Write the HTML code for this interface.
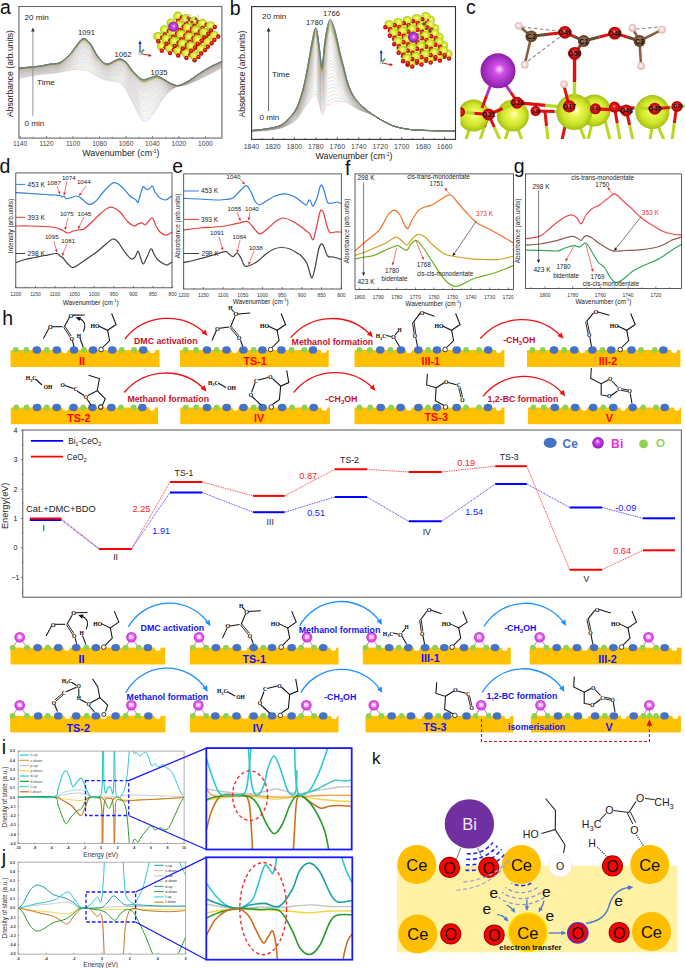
<!DOCTYPE html>
<html><head><meta charset="utf-8"><style>
html,body{margin:0;padding:0;background:#fff;width:685px;height:968px;overflow:hidden}
svg{display:block}
svg text{font-family:"Liberation Sans",sans-serif}
</style></head><body>
<svg width="685" height="968" viewBox="0 0 685 968">
<rect width="685" height="968" fill="#fff"/>
<defs>
<radialGradient id="gCe" cx="0.5" cy="0.5" r="0.5" fx="0.55" fy="0.45"><stop offset="0" stop-color="#ffffd8"/><stop offset="0.25" stop-color="#eef85a"/><stop offset="0.7" stop-color="#cde428"/><stop offset="1" stop-color="#a6be14"/></radialGradient>
<radialGradient id="gO" cx="0.5" cy="0.5" r="0.5" fx="0.45" fy="0.4"><stop offset="0" stop-color="#ff9a9a"/><stop offset="0.35" stop-color="#ee1b1b"/><stop offset="1" stop-color="#a80000"/></radialGradient>
<radialGradient id="gBi" cx="0.5" cy="0.5" r="0.5" fx="0.55" fy="0.45"><stop offset="0" stop-color="#ffd8ff"/><stop offset="0.3" stop-color="#d24fe8"/><stop offset="1" stop-color="#8a1ea8"/></radialGradient>
<radialGradient id="gC" cx="0.5" cy="0.5" r="0.5" fx="0.45" fy="0.4"><stop offset="0" stop-color="#b08a6a"/><stop offset="1" stop-color="#5a3a20"/></radialGradient>
<radialGradient id="gH" cx="0.5" cy="0.5" r="0.5" fx="0.45" fy="0.4"><stop offset="0" stop-color="#ffffff"/><stop offset="1" stop-color="#e0b4b4"/></radialGradient>
<radialGradient id="gBi2" cx="0.5" cy="0.5" r="0.5" fx="0.5" fy="0.4"><stop offset="0" stop-color="#ffe4ff"/><stop offset="0.5" stop-color="#e866f4"/><stop offset="1" stop-color="#c030d4"/></radialGradient>
<radialGradient id="gBiL" cx="0.5" cy="0.5" r="0.5" fx="0.45" fy="0.35"><stop offset="0" stop-color="#f8c8ff"/><stop offset="0.4" stop-color="#c844e8"/><stop offset="1" stop-color="#8a18b8"/></radialGradient>
<clipPath id="clipC"><rect x="460.5" y="0" width="225" height="139"/></clipPath>
</defs>
<clipPath id="clipF"><rect x="355" y="173.9" width="158.4" height="115.6"/></clipPath>
<text x="0" y="14.3" font-size="19.5" text-anchor="start" fill="#111" font-weight="normal" >a</text>
<path d="M19,78.5 C20.83,78.08 26.5,76.67 30,76 C33.5,75.33 36.67,74.92 40,74.5 C43.33,74.08 46.67,73.87 50,73.5 C53.33,73.13 56.67,72.88 60,72.3 C63.33,71.72 67.33,70.47 70,70 C72.67,69.53 73.83,69.58 76,69.5 C78.17,69.42 80.67,69.08 83,69.5 C85.33,69.92 87.67,70.92 90,72 C92.33,73.08 94.83,74.83 97,76 C99.17,77.17 101.17,78.25 103,79 C104.83,79.75 106.17,80.08 108,80.5 C109.83,80.92 112,81.08 114,81.5 C116,81.92 118,81.58 120,83 C122,84.42 123.83,86.67 126,90 C128.17,93.33 130.33,98.08 133,103 C135.67,107.92 139.33,116.83 142,119.5 C144.67,122.17 146.67,120.58 149,119 C151.33,117.42 153.83,113.17 156,110 C158.17,106.83 159.67,103.17 162,100 C164.33,96.83 167.42,93.28 170,91 C172.58,88.72 175,87.3 177.5,86.3 C180,85.3 182.42,85.72 185,85 C187.58,84.28 190.5,83 193,82 C195.5,81 197.17,80.33 200,79 C202.83,77.67 206.42,75.83 210,74 C213.58,72.17 219.58,69 221.5,68" stroke="#e07070" stroke-width="0.45" fill="none" opacity="0.7"/>
<path d="M19,77.87 C20.83,77.47 26.5,76.11 30,75.46 C33.5,74.82 36.67,74.41 40,73.99 C43.33,73.57 46.67,73.31 50,72.93 C53.33,72.55 56.67,72.36 60,71.72 C63.33,71.07 67.33,69.65 70,69.04 C72.67,68.44 73.83,68.33 76,68.1 C78.17,67.86 80.67,67.28 83,67.64 C85.33,68.01 87.67,69.09 90,70.27 C92.33,71.45 94.83,73.46 97,74.75 C99.17,76.03 101.17,77.19 103,77.99 C104.83,78.78 106.17,79.12 108,79.5 C109.83,79.89 112,79.94 114,80.28 C116,80.62 118,80.21 120,81.55 C122,82.89 123.83,85.07 126,88.33 C128.17,91.59 130.33,96.3 133,101.09 C135.67,105.88 139.33,114.52 142,117.09 C144.67,119.67 146.67,118.08 149,116.55 C151.33,115.03 153.83,110.94 156,107.96 C158.17,104.98 159.67,101.59 162,98.69 C164.33,95.78 167.42,92.59 170,90.52 C172.58,88.45 175,87.2 177.5,86.26 C180,85.32 182.42,85.63 185,84.88 C187.58,84.13 190.5,82.8 193,81.76 C195.5,80.72 197.17,80.01 200,78.64 C202.83,77.28 206.42,75.42 210,73.58 C213.58,71.74 219.58,68.61 221.5,67.61" stroke="#70a0e0" stroke-width="0.45" fill="none" opacity="0.7"/>
<path d="M19,77.27 C20.83,76.88 26.5,75.57 30,74.94 C33.5,74.31 36.67,73.93 40,73.5 C43.33,73.07 46.67,72.78 50,72.38 C53.33,71.99 56.67,71.86 60,71.15 C63.33,70.44 67.33,68.85 70,68.12 C72.67,67.38 73.83,67.12 76,66.74 C78.17,66.36 80.67,65.54 83,65.84 C85.33,66.15 87.67,67.31 90,68.59 C92.33,69.87 94.83,72.13 97,73.53 C99.17,74.93 101.17,76.17 103,77 C104.83,77.84 106.17,78.19 108,78.54 C109.83,78.89 112,78.82 114,79.09 C116,79.36 118,78.87 120,80.14 C122,81.41 123.83,83.53 126,86.71 C128.17,89.89 130.33,94.56 133,99.24 C135.67,103.91 139.33,112.27 142,114.76 C144.67,117.25 146.67,115.64 149,114.18 C151.33,112.72 153.83,108.77 156,105.98 C158.17,103.19 159.67,100.07 162,97.41 C164.33,94.76 167.42,91.93 170,90.06 C172.58,88.19 175,87.1 177.5,86.22 C180,85.34 182.42,85.55 185,84.76 C187.58,83.98 190.5,82.61 193,81.53 C195.5,80.45 197.17,79.69 200,78.29 C202.83,76.9 206.42,75.02 210,73.18 C213.58,71.33 219.58,68.23 221.5,67.24" stroke="#70c070" stroke-width="0.45" fill="none" opacity="0.7"/>
<path d="M19,76.68 C20.83,76.3 26.5,75.05 30,74.44 C33.5,73.83 36.67,73.46 40,73.02 C43.33,72.59 46.67,72.26 50,71.85 C53.33,71.45 56.67,71.37 60,70.6 C63.33,69.83 67.33,68.09 70,67.22 C72.67,66.36 73.83,65.94 76,65.42 C78.17,64.9 80.67,63.84 83,64.1 C85.33,64.36 87.67,65.59 90,66.97 C92.33,68.34 94.83,70.84 97,72.36 C99.17,73.87 101.17,75.18 103,76.05 C104.83,76.92 106.17,77.29 108,77.6 C109.83,77.92 112,77.75 114,77.94 C116,78.14 118,77.58 120,78.78 C122,79.98 123.83,82.03 126,85.14 C128.17,88.25 130.33,92.89 133,97.45 C135.67,102.01 139.33,110.1 142,112.51 C144.67,114.91 146.67,113.29 149,111.88 C151.33,110.48 153.83,106.68 156,104.06 C158.17,101.45 159.67,98.59 162,96.18 C164.33,93.77 167.42,91.28 170,89.61 C172.58,87.94 175,87 177.5,86.18 C180,85.35 182.42,85.47 185,84.65 C187.58,83.84 190.5,82.42 193,81.31 C195.5,80.19 197.17,79.38 200,77.96 C202.83,76.54 206.42,74.63 210,72.79 C213.58,70.94 219.58,67.86 221.5,66.87" stroke="#e8a850" stroke-width="0.45" fill="none" opacity="0.7"/>
<path d="M19,76.11 C20.83,75.75 26.5,74.54 30,73.95 C33.5,73.36 36.67,73 40,72.56 C43.33,72.13 46.67,71.75 50,71.34 C53.33,70.92 56.67,70.9 60,70.07 C63.33,69.24 67.33,67.34 70,66.36 C72.67,65.37 73.83,64.8 76,64.15 C78.17,63.49 80.67,62.21 83,62.42 C85.33,62.63 87.67,63.93 90,65.4 C92.33,66.86 94.83,69.6 97,71.22 C99.17,72.84 101.17,74.22 103,75.13 C104.83,76.04 106.17,76.41 108,76.7 C109.83,76.98 112,76.7 114,76.83 C116,76.96 118,76.33 120,77.47 C122,78.6 123.83,80.58 126,83.62 C128.17,86.66 130.33,91.26 133,95.71 C135.67,100.16 139.33,108 142,110.32 C144.67,112.65 146.67,111.01 149,109.66 C151.33,108.31 153.83,104.66 156,102.21 C158.17,99.77 159.67,97.16 162,94.99 C164.33,92.82 167.42,90.65 170,89.18 C172.58,87.7 175,86.91 177.5,86.14 C180,85.37 182.42,85.39 185,84.54 C187.58,83.7 190.5,82.24 193,81.09 C195.5,79.94 197.17,79.08 200,77.63 C202.83,76.19 206.42,74.26 210,72.41 C213.58,70.55 219.58,67.5 221.5,66.52" stroke="#b080d8" stroke-width="0.45" fill="none" opacity="0.7"/>
<path d="M19,75.56 C20.83,75.21 26.5,74.05 30,73.48 C33.5,72.91 36.67,72.56 40,72.12 C43.33,71.68 46.67,71.27 50,70.84 C53.33,70.41 56.67,70.44 60,69.56 C63.33,68.67 67.33,66.62 70,65.52 C72.67,64.41 73.83,63.71 76,62.92 C78.17,62.13 80.67,60.63 83,60.79 C85.33,60.95 87.67,62.32 90,63.88 C92.33,65.43 94.83,68.39 97,70.12 C99.17,71.85 101.17,73.29 103,74.24 C104.83,75.19 106.17,75.57 108,75.82 C109.83,76.08 112,75.7 114,75.76 C116,75.82 118,75.13 120,76.19 C122,77.26 123.83,79.18 126,82.16 C128.17,85.13 130.33,89.7 133,94.04 C135.67,98.38 139.33,105.97 142,108.21 C144.67,110.46 146.67,108.82 149,107.52 C151.33,106.22 153.83,102.7 156,100.42 C158.17,98.14 159.67,95.78 162,93.84 C164.33,91.89 167.42,90.05 170,88.76 C172.58,87.47 175,86.82 177.5,86.1 C180,85.38 182.42,85.31 185,84.44 C187.58,83.57 190.5,82.07 193,80.88 C195.5,79.69 197.17,78.79 200,77.32 C202.83,75.85 206.42,73.9 210,72.04 C213.58,70.18 219.58,67.16 221.5,66.18" stroke="#50c0c0" stroke-width="0.45" fill="none" opacity="0.7"/>
<path d="M19,75.03 C20.83,74.69 26.5,73.58 30,73.02 C33.5,72.47 36.67,72.13 40,71.69 C43.33,71.25 46.67,70.8 50,70.36 C53.33,69.92 56.67,70 60,69.06 C63.33,68.12 67.33,65.93 70,64.71 C72.67,63.49 73.83,62.65 76,61.73 C78.17,60.82 80.67,59.11 83,59.22 C85.33,59.33 87.67,60.77 90,62.41 C92.33,64.05 94.83,67.23 97,69.06 C99.17,70.89 101.17,72.39 103,73.38 C104.83,74.37 106.17,74.76 108,74.98 C109.83,75.2 112,74.73 114,74.72 C116,74.72 118,73.96 120,74.97 C122,75.97 123.83,77.83 126,80.74 C128.17,83.65 130.33,88.18 133,92.42 C135.67,96.66 139.33,104.01 142,106.18 C144.67,108.35 146.67,106.69 149,105.45 C151.33,104.2 153.83,100.81 156,98.69 C158.17,96.57 159.67,94.45 162,92.73 C164.33,91 167.42,89.47 170,88.36 C172.58,87.25 175,86.74 177.5,86.07 C180,85.4 182.42,85.24 185,84.34 C187.58,83.44 190.5,81.9 193,80.68 C195.5,79.46 197.17,78.52 200,77.02 C202.83,75.52 206.42,73.55 210,71.69 C213.58,69.83 219.58,66.82 221.5,65.85" stroke="#d880b0" stroke-width="0.45" fill="none" opacity="0.7"/>
<path d="M19,74.52 C20.83,74.2 26.5,73.13 30,72.59 C33.5,72.05 36.67,71.72 40,71.28 C43.33,70.83 46.67,70.35 50,69.9 C53.33,69.45 56.67,69.58 60,68.58 C63.33,67.59 67.33,65.26 70,63.93 C72.67,62.6 73.83,61.63 76,60.59 C78.17,59.55 80.67,57.64 83,57.71 C85.33,57.77 87.67,59.28 90,61 C92.33,62.72 94.83,66.11 97,68.04 C99.17,69.96 101.17,71.53 103,72.55 C104.83,73.57 106.17,73.97 108,74.17 C109.83,74.36 112,73.79 114,73.73 C116,73.66 118,72.84 120,73.78 C122,74.73 123.83,76.53 126,79.38 C128.17,82.23 130.33,86.72 133,90.86 C135.67,95 139.33,102.12 142,104.22 C144.67,106.31 146.67,104.65 149,103.45 C151.33,102.25 153.83,99 156,97.03 C158.17,95.06 159.67,93.17 162,91.66 C164.33,90.15 167.42,88.9 170,87.97 C172.58,87.03 175,86.66 177.5,86.03 C180,85.41 182.42,85.17 185,84.24 C187.58,83.32 190.5,81.74 193,80.48 C195.5,79.23 197.17,78.25 200,76.72 C202.83,75.2 206.42,73.21 210,71.35 C213.58,69.48 219.58,66.5 221.5,65.53" stroke="#a0a050" stroke-width="0.45" fill="none" opacity="0.7"/>
<path d="M19,74.03 C20.83,73.72 26.5,72.69 30,72.17 C33.5,71.64 36.67,71.33 40,70.88 C43.33,70.43 46.67,69.91 50,69.45 C53.33,68.99 56.67,69.17 60,68.12 C63.33,67.08 67.33,64.62 70,63.18 C72.67,61.74 73.83,60.64 76,59.49 C78.17,58.33 80.67,56.22 83,56.25 C85.33,56.28 87.67,57.84 90,59.64 C92.33,61.44 94.83,65.03 97,67.05 C99.17,69.07 101.17,70.7 103,71.76 C104.83,72.81 106.17,73.22 108,73.38 C109.83,73.55 112,72.89 114,72.77 C116,72.64 118,71.76 120,72.65 C122,73.53 123.83,75.28 126,78.07 C128.17,80.86 130.33,85.32 133,89.37 C135.67,93.41 139.33,100.3 142,102.33 C144.67,104.36 146.67,102.68 149,101.53 C151.33,100.38 153.83,97.25 156,95.43 C158.17,93.61 159.67,91.93 162,90.63 C164.33,89.32 167.42,88.36 170,87.59 C172.58,86.82 175,86.58 177.5,86 C180,85.43 182.42,85.1 185,84.15 C187.58,83.2 190.5,81.58 193,80.3 C195.5,79.01 197.17,77.99 200,76.44 C202.83,74.9 206.42,72.89 210,71.02 C213.58,69.15 219.58,66.19 221.5,65.23" stroke="#80b0e0" stroke-width="0.45" fill="none" opacity="0.7"/>
<path d="M19,73.55 C20.83,73.25 26.5,72.27 30,71.76 C33.5,71.25 36.67,70.95 40,70.5 C43.33,70.04 46.67,69.49 50,69.02 C53.33,68.56 56.67,68.78 60,67.68 C63.33,66.59 67.33,64.01 70,62.46 C72.67,60.92 73.83,59.7 76,58.43 C78.17,57.16 80.67,54.86 83,54.85 C85.33,54.83 87.67,56.46 90,58.34 C92.33,60.22 94.83,64 97,66.11 C99.17,68.22 101.17,69.9 103,70.99 C104.83,72.08 106.17,72.49 108,72.63 C109.83,72.77 112,72.02 114,71.84 C116,71.66 118,70.73 120,71.55 C122,72.38 123.83,74.08 126,76.81 C128.17,79.54 130.33,83.97 133,87.93 C135.67,91.88 139.33,98.56 142,100.52 C144.67,102.48 146.67,100.79 149,99.69 C151.33,98.58 153.83,95.56 156,93.89 C158.17,92.21 159.67,90.75 162,89.64 C164.33,88.53 167.42,87.84 170,87.23 C172.58,86.62 175,86.5 177.5,85.97 C180,85.44 182.42,85.03 185,84.06 C187.58,83.08 190.5,81.43 193,80.12 C195.5,78.8 197.17,77.74 200,76.17 C202.83,74.6 206.42,72.58 210,70.7 C213.58,68.83 219.58,65.9 221.5,64.94" stroke="#e0a070" stroke-width="0.45" fill="none" opacity="0.7"/>
<path d="M19,73.1 C20.83,72.81 26.5,71.87 30,71.37 C33.5,70.88 36.67,70.59 40,70.13 C43.33,69.67 46.67,69.09 50,68.61 C53.33,68.14 56.67,68.4 60,67.26 C63.33,66.12 67.33,63.41 70,61.77 C72.67,60.13 73.83,58.79 76,57.42 C78.17,56.04 80.67,53.56 83,53.51 C85.33,53.45 87.67,55.14 90,57.09 C92.33,59.04 94.83,63.01 97,65.2 C99.17,67.4 101.17,69.14 103,70.26 C104.83,71.38 106.17,71.8 108,71.91 C109.83,72.03 112,71.19 114,70.96 C116,70.72 118,69.73 120,70.5 C122,71.28 123.83,72.93 126,75.6 C128.17,78.27 130.33,82.68 133,86.54 C135.67,90.41 139.33,96.88 142,98.78 C144.67,100.67 146.67,98.98 149,97.92 C151.33,96.86 153.83,93.95 156,92.41 C158.17,90.87 159.67,89.61 162,88.69 C164.33,87.77 167.42,87.34 170,86.89 C172.58,86.43 175,86.43 177.5,85.94 C180,85.45 182.42,84.97 185,83.97 C187.58,82.97 190.5,81.29 193,79.94 C195.5,78.6 197.17,77.51 200,75.91 C202.83,74.32 206.42,72.28 210,70.4 C213.58,68.52 219.58,65.61 221.5,64.66" stroke="#e07070" stroke-width="0.45" fill="none" opacity="0.7"/>
<path d="M19,72.67 C20.83,72.39 26.5,71.48 30,71 C33.5,70.52 36.67,70.24 40,69.78 C43.33,69.31 46.67,68.71 50,68.22 C53.33,67.74 56.67,68.04 60,66.86 C63.33,65.67 67.33,62.85 70,61.11 C72.67,59.38 73.83,57.93 76,56.44 C78.17,54.96 80.67,52.31 83,52.22 C85.33,52.13 87.67,53.87 90,55.89 C92.33,57.91 94.83,62.06 97,64.33 C99.17,66.61 101.17,68.41 103,69.56 C104.83,70.7 106.17,71.13 108,71.22 C109.83,71.31 112,70.4 114,70.11 C116,69.82 118,68.78 120,69.5 C122,70.22 123.83,71.82 126,74.44 C128.17,77.06 130.33,81.44 133,85.22 C135.67,89 139.33,95.28 142,97.11 C144.67,98.94 146.67,97.24 149,96.22 C151.33,95.2 153.83,92.41 156,91 C158.17,89.59 159.67,88.52 162,87.78 C164.33,87.04 167.42,86.87 170,86.56 C172.58,86.24 175,86.36 177.5,85.91 C180,85.47 182.42,84.91 185,83.89 C187.58,82.87 190.5,81.15 193,79.78 C195.5,78.41 197.17,77.28 200,75.67 C202.83,74.06 206.42,71.99 210,70.11 C213.58,68.23 219.58,65.34 221.5,64.39" stroke="#70a0e0" stroke-width="0.45" fill="none" opacity="0.7"/>
<path d="M19,72.25 C20.83,71.98 26.5,71.11 30,70.64 C33.5,70.18 36.67,69.91 40,69.44 C43.33,68.98 46.67,68.34 50,67.85 C53.33,67.35 56.67,67.7 60,66.47 C63.33,65.24 67.33,62.3 70,60.48 C72.67,58.65 73.83,57.1 76,55.52 C78.17,53.94 80.67,51.12 83,50.99 C85.33,50.87 87.67,52.66 90,54.74 C92.33,56.83 94.83,61.15 97,63.5 C99.17,65.86 101.17,67.71 103,68.88 C104.83,70.06 106.17,70.49 108,70.56 C109.83,70.63 112,69.64 114,69.3 C116,68.96 118,67.87 120,68.54 C122,69.21 123.83,70.77 126,73.34 C128.17,75.91 130.33,80.26 133,83.96 C135.67,87.66 139.33,93.75 142,95.52 C144.67,97.29 146.67,95.58 149,94.6 C151.33,93.62 153.83,90.93 156,89.65 C158.17,88.37 159.67,87.48 162,86.91 C164.33,86.34 167.42,86.41 170,86.24 C172.58,86.07 175,86.29 177.5,85.88 C180,85.48 182.42,84.85 185,83.81 C187.58,82.77 190.5,81.02 193,79.62 C195.5,78.22 197.17,77.06 200,75.43 C202.83,73.8 206.42,71.72 210,69.83 C213.58,67.95 219.58,65.08 221.5,64.13" stroke="#70c070" stroke-width="0.45" fill="none" opacity="0.7"/>
<path d="M19,71.86 C20.83,71.6 26.5,70.76 30,70.31 C33.5,69.85 36.67,69.59 40,69.12 C43.33,68.65 46.67,67.99 50,67.49 C53.33,66.99 56.67,67.37 60,66.1 C63.33,64.83 67.33,61.79 70,59.88 C72.67,57.97 73.83,56.31 76,54.63 C78.17,52.96 80.67,49.99 83,49.82 C85.33,49.66 87.67,51.5 90,53.65 C92.33,55.8 94.83,60.28 97,62.71 C99.17,65.15 101.17,67.04 103,68.24 C104.83,69.45 106.17,69.89 108,69.93 C109.83,69.98 112,68.91 114,68.53 C116,68.15 118,67 120,67.63 C122,68.25 123.83,69.76 126,72.28 C128.17,74.81 130.33,79.13 133,82.75 C135.67,86.37 139.33,92.28 142,94 C144.67,95.72 146.67,94 149,93.06 C151.33,92.12 153.83,89.53 156,88.36 C158.17,87.2 159.67,86.48 162,86.08 C164.33,85.68 167.42,85.98 170,85.94 C172.58,85.9 175,86.22 177.5,85.86 C180,85.49 182.42,84.8 185,83.73 C187.58,82.67 190.5,80.89 193,79.47 C195.5,78.05 197.17,76.85 200,75.2 C202.83,73.55 206.42,71.46 210,69.57 C213.58,67.69 219.58,64.83 221.5,63.89" stroke="#e8a850" stroke-width="0.45" fill="none" opacity="0.7"/>
<path d="M19,71.48 C20.83,71.23 26.5,70.43 30,69.98 C33.5,69.54 36.67,69.29 40,68.82 C43.33,68.35 46.67,67.66 50,67.15 C53.33,66.64 56.67,67.06 60,65.75 C63.33,64.44 67.33,61.3 70,59.3 C72.67,57.31 73.83,55.56 76,53.79 C78.17,52.02 80.67,48.91 83,48.71 C85.33,48.51 87.67,50.4 90,52.61 C92.33,54.82 94.83,59.46 97,61.96 C99.17,64.47 101.17,66.41 103,67.64 C104.83,68.86 106.17,69.31 108,69.34 C109.83,69.36 112,68.23 114,67.8 C116,67.37 118,66.17 120,66.76 C122,67.34 123.83,68.81 126,71.28 C128.17,73.76 130.33,78.06 133,81.61 C135.67,85.15 139.33,90.9 142,92.56 C144.67,94.22 146.67,92.5 149,91.59 C151.33,90.69 153.83,88.19 156,87.14 C158.17,86.09 159.67,85.54 162,85.29 C164.33,85.05 167.42,85.56 170,85.65 C172.58,85.74 175,86.16 177.5,85.83 C180,85.5 182.42,84.75 185,83.66 C187.58,82.58 190.5,80.77 193,79.33 C195.5,77.88 197.17,76.66 200,74.99 C202.83,73.32 206.42,71.21 210,69.32 C213.58,67.43 219.58,64.6 221.5,63.65" stroke="#b080d8" stroke-width="0.45" fill="none" opacity="0.7"/>
<path d="M19,71.12 C20.83,70.88 26.5,70.11 30,69.68 C33.5,69.25 36.67,69 40,68.53 C43.33,68.05 46.67,67.35 50,66.83 C53.33,66.31 56.67,66.76 60,65.42 C63.33,64.07 67.33,60.83 70,58.76 C72.67,56.69 73.83,54.84 76,52.99 C78.17,51.14 80.67,47.88 83,47.65 C85.33,47.43 87.67,49.36 90,51.63 C92.33,53.89 94.83,58.68 97,61.25 C99.17,63.82 101.17,65.8 103,67.06 C104.83,68.31 106.17,68.76 108,68.77 C109.83,68.78 112,67.57 114,67.1 C116,66.63 118,65.39 120,65.93 C122,66.47 123.83,67.9 126,70.33 C128.17,72.76 130.33,77.04 133,80.52 C135.67,84 139.33,89.58 142,91.19 C144.67,92.8 146.67,91.07 149,90.2 C151.33,89.33 153.83,86.92 156,85.98 C158.17,85.03 159.67,84.64 162,84.55 C164.33,84.45 167.42,85.17 170,85.38 C172.58,85.59 175,86.11 177.5,85.81 C180,85.51 182.42,84.7 185,83.6 C187.58,82.49 190.5,80.66 193,79.19 C195.5,77.72 197.17,76.47 200,74.79 C202.83,73.1 206.42,70.97 210,69.08 C213.58,67.19 219.58,64.38 221.5,63.43" stroke="#50c0c0" stroke-width="0.45" fill="none" opacity="0.7"/>
<path d="M19,70.79 C20.83,70.55 26.5,69.81 30,69.39 C33.5,68.97 36.67,68.73 40,68.26 C43.33,67.78 46.67,67.05 50,66.52 C53.33,66 56.67,66.48 60,65.1 C63.33,63.72 67.33,60.39 70,58.25 C72.67,56.1 73.83,54.17 76,52.24 C78.17,50.3 80.67,46.91 83,46.65 C85.33,46.4 87.67,48.38 90,50.7 C92.33,53.02 94.83,57.94 97,60.57 C99.17,63.21 101.17,65.24 103,66.51 C104.83,67.79 106.17,68.24 108,68.23 C109.83,68.22 112,66.95 114,66.44 C116,65.93 118,64.65 120,65.15 C122,65.65 123.83,67.04 126,69.43 C128.17,71.82 130.33,76.08 133,79.49 C135.67,82.9 139.33,88.33 142,89.89 C144.67,91.46 146.67,89.72 149,88.88 C151.33,88.04 153.83,85.72 156,84.88 C158.17,84.04 159.67,83.8 162,83.84 C164.33,83.88 167.42,84.8 170,85.12 C172.58,85.45 175,86.05 177.5,85.79 C180,85.52 182.42,84.65 185,83.53 C187.58,82.41 190.5,80.55 193,79.06 C195.5,77.57 197.17,76.29 200,74.59 C202.83,72.89 206.42,70.75 210,68.86 C213.58,66.96 219.58,64.16 221.5,63.22" stroke="#d880b0" stroke-width="0.45" fill="none" opacity="0.7"/>
<path d="M19,70.47 C20.83,70.24 26.5,69.53 30,69.12 C33.5,68.7 36.67,68.48 40,68 C43.33,67.52 46.67,66.77 50,66.23 C53.33,65.7 56.67,66.22 60,64.8 C63.33,63.39 67.33,59.97 70,57.76 C72.67,55.55 73.83,53.53 76,51.52 C78.17,49.52 80.67,46 83,45.71 C85.33,45.43 87.67,47.45 90,49.82 C92.33,52.19 94.83,57.24 97,59.94 C99.17,62.63 101.17,64.7 103,66 C104.83,67.29 106.17,67.76 108,67.73 C109.83,67.7 112,66.37 114,65.82 C116,65.27 118,63.95 120,64.41 C122,64.87 123.83,66.23 126,68.58 C128.17,70.93 130.33,75.17 133,78.52 C135.67,81.87 139.33,87.15 142,88.67 C144.67,90.19 146.67,88.44 149,87.64 C151.33,86.83 153.83,84.58 156,83.84 C158.17,83.1 159.67,83 162,83.17 C164.33,83.35 167.42,84.45 170,84.88 C172.58,85.31 175,86 177.5,85.76 C180,85.53 182.42,84.61 185,83.47 C187.58,82.33 190.5,80.45 193,78.94 C195.5,77.43 197.17,76.13 200,74.41 C202.83,72.69 206.42,70.54 210,68.65 C213.58,66.75 219.58,63.96 221.5,63.03" stroke="#a0a050" stroke-width="0.45" fill="none" opacity="0.7"/>
<path d="M19,70.17 C20.83,69.95 26.5,69.26 30,68.86 C33.5,68.46 36.67,68.24 40,67.76 C43.33,67.27 46.67,66.5 50,65.96 C53.33,65.42 56.67,65.97 60,64.52 C63.33,63.08 67.33,59.58 70,57.31 C72.67,55.03 73.83,52.94 76,50.86 C78.17,48.78 80.67,45.14 83,44.83 C85.33,44.52 87.67,46.57 90,48.99 C92.33,51.41 94.83,56.59 97,59.34 C99.17,62.09 101.17,64.19 103,65.51 C104.83,66.83 106.17,67.3 108,67.25 C109.83,67.2 112,65.82 114,65.24 C116,64.65 118,63.3 120,63.72 C122,64.15 123.83,65.47 126,67.79 C128.17,70.1 130.33,74.32 133,77.61 C135.67,80.9 139.33,86.05 142,87.53 C144.67,89 146.67,87.25 149,86.47 C151.33,85.69 153.83,83.52 156,82.87 C158.17,82.21 159.67,82.25 162,82.55 C164.33,82.84 167.42,84.12 170,84.65 C172.58,85.19 175,85.95 177.5,85.74 C180,85.54 182.42,84.57 185,83.41 C187.58,82.26 190.5,80.36 193,78.83 C195.5,77.3 197.17,75.97 200,74.24 C202.83,72.51 206.42,70.35 210,68.45 C213.58,66.55 219.58,63.78 221.5,62.84" stroke="#80b0e0" stroke-width="0.45" fill="none" opacity="0.7"/>
<path d="M19,69.89 C20.83,69.68 26.5,69.01 30,68.62 C33.5,68.23 36.67,68.01 40,67.53 C43.33,67.04 46.67,66.25 50,65.71 C53.33,65.17 56.67,65.74 60,64.26 C63.33,62.79 67.33,59.22 70,56.88 C72.67,54.54 73.83,52.38 76,50.23 C78.17,48.08 80.67,44.33 83,44 C85.33,43.66 87.67,45.76 90,48.22 C92.33,50.68 94.83,55.97 97,58.78 C99.17,61.59 101.17,63.72 103,65.06 C104.83,66.4 106.17,66.87 108,66.81 C109.83,66.74 112,65.31 114,64.69 C116,64.07 118,62.68 120,63.07 C122,63.47 123.83,64.76 126,67.04 C128.17,69.32 130.33,73.52 133,76.76 C135.67,80 139.33,85.02 142,86.45 C144.67,87.89 146.67,86.13 149,85.38 C151.33,84.63 153.83,82.53 156,81.96 C158.17,81.39 159.67,81.55 162,81.96 C164.33,82.37 167.42,83.81 170,84.44 C172.58,85.07 175,85.91 177.5,85.73 C180,85.55 182.42,84.53 185,83.36 C187.58,82.19 190.5,80.27 193,78.72 C195.5,77.17 197.17,75.82 200,74.08 C202.83,72.34 206.42,70.16 210,68.26 C213.58,66.36 219.58,63.6 221.5,62.67" stroke="#e0a070" stroke-width="0.45" fill="none" opacity="0.7"/>
<path d="M19,69.63 C20.83,69.42 26.5,68.78 30,68.4 C33.5,68.01 36.67,67.81 40,67.32 C43.33,66.83 46.67,66.02 50,65.47 C53.33,64.92 56.67,65.52 60,64.02 C63.33,62.52 67.33,58.88 70,56.48 C72.67,54.09 73.83,51.86 76,49.65 C78.17,47.44 80.67,43.58 83,43.23 C85.33,42.87 87.67,45 90,47.5 C92.33,50.01 94.83,55.4 97,58.26 C99.17,61.12 101.17,63.28 103,64.64 C104.83,65.99 106.17,66.47 108,66.39 C109.83,66.32 112,64.83 114,64.18 C116,63.53 118,62.11 120,62.47 C122,62.83 123.83,64.1 126,66.35 C128.17,68.59 130.33,72.78 133,75.97 C135.67,79.15 139.33,84.05 142,85.45 C144.67,86.85 146.67,85.09 149,84.36 C151.33,83.64 153.83,81.6 156,81.11 C158.17,80.62 159.67,80.89 162,81.41 C164.33,81.94 167.42,83.53 170,84.24 C172.58,84.96 175,85.86 177.5,85.71 C180,85.55 182.42,84.49 185,83.31 C187.58,82.13 190.5,80.18 193,78.62 C195.5,77.06 197.17,75.69 200,73.93 C202.83,72.18 206.42,69.99 210,68.09 C213.58,66.18 219.58,63.44 221.5,62.51" stroke="#e07070" stroke-width="0.45" fill="none" opacity="0.7"/>
<path d="M19,69.39 C20.83,69.19 26.5,68.57 30,68.19 C33.5,67.81 36.67,67.61 40,67.12 C43.33,66.63 46.67,65.81 50,65.26 C53.33,64.7 56.67,65.32 60,63.8 C63.33,62.27 67.33,58.56 70,56.12 C72.67,53.67 73.83,51.37 76,49.11 C78.17,46.84 80.67,42.89 83,42.51 C85.33,42.13 87.67,44.29 90,46.83 C92.33,49.38 94.83,54.87 97,57.78 C99.17,60.68 101.17,62.88 103,64.25 C104.83,65.62 106.17,66.1 108,66.01 C109.83,65.92 112,64.39 114,63.71 C116,63.03 118,61.58 120,61.91 C122,62.25 123.83,63.48 126,65.7 C128.17,67.92 130.33,72.09 133,75.23 C135.67,78.37 139.33,83.16 142,84.53 C144.67,85.89 146.67,84.12 149,83.42 C151.33,82.72 153.83,80.74 156,80.32 C158.17,79.9 159.67,80.29 162,80.91 C164.33,81.53 167.42,83.26 170,84.06 C172.58,84.86 175,85.82 177.5,85.69 C180,85.56 182.42,84.46 185,83.26 C187.58,82.07 190.5,80.11 193,78.53 C195.5,76.95 197.17,75.56 200,73.79 C202.83,72.03 206.42,69.83 210,67.93 C213.58,66.02 219.58,63.29 221.5,62.36" stroke="#70a0e0" stroke-width="0.45" fill="none" opacity="0.7"/>
<path d="M19,69.17 C20.83,68.97 26.5,68.37 30,68 C33.5,67.63 36.67,67.44 40,66.94 C43.33,66.45 46.67,65.61 50,65.06 C53.33,64.5 56.67,65.14 60,63.59 C63.33,62.04 67.33,58.27 70,55.78 C72.67,53.28 73.83,50.93 76,48.61 C78.17,46.29 80.67,42.25 83,41.86 C85.33,41.46 87.67,43.64 90,46.22 C92.33,48.8 94.83,54.39 97,57.33 C99.17,60.28 101.17,62.5 103,63.89 C104.83,65.28 106.17,65.76 108,65.66 C109.83,65.55 112,63.99 114,63.28 C116,62.57 118,61.09 120,61.4 C122,61.71 123.83,62.92 126,65.11 C128.17,67.3 130.33,71.46 133,74.56 C135.67,77.65 139.33,82.34 142,83.68 C144.67,85.01 146.67,83.24 149,82.56 C151.33,81.88 153.83,79.95 156,79.6 C158.17,79.25 159.67,79.73 162,80.44 C164.33,81.16 167.42,83.02 170,83.89 C172.58,84.76 175,85.79 177.5,85.68 C180,85.57 182.42,84.43 185,83.22 C187.58,82.02 190.5,80.04 193,78.44 C195.5,76.85 197.17,75.44 200,73.67 C202.83,71.89 206.42,69.69 210,67.78 C213.58,65.87 219.58,63.15 221.5,62.22" stroke="#70c070" stroke-width="0.45" fill="none" opacity="0.7"/>
<path d="M19,68.96 C20.83,68.77 26.5,68.19 30,67.83 C33.5,67.46 36.67,67.27 40,66.78 C43.33,66.29 46.67,65.44 50,64.87 C53.33,64.31 56.67,64.97 60,63.4 C63.33,61.83 67.33,58.01 70,55.47 C72.67,52.93 73.83,50.53 76,48.16 C78.17,45.79 80.67,41.67 83,41.26 C85.33,40.84 87.67,43.05 90,45.66 C92.33,48.28 94.83,53.95 97,56.93 C99.17,59.91 101.17,62.16 103,63.56 C104.83,64.96 106.17,65.45 108,65.33 C109.83,65.22 112,63.62 114,62.88 C116,62.15 118,60.65 120,60.93 C122,61.21 123.83,62.4 126,64.57 C128.17,66.74 130.33,70.88 133,73.94 C135.67,76.99 139.33,81.6 142,82.9 C144.67,84.21 146.67,82.42 149,81.76 C151.33,81.1 153.83,79.23 156,78.94 C158.17,78.65 159.67,79.22 162,80.02 C164.33,80.82 167.42,82.79 170,83.73 C172.58,84.68 175,85.76 177.5,85.66 C180,85.57 182.42,84.4 185,83.18 C187.58,81.97 190.5,79.97 193,78.37 C195.5,76.76 197.17,75.34 200,73.55 C202.83,71.76 206.42,69.55 210,67.64 C213.58,65.73 219.58,63.02 221.5,62.1" stroke="#e8a850" stroke-width="0.45" fill="none" opacity="0.7"/>
<path d="M19,68.78 C20.83,68.6 26.5,68.03 30,67.67 C33.5,67.31 36.67,67.13 40,66.63 C43.33,66.14 46.67,65.27 50,64.71 C53.33,64.14 56.67,64.82 60,63.23 C63.33,61.64 67.33,57.77 70,55.19 C72.67,52.61 73.83,50.16 76,47.75 C78.17,45.34 80.67,41.15 83,40.71 C85.33,40.28 87.67,42.52 90,45.16 C92.33,47.8 94.83,53.54 97,56.56 C99.17,59.58 101.17,61.85 103,63.26 C104.83,64.68 106.17,65.17 108,65.04 C109.83,64.92 112,63.28 114,62.52 C116,61.77 118,60.25 120,60.51 C122,60.77 123.83,61.94 126,64.08 C128.17,66.23 130.33,70.36 133,73.38 C135.67,76.4 139.33,80.92 142,82.2 C144.67,83.48 146.67,81.69 149,81.05 C151.33,80.41 153.83,78.58 156,78.34 C158.17,78.11 159.67,78.76 162,79.64 C164.33,80.51 167.42,82.59 170,83.6 C172.58,84.6 175,85.73 177.5,85.65 C180,85.58 182.42,84.37 185,83.15 C187.58,81.92 190.5,79.91 193,78.3 C195.5,76.68 197.17,75.24 200,73.45 C202.83,71.65 206.42,69.43 210,67.52 C213.58,65.61 219.58,62.91 221.5,61.98" stroke="#9a9a3a" stroke-width="0.55" fill="none" opacity="0.95"/>
<path d="M19,68.62 C20.83,68.44 26.5,67.88 30,67.53 C33.5,67.18 36.67,66.99 40,66.5 C43.33,66 46.67,65.13 50,64.56 C53.33,63.99 56.67,64.68 60,63.08 C63.33,61.47 67.33,57.56 70,54.94 C72.67,52.32 73.83,49.83 76,47.38 C78.17,44.93 80.67,40.67 83,40.23 C85.33,39.78 87.67,42.04 90,44.7 C92.33,47.37 94.83,53.19 97,56.23 C99.17,59.28 101.17,61.57 103,63 C104.83,64.42 106.17,64.91 108,64.78 C109.83,64.65 112,62.98 114,62.2 C116,61.43 118,59.89 120,60.13 C122,60.37 123.83,61.52 126,63.65 C128.17,65.77 130.33,69.89 133,72.88 C135.67,75.87 139.33,80.31 142,81.57 C144.67,82.82 146.67,81.04 149,80.41 C151.33,79.78 153.83,78 156,77.81 C158.17,77.62 159.67,78.35 162,79.29 C164.33,80.24 167.42,82.41 170,83.47 C172.58,84.53 175,85.7 177.5,85.64 C180,85.58 182.42,84.35 185,83.12 C187.58,81.88 190.5,79.86 193,78.24 C195.5,76.61 197.17,75.16 200,73.35 C202.83,71.55 206.42,69.32 210,67.41 C213.58,65.5 219.58,62.8 221.5,61.88" stroke="#c08850" stroke-width="0.55" fill="none" opacity="0.95"/>
<path d="M19,68.47 C20.83,68.29 26.5,67.75 30,67.4 C33.5,67.06 36.67,66.88 40,66.38 C43.33,65.89 46.67,65 50,64.43 C53.33,63.85 56.67,64.56 60,62.94 C63.33,61.32 67.33,57.37 70,54.72 C72.67,52.07 73.83,49.54 76,47.06 C78.17,44.57 80.67,40.26 83,39.8 C85.33,39.34 87.67,41.61 90,44.3 C92.33,47 94.83,52.87 97,55.94 C99.17,59.02 101.17,61.33 103,62.76 C104.83,64.2 106.17,64.69 108,64.55 C109.83,64.41 112,62.72 114,61.92 C116,61.13 118,59.57 120,59.79 C122,60.02 123.83,61.15 126,63.26 C128.17,65.37 130.33,69.48 133,72.44 C135.67,75.4 139.33,79.78 142,81.01 C144.67,82.25 146.67,80.46 149,79.84 C151.33,79.23 153.83,77.48 156,77.34 C158.17,77.2 159.67,77.99 162,78.99 C164.33,79.99 167.42,82.25 170,83.36 C172.58,84.47 175,85.68 177.5,85.63 C180,85.59 182.42,84.33 185,83.09 C187.58,81.85 190.5,79.82 193,78.18 C195.5,76.54 197.17,75.08 200,73.27 C202.83,71.46 206.42,69.23 210,67.31 C213.58,65.4 219.58,62.71 221.5,61.79" stroke="#44a8a8" stroke-width="0.55" fill="none" opacity="0.95"/>
<path d="M19,68.35 C20.83,68.17 26.5,67.64 30,67.3 C33.5,66.95 36.67,66.78 40,66.28 C43.33,65.78 46.67,64.89 50,64.31 C53.33,63.74 56.67,64.45 60,62.82 C63.33,61.19 67.33,57.2 70,54.53 C72.67,51.85 73.83,49.29 76,46.78 C78.17,44.26 80.67,39.9 83,39.43 C85.33,38.96 87.67,41.25 90,43.96 C92.33,46.67 94.83,52.59 97,55.69 C99.17,58.79 101.17,61.12 103,62.56 C104.83,64 106.17,64.5 108,64.35 C109.83,64.2 112,62.49 114,61.68 C116,60.87 118,59.3 120,59.5 C122,59.71 123.83,60.83 126,62.93 C128.17,65.02 130.33,69.12 133,72.06 C135.67,74.99 139.33,79.32 142,80.53 C144.67,81.75 146.67,79.96 149,79.36 C151.33,78.76 153.83,77.04 156,76.93 C158.17,76.83 159.67,77.67 162,78.73 C164.33,79.78 167.42,82.12 170,83.26 C172.58,84.41 175,85.66 177.5,85.62 C180,85.59 182.42,84.31 185,83.07 C187.58,81.82 190.5,79.78 193,78.13 C195.5,76.49 197.17,75.02 200,73.2 C202.83,71.38 206.42,69.15 210,67.23 C213.58,65.32 219.58,62.63 221.5,61.71" stroke="#80803a" stroke-width="0.55" fill="none" opacity="0.95"/>
<path d="M19,68.24 C20.83,68.07 26.5,67.55 30,67.21 C33.5,66.87 36.67,66.69 40,66.2 C43.33,65.7 46.67,64.8 50,64.22 C53.33,63.64 56.67,64.37 60,62.72 C63.33,61.08 67.33,57.06 70,54.37 C72.67,51.67 73.83,49.08 76,46.54 C78.17,44 80.67,39.59 83,39.11 C85.33,38.64 87.67,40.94 90,43.67 C92.33,46.39 94.83,52.36 97,55.48 C99.17,58.6 101.17,60.94 103,62.39 C104.83,63.84 106.17,64.34 108,64.18 C109.83,64.03 112,62.29 114,61.47 C116,60.65 118,59.06 120,59.26 C122,59.45 123.83,60.56 126,62.64 C128.17,64.72 130.33,68.82 133,71.73 C135.67,74.65 139.33,78.92 142,80.13 C144.67,81.33 146.67,79.53 149,78.94 C151.33,78.35 153.83,76.66 156,76.59 C158.17,76.51 159.67,77.41 162,78.51 C164.33,79.6 167.42,82 170,83.18 C172.58,84.37 175,85.64 177.5,85.62 C180,85.59 182.42,84.3 185,83.05 C187.58,81.79 190.5,79.74 193,78.09 C195.5,76.44 197.17,74.96 200,73.14 C202.83,71.32 206.42,69.08 210,67.16 C213.58,65.25 219.58,62.57 221.5,61.65" stroke="#a06a40" stroke-width="0.55" fill="none" opacity="0.95"/>
<path d="M19,68.15 C20.83,67.98 26.5,67.47 30,67.13 C33.5,66.79 36.67,66.62 40,66.12 C43.33,65.63 46.67,64.72 50,64.14 C53.33,63.56 56.67,64.29 60,62.64 C63.33,60.99 67.33,56.95 70,54.24 C72.67,51.52 73.83,48.91 76,46.35 C78.17,43.78 80.67,39.34 83,38.86 C85.33,38.37 87.67,40.68 90,43.43 C92.33,46.17 94.83,52.17 97,55.31 C99.17,58.45 101.17,60.79 103,62.25 C104.83,63.71 106.17,64.2 108,64.05 C109.83,63.89 112,62.13 114,61.3 C116,60.47 118,58.87 120,59.06 C122,59.24 123.83,60.34 126,62.41 C128.17,64.48 130.33,68.57 133,71.47 C135.67,74.37 139.33,78.6 142,79.79 C144.67,80.98 146.67,79.18 149,78.6 C151.33,78.02 153.83,76.35 156,76.3 C158.17,76.26 159.67,77.19 162,78.32 C164.33,79.46 167.42,81.9 170,83.12 C172.58,84.33 175,85.62 177.5,85.61 C180,85.6 182.42,84.29 185,83.03 C187.58,81.77 190.5,79.72 193,78.06 C195.5,76.4 197.17,74.91 200,73.09 C202.83,71.26 206.42,69.02 210,67.1 C213.58,65.19 219.58,62.51 221.5,61.6" stroke="#6a8a3a" stroke-width="0.55" fill="none" opacity="0.95"/>
<path d="M19,68.09 C20.83,67.92 26.5,67.41 30,67.07 C33.5,66.74 36.67,66.57 40,66.07 C43.33,65.57 46.67,64.66 50,64.08 C53.33,63.5 56.67,64.24 60,62.58 C63.33,60.92 67.33,56.86 70,54.13 C72.67,51.4 73.83,48.77 76,46.19 C78.17,43.62 80.67,39.15 83,38.66 C85.33,38.16 87.67,40.49 90,43.24 C92.33,45.99 94.83,52.02 97,55.17 C99.17,58.32 101.17,60.68 103,62.14 C104.83,63.6 106.17,64.1 108,63.94 C109.83,63.78 112,62.01 114,61.17 C116,60.33 118,58.72 120,58.9 C122,59.08 123.83,60.17 126,62.23 C128.17,64.29 130.33,68.38 133,71.26 C135.67,74.15 139.33,78.35 142,79.53 C144.67,80.71 146.67,78.91 149,78.34 C151.33,77.76 153.83,76.11 156,76.08 C158.17,76.06 159.67,77.02 162,78.18 C164.33,79.35 167.42,81.83 170,83.07 C172.58,84.3 175,85.61 177.5,85.61 C180,85.6 182.42,84.28 185,83.02 C187.58,81.75 190.5,79.69 193,78.03 C195.5,76.37 197.17,74.88 200,73.05 C202.83,71.22 206.42,68.97 210,67.06 C213.58,65.14 219.58,62.47 221.5,61.55" stroke="#b07838" stroke-width="0.55" fill="none" opacity="0.95"/>
<path d="M19,68.04 C20.83,67.87 26.5,67.37 30,67.03 C33.5,66.7 36.67,66.53 40,66.03 C43.33,65.53 46.67,64.62 50,64.03 C53.33,63.45 56.67,64.2 60,62.54 C63.33,60.87 67.33,56.8 70,54.06 C72.67,51.32 73.83,48.68 76,46.09 C78.17,43.5 80.67,39.01 83,38.51 C85.33,38.02 87.67,40.35 90,43.11 C92.33,45.87 94.83,51.92 97,55.08 C99.17,58.24 101.17,60.6 103,62.06 C104.83,63.53 106.17,64.03 108,63.86 C109.83,63.7 112,61.92 114,61.08 C116,60.23 118,58.62 120,58.79 C122,58.96 123.83,60.05 126,62.1 C128.17,64.16 130.33,68.24 133,71.12 C135.67,73.99 139.33,78.18 142,79.35 C144.67,80.52 146.67,78.72 149,78.15 C151.33,77.58 153.83,75.94 156,75.93 C158.17,75.91 159.67,76.9 162,78.08 C164.33,79.26 167.42,81.78 170,83.03 C172.58,84.28 175,85.61 177.5,85.6 C180,85.6 182.42,84.27 185,83.01 C187.58,81.74 190.5,79.68 193,78.01 C195.5,76.35 197.17,74.85 200,73.02 C202.83,71.19 206.42,68.94 210,67.03 C213.58,65.11 219.58,62.44 221.5,61.52" stroke="#3a9a9a" stroke-width="0.55" fill="none" opacity="0.95"/>
<path d="M19,68.01 C20.83,67.84 26.5,67.34 30,67.01 C33.5,66.67 36.67,66.51 40,66.01 C43.33,65.51 46.67,64.59 50,64.01 C53.33,63.43 56.67,64.17 60,62.51 C63.33,60.84 67.33,56.76 70,54.01 C72.67,51.27 73.83,48.62 76,46.02 C78.17,43.42 80.67,38.93 83,38.43 C85.33,37.93 87.67,40.26 90,43.03 C92.33,45.79 94.83,51.85 97,55.02 C99.17,58.18 101.17,60.55 103,62.02 C104.83,63.48 106.17,63.98 108,63.82 C109.83,63.65 112,61.87 114,61.02 C116,60.17 118,58.55 120,58.72 C122,58.89 123.83,59.97 126,62.03 C128.17,64.08 130.33,68.16 133,71.03 C135.67,73.9 139.33,78.07 142,79.24 C144.67,80.41 146.67,78.61 149,78.04 C151.33,77.47 153.83,75.83 156,75.83 C158.17,75.83 159.67,76.82 162,78.02 C164.33,79.22 167.42,81.74 170,83.01 C172.58,84.27 175,85.6 177.5,85.6 C180,85.6 182.42,84.27 185,83 C187.58,81.74 190.5,79.67 193,78 C195.5,76.34 197.17,74.84 200,73.01 C202.83,71.17 206.42,68.92 210,67.01 C213.58,65.09 219.58,62.42 221.5,61.51" stroke="#7a7a30" stroke-width="0.55" fill="none" opacity="0.95"/>
<path d="M19,68 C20.83,67.83 26.5,67.33 30,67 C33.5,66.67 36.67,66.5 40,66 C43.33,65.5 46.67,64.58 50,64 C53.33,63.42 56.67,64.17 60,62.5 C63.33,60.83 67.33,56.75 70,54 C72.67,51.25 73.83,48.6 76,46 C78.17,43.4 80.67,38.9 83,38.4 C85.33,37.9 87.67,40.23 90,43 C92.33,45.77 94.83,51.83 97,55 C99.17,58.17 101.17,60.53 103,62 C104.83,63.47 106.17,63.97 108,63.8 C109.83,63.63 112,61.85 114,61 C116,60.15 118,58.53 120,58.7 C122,58.87 123.83,59.95 126,62 C128.17,64.05 130.33,68.13 133,71 C135.67,73.87 139.33,78.03 142,79.2 C144.67,80.37 146.67,78.57 149,78 C151.33,77.43 153.83,75.8 156,75.8 C158.17,75.8 159.67,76.8 162,78 C164.33,79.2 167.42,81.73 170,83 C172.58,84.27 175,85.6 177.5,85.6 C180,85.6 182.42,84.27 185,83 C187.58,81.73 190.5,79.67 193,78 C195.5,76.33 197.17,74.83 200,73 C202.83,71.17 206.42,68.92 210,67 C213.58,65.08 219.58,62.42 221.5,61.5" stroke="#5a78b8" stroke-width="0.55" fill="none" opacity="0.95"/>
<rect x="18.9" y="6.5" width="203" height="131.6" fill="none" stroke="#666" stroke-width="1.1" />
<line x1="20.1" y1="138.1" x2="20.1" y2="135.9" stroke="#666" stroke-width="0.8" />
<text x="20.1" y="146.18" font-size="6.6" text-anchor="middle" fill="#444" font-weight="normal" >1140</text>
<line x1="33.34" y1="138.1" x2="33.34" y2="136.8" stroke="#666" stroke-width="0.8" />
<line x1="46.57" y1="138.1" x2="46.57" y2="135.9" stroke="#666" stroke-width="0.8" />
<text x="46.57" y="146.18" font-size="6.6" text-anchor="middle" fill="#444" font-weight="normal" >1120</text>
<line x1="59.81" y1="138.1" x2="59.81" y2="136.8" stroke="#666" stroke-width="0.8" />
<line x1="73.04" y1="138.1" x2="73.04" y2="135.9" stroke="#666" stroke-width="0.8" />
<text x="73.04" y="146.18" font-size="6.6" text-anchor="middle" fill="#444" font-weight="normal" >1100</text>
<line x1="86.28" y1="138.1" x2="86.28" y2="136.8" stroke="#666" stroke-width="0.8" />
<line x1="99.52" y1="138.1" x2="99.52" y2="135.9" stroke="#666" stroke-width="0.8" />
<text x="99.52" y="146.18" font-size="6.6" text-anchor="middle" fill="#444" font-weight="normal" >1080</text>
<line x1="112.75" y1="138.1" x2="112.75" y2="136.8" stroke="#666" stroke-width="0.8" />
<line x1="125.99" y1="138.1" x2="125.99" y2="135.9" stroke="#666" stroke-width="0.8" />
<text x="125.99" y="146.18" font-size="6.6" text-anchor="middle" fill="#444" font-weight="normal" >1060</text>
<line x1="139.22" y1="138.1" x2="139.22" y2="136.8" stroke="#666" stroke-width="0.8" />
<line x1="152.46" y1="138.1" x2="152.46" y2="135.9" stroke="#666" stroke-width="0.8" />
<text x="152.46" y="146.18" font-size="6.6" text-anchor="middle" fill="#444" font-weight="normal" >1040</text>
<line x1="165.7" y1="138.1" x2="165.7" y2="136.8" stroke="#666" stroke-width="0.8" />
<line x1="178.93" y1="138.1" x2="178.93" y2="135.9" stroke="#666" stroke-width="0.8" />
<text x="178.93" y="146.18" font-size="6.6" text-anchor="middle" fill="#444" font-weight="normal" >1020</text>
<line x1="192.17" y1="138.1" x2="192.17" y2="136.8" stroke="#666" stroke-width="0.8" />
<line x1="205.4" y1="138.1" x2="205.4" y2="135.9" stroke="#666" stroke-width="0.8" />
<text x="205.4" y="146.18" font-size="6.6" text-anchor="middle" fill="#444" font-weight="normal" >1000</text>
<text x="120.9" y="156" font-size="8.9" text-anchor="middle" fill="#222" font-weight="normal" >Wavenumber (cm<tspan font-size="5" dy="-3">-1</tspan><tspan dy="3">)</tspan></text>
<text transform="translate(9.7,73.5) rotate(-90)" x="0" y="3.1" font-size="8.6" text-anchor="middle" fill="#222" font-weight="normal">Absorbance (arb.units)</text>
<text x="24.5" y="20.42" font-size="8.1" text-anchor="start" fill="#222" font-weight="normal" >20 min</text>
<text x="24.5" y="125.72" font-size="8.1" text-anchor="start" fill="#222" font-weight="normal" >0 min</text>
<text x="37" y="84.92" font-size="8.1" text-anchor="start" fill="#222" font-weight="normal" >Time</text>
<line x1="32.9" y1="116" x2="32.9" y2="31" stroke="#888" stroke-width="0.9" />
<path d="M32.9,27.5 L34.7,31.5 L31.1,31.5 Z" fill="#333"/>
<text x="86.5" y="35.34" font-size="7.6" text-anchor="middle" fill="#222" font-weight="normal" >1091</text>
<text x="123" y="57.04" font-size="7.6" text-anchor="middle" fill="#222" font-weight="normal" >1062</text>
<text x="159" y="74.54" font-size="7.6" text-anchor="middle" fill="#222" font-weight="normal" >1035</text>
<circle cx="181.3" cy="25.7" r="4.6" fill="url(#gCe)" stroke="none" stroke-width="1" />
<circle cx="181.6" cy="30.3" r="2.2" fill="url(#gO)" stroke="none" stroke-width="1" />
<circle cx="185.5" cy="26.9" r="2.2" fill="url(#gO)" stroke="none" stroke-width="1" />
<circle cx="189.5" cy="28.1" r="4.6" fill="url(#gCe)" stroke="none" stroke-width="1" />
<circle cx="189.8" cy="32.7" r="2.2" fill="url(#gO)" stroke="none" stroke-width="1" />
<circle cx="193.7" cy="29.3" r="2.2" fill="url(#gO)" stroke="none" stroke-width="1" />
<circle cx="197.7" cy="30.5" r="4.6" fill="url(#gCe)" stroke="none" stroke-width="1" />
<circle cx="198" cy="35.1" r="2.2" fill="url(#gO)" stroke="none" stroke-width="1" />
<circle cx="201.9" cy="31.7" r="2.2" fill="url(#gO)" stroke="none" stroke-width="1" />
<circle cx="174.7" cy="32.5" r="4.6" fill="url(#gCe)" stroke="none" stroke-width="1" />
<circle cx="205.9" cy="32.9" r="4.6" fill="url(#gCe)" stroke="none" stroke-width="1" />
<circle cx="175" cy="37.1" r="2.2" fill="url(#gO)" stroke="none" stroke-width="1" />
<circle cx="178.9" cy="33.7" r="2.2" fill="url(#gO)" stroke="none" stroke-width="1" />
<circle cx="206.2" cy="37.5" r="2.2" fill="url(#gO)" stroke="none" stroke-width="1" />
<circle cx="210.1" cy="34.1" r="2.2" fill="url(#gO)" stroke="none" stroke-width="1" />
<circle cx="182.9" cy="34.9" r="4.6" fill="url(#gCe)" stroke="none" stroke-width="1" />
<circle cx="214.1" cy="35.3" r="4.6" fill="url(#gCe)" stroke="none" stroke-width="1" />
<circle cx="183.2" cy="39.5" r="2.2" fill="url(#gO)" stroke="none" stroke-width="1" />
<circle cx="187.1" cy="36.1" r="2.2" fill="url(#gO)" stroke="none" stroke-width="1" />
<circle cx="214.4" cy="39.9" r="2.2" fill="url(#gO)" stroke="none" stroke-width="1" />
<circle cx="218.3" cy="36.5" r="2.2" fill="url(#gO)" stroke="none" stroke-width="1" />
<circle cx="191.1" cy="37.3" r="4.6" fill="url(#gCe)" stroke="none" stroke-width="1" />
<circle cx="191.4" cy="41.9" r="2.2" fill="url(#gO)" stroke="none" stroke-width="1" />
<circle cx="195.3" cy="38.5" r="2.2" fill="url(#gO)" stroke="none" stroke-width="1" />
<circle cx="168.1" cy="39.3" r="4.6" fill="url(#gCe)" stroke="none" stroke-width="1" />
<circle cx="199.3" cy="39.7" r="4.6" fill="url(#gCe)" stroke="none" stroke-width="1" />
<circle cx="168.4" cy="43.9" r="2.2" fill="url(#gO)" stroke="none" stroke-width="1" />
<circle cx="172.3" cy="40.5" r="2.2" fill="url(#gO)" stroke="none" stroke-width="1" />
<circle cx="199.6" cy="44.3" r="2.2" fill="url(#gO)" stroke="none" stroke-width="1" />
<circle cx="203.5" cy="40.9" r="2.2" fill="url(#gO)" stroke="none" stroke-width="1" />
<circle cx="176.3" cy="41.7" r="4.6" fill="url(#gCe)" stroke="none" stroke-width="1" />
<circle cx="207.5" cy="42.1" r="4.6" fill="url(#gCe)" stroke="none" stroke-width="1" />
<circle cx="176.6" cy="46.3" r="2.2" fill="url(#gO)" stroke="none" stroke-width="1" />
<circle cx="180.5" cy="42.9" r="2.2" fill="url(#gO)" stroke="none" stroke-width="1" />
<circle cx="207.8" cy="46.7" r="2.2" fill="url(#gO)" stroke="none" stroke-width="1" />
<circle cx="211.7" cy="43.3" r="2.2" fill="url(#gO)" stroke="none" stroke-width="1" />
<circle cx="184.5" cy="44.1" r="4.6" fill="url(#gCe)" stroke="none" stroke-width="1" />
<circle cx="184.8" cy="48.7" r="2.2" fill="url(#gO)" stroke="none" stroke-width="1" />
<circle cx="188.7" cy="45.3" r="2.2" fill="url(#gO)" stroke="none" stroke-width="1" />
<circle cx="161.5" cy="46.1" r="4.6" fill="url(#gCe)" stroke="none" stroke-width="1" />
<circle cx="192.7" cy="46.5" r="4.6" fill="url(#gCe)" stroke="none" stroke-width="1" />
<circle cx="161.8" cy="50.7" r="2.2" fill="url(#gO)" stroke="none" stroke-width="1" />
<circle cx="165.7" cy="47.3" r="2.2" fill="url(#gO)" stroke="none" stroke-width="1" />
<circle cx="193" cy="51.1" r="2.2" fill="url(#gO)" stroke="none" stroke-width="1" />
<circle cx="196.9" cy="47.7" r="2.2" fill="url(#gO)" stroke="none" stroke-width="1" />
<circle cx="169.7" cy="48.5" r="4.6" fill="url(#gCe)" stroke="none" stroke-width="1" />
<circle cx="200.9" cy="48.9" r="4.6" fill="url(#gCe)" stroke="none" stroke-width="1" />
<circle cx="170" cy="53.1" r="2.2" fill="url(#gO)" stroke="none" stroke-width="1" />
<circle cx="173.9" cy="49.7" r="2.2" fill="url(#gO)" stroke="none" stroke-width="1" />
<circle cx="201.2" cy="53.5" r="2.2" fill="url(#gO)" stroke="none" stroke-width="1" />
<circle cx="205.1" cy="50.1" r="2.2" fill="url(#gO)" stroke="none" stroke-width="1" />
<circle cx="177.9" cy="50.9" r="4.6" fill="url(#gCe)" stroke="none" stroke-width="1" />
<circle cx="178.2" cy="55.5" r="2.2" fill="url(#gO)" stroke="none" stroke-width="1" />
<circle cx="182.1" cy="52.1" r="2.2" fill="url(#gO)" stroke="none" stroke-width="1" />
<circle cx="186.1" cy="53.3" r="4.6" fill="url(#gCe)" stroke="none" stroke-width="1" />
<circle cx="186.4" cy="57.9" r="2.2" fill="url(#gO)" stroke="none" stroke-width="1" />
<circle cx="190.3" cy="54.5" r="2.2" fill="url(#gO)" stroke="none" stroke-width="1" />
<circle cx="194.3" cy="55.7" r="4.6" fill="url(#gCe)" stroke="none" stroke-width="1" />
<circle cx="194.6" cy="60.3" r="2.2" fill="url(#gO)" stroke="none" stroke-width="1" />
<circle cx="198.5" cy="56.9" r="2.2" fill="url(#gO)" stroke="none" stroke-width="1" />
<circle cx="177.8" cy="16.2" r="4.6" fill="url(#gCe)" stroke="none" stroke-width="1" />
<circle cx="178.1" cy="20.8" r="2.2" fill="url(#gO)" stroke="none" stroke-width="1" />
<circle cx="182" cy="17.4" r="2.2" fill="url(#gO)" stroke="none" stroke-width="1" />
<circle cx="186" cy="18.6" r="4.6" fill="url(#gCe)" stroke="none" stroke-width="1" />
<circle cx="186.3" cy="23.2" r="2.2" fill="url(#gO)" stroke="none" stroke-width="1" />
<circle cx="190.2" cy="19.8" r="2.2" fill="url(#gO)" stroke="none" stroke-width="1" />
<circle cx="194.2" cy="21" r="4.6" fill="url(#gCe)" stroke="none" stroke-width="1" />
<circle cx="194.5" cy="25.6" r="2.2" fill="url(#gO)" stroke="none" stroke-width="1" />
<circle cx="198.4" cy="22.2" r="2.2" fill="url(#gO)" stroke="none" stroke-width="1" />
<circle cx="171.2" cy="23" r="4.6" fill="url(#gCe)" stroke="none" stroke-width="1" />
<circle cx="202.4" cy="23.4" r="4.6" fill="url(#gCe)" stroke="none" stroke-width="1" />
<circle cx="171.5" cy="27.6" r="2.2" fill="url(#gO)" stroke="none" stroke-width="1" />
<circle cx="175.4" cy="24.2" r="2.2" fill="url(#gO)" stroke="none" stroke-width="1" />
<circle cx="202.7" cy="28" r="2.2" fill="url(#gO)" stroke="none" stroke-width="1" />
<circle cx="206.6" cy="24.6" r="2.2" fill="url(#gO)" stroke="none" stroke-width="1" />
<circle cx="179.4" cy="25.4" r="4.6" fill="url(#gCe)" stroke="none" stroke-width="1" />
<circle cx="210.6" cy="25.8" r="4.6" fill="url(#gCe)" stroke="none" stroke-width="1" />
<circle cx="179.7" cy="30" r="2.2" fill="url(#gO)" stroke="none" stroke-width="1" />
<circle cx="183.6" cy="26.6" r="2.2" fill="url(#gO)" stroke="none" stroke-width="1" />
<circle cx="210.9" cy="30.4" r="2.2" fill="url(#gO)" stroke="none" stroke-width="1" />
<circle cx="214.8" cy="27" r="2.2" fill="url(#gO)" stroke="none" stroke-width="1" />
<circle cx="187.6" cy="27.8" r="4.6" fill="url(#gCe)" stroke="none" stroke-width="1" />
<circle cx="187.9" cy="32.4" r="2.2" fill="url(#gO)" stroke="none" stroke-width="1" />
<circle cx="191.8" cy="29" r="2.2" fill="url(#gO)" stroke="none" stroke-width="1" />
<circle cx="164.6" cy="29.8" r="4.6" fill="url(#gCe)" stroke="none" stroke-width="1" />
<circle cx="195.8" cy="30.2" r="4.6" fill="url(#gCe)" stroke="none" stroke-width="1" />
<circle cx="164.9" cy="34.4" r="2.2" fill="url(#gO)" stroke="none" stroke-width="1" />
<circle cx="168.8" cy="31" r="2.2" fill="url(#gO)" stroke="none" stroke-width="1" />
<circle cx="196.1" cy="34.8" r="2.2" fill="url(#gO)" stroke="none" stroke-width="1" />
<circle cx="200" cy="31.4" r="2.2" fill="url(#gO)" stroke="none" stroke-width="1" />
<circle cx="172.8" cy="32.2" r="4.6" fill="url(#gCe)" stroke="none" stroke-width="1" />
<circle cx="204" cy="32.6" r="4.6" fill="url(#gCe)" stroke="none" stroke-width="1" />
<circle cx="173.1" cy="36.8" r="2.2" fill="url(#gO)" stroke="none" stroke-width="1" />
<circle cx="177" cy="33.4" r="2.2" fill="url(#gO)" stroke="none" stroke-width="1" />
<circle cx="204.3" cy="37.2" r="2.2" fill="url(#gO)" stroke="none" stroke-width="1" />
<circle cx="208.2" cy="33.8" r="2.2" fill="url(#gO)" stroke="none" stroke-width="1" />
<circle cx="181" cy="34.6" r="4.6" fill="url(#gCe)" stroke="none" stroke-width="1" />
<circle cx="181.3" cy="39.2" r="2.2" fill="url(#gO)" stroke="none" stroke-width="1" />
<circle cx="185.2" cy="35.8" r="2.2" fill="url(#gO)" stroke="none" stroke-width="1" />
<circle cx="158" cy="36.6" r="4.6" fill="url(#gCe)" stroke="none" stroke-width="1" />
<circle cx="189.2" cy="37" r="4.6" fill="url(#gCe)" stroke="none" stroke-width="1" />
<circle cx="158.3" cy="41.2" r="2.2" fill="url(#gO)" stroke="none" stroke-width="1" />
<circle cx="162.2" cy="37.8" r="2.2" fill="url(#gO)" stroke="none" stroke-width="1" />
<circle cx="189.5" cy="41.6" r="2.2" fill="url(#gO)" stroke="none" stroke-width="1" />
<circle cx="193.4" cy="38.2" r="2.2" fill="url(#gO)" stroke="none" stroke-width="1" />
<circle cx="166.2" cy="39" r="4.6" fill="url(#gCe)" stroke="none" stroke-width="1" />
<circle cx="197.4" cy="39.4" r="4.6" fill="url(#gCe)" stroke="none" stroke-width="1" />
<circle cx="166.5" cy="43.6" r="2.2" fill="url(#gO)" stroke="none" stroke-width="1" />
<circle cx="170.4" cy="40.2" r="2.2" fill="url(#gO)" stroke="none" stroke-width="1" />
<circle cx="197.7" cy="44" r="2.2" fill="url(#gO)" stroke="none" stroke-width="1" />
<circle cx="201.6" cy="40.6" r="2.2" fill="url(#gO)" stroke="none" stroke-width="1" />
<circle cx="174.4" cy="41.4" r="4.6" fill="url(#gCe)" stroke="none" stroke-width="1" />
<circle cx="174.7" cy="46" r="2.2" fill="url(#gO)" stroke="none" stroke-width="1" />
<circle cx="178.6" cy="42.6" r="2.2" fill="url(#gO)" stroke="none" stroke-width="1" />
<circle cx="182.6" cy="43.8" r="4.6" fill="url(#gCe)" stroke="none" stroke-width="1" />
<circle cx="182.9" cy="48.4" r="2.2" fill="url(#gO)" stroke="none" stroke-width="1" />
<circle cx="186.8" cy="45" r="2.2" fill="url(#gO)" stroke="none" stroke-width="1" />
<circle cx="190.8" cy="46.2" r="4.6" fill="url(#gCe)" stroke="none" stroke-width="1" />
<circle cx="191.1" cy="50.8" r="2.2" fill="url(#gO)" stroke="none" stroke-width="1" />
<circle cx="195" cy="47.4" r="2.2" fill="url(#gO)" stroke="none" stroke-width="1" />
<circle cx="188" cy="18" r="1.7" fill="#8b5a3b" stroke="none" stroke-width="1" />
<circle cx="192" cy="22" r="1.6" fill="#c0392b" stroke="none" stroke-width="1" />
<circle cx="196" cy="19" r="1.4" fill="#8b5a3b" stroke="none" stroke-width="1" />
<circle cx="190" cy="15" r="1.3" fill="#f4d0d0" stroke="none" stroke-width="1" />
<circle cx="198" cy="16" r="1.2" fill="#f4d0d0" stroke="none" stroke-width="1" />
<circle cx="185" cy="21" r="1.2" fill="#f4d0d0" stroke="none" stroke-width="1" />
<circle cx="173.4" cy="26.6" r="5.2" fill="url(#gBi)" stroke="none" stroke-width="1" />
<line x1="140" y1="53.5" x2="140" y2="42.5" stroke="#1030d0" stroke-width="1.2" />
<path d="M140,40.5 L141.57,44 L138.43,44 Z" fill="#1030d0"/>
<line x1="140" y1="53.5" x2="150" y2="55.5" stroke="#d02020" stroke-width="1" />
<path d="M152,55.9 L148.26,56.78 L148.86,53.69 Z" fill="#d02020"/>
<line x1="140" y1="53.5" x2="144" y2="49.5" stroke="#20a020" stroke-width="1.6" />
<circle cx="140" cy="53.5" r="1.2" fill="#fff" stroke="#888" stroke-width="0.5" />
<text x="229.8" y="14.6" font-size="19.5" text-anchor="start" fill="#111" font-weight="normal" >b</text>
<path d="M252,131 C254.17,130.92 260.33,130.95 265,130.5 C269.67,130.05 275.83,129.38 280,128.3 C284.17,127.22 287.17,125.55 290,124 C292.83,122.45 294.83,121.33 297,119 C299.17,116.67 301.33,112.5 303,110 C304.67,107.5 305.67,105.92 307,104 C308.33,102.08 309.92,99.92 311,98.5 C312.08,97.08 312.73,96.23 313.5,95.5 C314.27,94.77 314.93,93.85 315.6,94.1 C316.27,94.35 316.85,95.18 317.5,97 C318.15,98.82 318.75,102.13 319.5,105 C320.25,107.87 321.17,113.37 322,114.2 C322.83,115.03 323.67,111.53 324.5,110 C325.33,108.47 326.08,105.9 327,105 C327.92,104.1 329,105.1 330,104.6 C331,104.1 332,102.6 333,102 C334,101.4 334.83,101.17 336,101 C337.17,100.83 338.67,100.92 340,101 C341.33,101.08 342.67,101.17 344,101.5 C345.33,101.83 346.5,102.25 348,103 C349.5,103.75 351.17,104.85 353,106 C354.83,107.15 357,108.9 359,109.9 C361,110.9 363,111.28 365,112 C367,112.72 368.83,113.2 371,114.2 C373.17,115.2 375.67,116.68 378,118 C380.33,119.32 382.17,120.68 385,122.1 C387.83,123.52 390.83,125.27 395,126.5 C399.17,127.73 404.17,128.78 410,129.5 C415.83,130.22 422.42,130.52 430,130.8 C437.58,131.08 451.25,131.13 455.5,131.2" stroke="#e07070" stroke-width="0.45" fill="none" opacity="0.7"/>
<path d="M252,130.98 C254.17,130.88 260.33,130.9 265,130.43 C269.67,129.96 275.83,129.3 280,128.17 C284.17,127.04 287.17,125.29 290,123.66 C292.83,122.04 294.83,120.87 297,118.42 C299.17,115.98 301.33,111.66 303,108.98 C304.67,106.31 305.67,104.53 307,102.37 C308.33,100.21 309.92,97.66 311,96.03 C312.08,94.39 312.73,93.4 313.5,92.55 C314.27,91.69 314.93,90.67 315.6,90.9 C316.27,91.13 316.85,92.03 317.5,93.93 C318.15,95.82 318.75,99.27 319.5,102.26 C320.25,105.25 321.17,111.12 322,111.88 C322.83,112.65 323.67,108.59 324.5,106.83 C325.33,105.07 326.08,102.36 327,101.3 C327.92,100.24 329,101 330,100.49 C331,99.98 332,98.7 333,98.25 C334,97.8 334.83,97.72 336,97.78 C337.17,97.85 338.67,98.29 340,98.65 C341.33,99 342.67,99.32 344,99.89 C345.33,100.46 346.5,101.14 348,102.07 C349.5,103 351.17,104.22 353,105.47 C354.83,106.72 357,108.5 359,109.56 C361,110.62 363,111.07 365,111.83 C367,112.6 368.83,113.13 371,114.16 C373.17,115.19 375.67,116.68 378,118 C380.33,119.32 382.17,120.68 385,122.1 C387.83,123.52 390.83,125.27 395,126.5 C399.17,127.73 404.17,128.79 410,129.5 C415.83,130.21 422.42,130.5 430,130.79 C437.58,131.07 451.25,131.12 455.5,131.19" stroke="#70a0e0" stroke-width="0.45" fill="none" opacity="0.7"/>
<path d="M252,130.95 C254.17,130.85 260.33,130.84 265,130.36 C269.67,129.87 275.83,129.21 280,128.04 C284.17,126.87 287.17,125.03 290,123.33 C292.83,121.64 294.83,120.42 297,117.86 C299.17,115.3 301.33,110.83 303,107.98 C304.67,105.13 305.67,103.16 307,100.76 C308.33,98.37 309.92,95.45 311,93.6 C312.08,91.74 312.73,90.62 313.5,89.65 C314.27,88.67 314.93,87.55 315.6,87.76 C316.27,87.97 316.85,88.94 317.5,90.91 C318.15,92.88 318.75,96.46 319.5,99.57 C320.25,102.69 321.17,108.92 322,109.61 C322.83,110.3 323.67,105.71 324.5,103.72 C325.33,101.73 326.08,98.88 327,97.67 C327.92,96.46 329,96.98 330,96.46 C331,95.95 332,94.88 333,94.58 C334,94.27 334.83,94.33 336,94.62 C337.17,94.92 338.67,95.72 340,96.34 C341.33,96.95 342.67,97.51 344,98.31 C345.33,99.11 346.5,100.05 348,101.15 C349.5,102.26 351.17,103.61 353,104.95 C354.83,106.3 357,108.11 359,109.23 C361,110.35 363,110.85 365,111.67 C367,112.48 368.83,113.07 371,114.12 C373.17,115.18 375.67,116.67 378,118 C380.33,119.33 382.17,120.68 385,122.1 C387.83,123.52 390.83,125.27 395,126.5 C399.17,127.73 404.17,128.79 410,129.5 C415.83,130.21 422.42,130.49 430,130.77 C437.58,131.05 451.25,131.11 455.5,131.18" stroke="#70c070" stroke-width="0.45" fill="none" opacity="0.7"/>
<path d="M252,130.93 C254.17,130.82 260.33,130.79 265,130.29 C269.67,129.79 275.83,129.13 280,127.92 C284.17,126.71 287.17,124.78 290,123.01 C292.83,121.24 294.83,119.97 297,117.3 C299.17,114.63 301.33,110.02 303,107 C304.67,103.98 305.67,101.82 307,99.19 C308.33,96.56 309.92,93.28 311,91.22 C312.08,89.15 312.73,87.89 313.5,86.8 C314.27,85.71 314.93,84.49 315.6,84.68 C316.27,84.87 316.85,85.91 317.5,87.95 C318.15,89.99 318.75,93.7 319.5,96.94 C320.25,100.18 321.17,106.76 322,107.38 C322.83,108 323.67,102.88 324.5,100.67 C325.33,98.45 326.08,95.47 327,94.11 C327.92,92.75 329,93.03 330,92.51 C331,91.98 332,91.13 333,90.97 C334,90.8 334.83,91.01 336,91.52 C337.17,92.04 338.67,93.2 340,94.07 C341.33,94.94 342.67,95.73 344,96.76 C345.33,97.79 346.5,98.98 348,100.26 C349.5,101.54 351.17,103 353,104.44 C354.83,105.89 357,107.73 359,108.91 C361,110.09 363,110.64 365,111.5 C367,112.37 368.83,113 371,114.09 C373.17,115.17 375.67,116.66 378,118 C380.33,119.34 382.17,120.68 385,122.1 C387.83,123.52 390.83,125.27 395,126.5 C399.17,127.73 404.17,128.79 410,129.5 C415.83,130.21 422.42,130.48 430,130.76 C437.58,131.04 451.25,131.1 455.5,131.17" stroke="#e8a850" stroke-width="0.45" fill="none" opacity="0.7"/>
<path d="M252,130.91 C254.17,130.79 260.33,130.74 265,130.22 C269.67,129.7 275.83,129.05 280,127.8 C284.17,126.54 287.17,124.53 290,122.69 C292.83,120.85 294.83,119.53 297,116.76 C299.17,113.98 301.33,109.23 303,106.04 C304.67,102.86 305.67,100.51 307,97.65 C308.33,94.79 309.92,91.15 311,88.88 C312.08,86.61 312.73,85.22 313.5,84.01 C314.27,82.81 314.93,81.49 315.6,81.66 C316.27,81.83 316.85,82.93 317.5,85.05 C318.15,87.16 318.75,91 319.5,94.35 C320.25,97.71 321.17,104.64 322,105.2 C322.83,105.75 323.67,100.1 324.5,97.67 C325.33,95.24 326.08,92.13 327,90.62 C327.92,89.11 329,89.16 330,88.63 C331,88.1 332,87.46 333,87.43 C334,87.41 334.83,87.75 336,88.49 C337.17,89.22 338.67,90.72 340,91.85 C341.33,92.97 342.67,93.99 344,95.24 C345.33,96.5 346.5,97.93 348,99.38 C349.5,100.83 351.17,102.41 353,103.95 C354.83,105.48 357,107.36 359,108.59 C361,109.83 363,110.44 365,111.35 C367,112.26 368.83,112.94 371,114.05 C373.17,115.16 375.67,116.66 378,118 C380.33,119.34 382.17,120.68 385,122.1 C387.83,123.52 390.83,125.27 395,126.5 C399.17,127.73 404.17,128.79 410,129.5 C415.83,130.21 422.42,130.47 430,130.74 C437.58,131.02 451.25,131.09 455.5,131.16" stroke="#b080d8" stroke-width="0.45" fill="none" opacity="0.7"/>
<path d="M252,130.88 C254.17,130.76 260.33,130.69 265,130.15 C269.67,129.62 275.83,128.97 280,127.68 C284.17,126.38 287.17,124.29 290,122.38 C292.83,120.47 294.83,119.11 297,116.23 C299.17,113.35 301.33,108.45 303,105.1 C304.67,101.75 305.67,99.22 307,96.14 C308.33,93.06 309.92,89.07 311,86.59 C312.08,84.12 312.73,82.6 313.5,81.28 C314.27,79.97 314.93,78.55 315.6,78.7 C316.27,78.86 316.85,80.02 317.5,82.21 C318.15,84.39 318.75,88.35 319.5,91.82 C320.25,95.3 321.17,102.57 322,103.06 C322.83,103.54 323.67,97.39 324.5,94.74 C325.33,92.1 326.08,88.85 327,87.2 C327.92,85.55 329,85.37 330,84.83 C331,84.3 332,83.86 333,83.97 C334,84.08 334.83,84.56 336,85.51 C337.17,86.46 338.67,88.3 340,89.67 C341.33,91.05 342.67,92.28 344,93.76 C345.33,95.23 346.5,96.9 348,98.52 C349.5,100.13 351.17,101.83 353,103.46 C354.83,105.08 357,106.99 359,108.28 C361,109.57 363,110.24 365,111.19 C367,112.15 368.83,112.88 371,114.02 C373.17,115.15 375.67,116.65 378,118 C380.33,119.35 382.17,120.68 385,122.1 C387.83,123.52 390.83,125.27 395,126.5 C399.17,127.73 404.17,128.79 410,129.5 C415.83,130.21 422.42,130.46 430,130.73 C437.58,131.01 451.25,131.08 455.5,131.15" stroke="#50c0c0" stroke-width="0.45" fill="none" opacity="0.7"/>
<path d="M252,130.86 C254.17,130.73 260.33,130.64 265,130.09 C269.67,129.54 275.83,128.89 280,127.56 C284.17,126.22 287.17,124.05 290,122.08 C292.83,120.1 294.83,118.69 297,115.7 C299.17,112.72 301.33,107.68 303,104.18 C304.67,100.67 305.67,97.97 307,94.66 C308.33,91.36 309.92,87.03 311,84.36 C312.08,81.68 312.73,80.03 313.5,78.61 C314.27,77.19 314.93,75.67 315.6,75.81 C316.27,75.95 316.85,77.17 317.5,79.42 C318.15,81.68 318.75,85.76 319.5,89.35 C320.25,92.94 321.17,100.54 322,100.96 C322.83,101.38 323.67,94.73 324.5,91.87 C325.33,89.02 326.08,85.65 327,83.85 C327.92,82.06 329,81.66 330,81.12 C331,80.57 332,80.33 333,80.58 C334,80.83 334.83,81.44 336,82.6 C337.17,83.76 338.67,85.93 340,87.54 C341.33,89.16 342.67,90.61 344,92.3 C345.33,93.99 346.5,95.89 348,97.67 C349.5,99.45 351.17,101.26 353,102.98 C354.83,104.7 357,106.63 359,107.98 C361,109.32 363,110.04 365,111.04 C367,112.04 368.83,112.82 371,113.98 C373.17,115.14 375.67,116.65 378,118 C380.33,119.35 382.17,120.68 385,122.1 C387.83,123.52 390.83,125.27 395,126.5 C399.17,127.73 404.17,128.8 410,129.5 C415.83,130.2 422.42,130.44 430,130.72 C437.58,130.99 451.25,131.07 455.5,131.15" stroke="#d880b0" stroke-width="0.45" fill="none" opacity="0.7"/>
<path d="M252,130.84 C254.17,130.71 260.33,130.59 265,130.02 C269.67,129.46 275.83,128.82 280,127.44 C284.17,126.07 287.17,123.82 290,121.78 C292.83,119.74 294.83,118.28 297,115.19 C299.17,112.11 301.33,106.94 303,103.28 C304.67,99.61 305.67,96.74 307,93.22 C308.33,89.7 309.92,85.04 311,82.17 C312.08,79.3 312.73,77.53 313.5,76 C314.27,74.46 314.93,72.86 315.6,72.98 C316.27,73.1 316.85,74.38 317.5,76.7 C318.15,79.03 318.75,83.22 319.5,86.92 C320.25,90.63 321.17,98.56 322,98.91 C322.83,99.27 323.67,92.12 324.5,89.07 C325.33,86.01 326.08,82.51 327,80.58 C327.92,78.65 329,78.04 330,77.48 C331,76.93 332,76.89 333,77.26 C334,77.64 334.83,78.39 336,79.75 C337.17,81.12 338.67,83.61 340,85.46 C341.33,87.31 342.67,88.98 344,90.88 C345.33,92.77 346.5,94.91 348,96.85 C349.5,98.79 351.17,100.71 353,102.51 C354.83,104.32 357,106.28 359,107.68 C361,109.08 363,109.85 365,110.89 C367,111.93 368.83,112.76 371,113.95 C373.17,115.13 375.67,116.64 378,118 C380.33,119.36 382.17,120.68 385,122.1 C387.83,123.52 390.83,125.27 395,126.5 C399.17,127.73 404.17,128.8 410,129.5 C415.83,130.2 422.42,130.43 430,130.7 C437.58,130.98 451.25,131.06 455.5,131.14" stroke="#a0a050" stroke-width="0.45" fill="none" opacity="0.7"/>
<path d="M252,130.82 C254.17,130.68 260.33,130.54 265,129.96 C269.67,129.38 275.83,128.74 280,127.33 C284.17,125.92 287.17,123.6 290,121.49 C292.83,119.38 294.83,117.88 297,114.7 C299.17,111.51 301.33,106.21 303,102.4 C304.67,98.58 305.67,95.53 307,91.81 C308.33,88.08 309.92,83.09 311,80.03 C312.08,76.97 312.73,75.08 313.5,73.44 C314.27,71.81 314.93,70.11 315.6,70.21 C316.27,70.31 316.85,71.65 317.5,74.05 C318.15,76.44 318.75,80.74 319.5,84.56 C320.25,88.37 321.17,96.62 322,96.91 C322.83,97.21 323.67,89.58 324.5,86.33 C325.33,83.07 326.08,79.45 327,77.38 C327.92,75.32 329,74.49 330,73.93 C331,73.37 332,73.52 333,74.02 C334,74.53 334.83,75.4 336,76.97 C337.17,78.54 338.67,81.34 340,83.43 C341.33,85.51 342.67,87.38 344,89.48 C345.33,91.59 346.5,93.95 348,96.04 C349.5,98.14 351.17,100.16 353,102.05 C354.83,103.95 357,105.94 359,107.39 C361,108.84 363,109.66 365,110.74 C367,111.83 368.83,112.7 371,113.91 C373.17,115.12 375.67,116.64 378,118 C380.33,119.36 382.17,120.68 385,122.1 C387.83,123.52 390.83,125.27 395,126.5 C399.17,127.73 404.17,128.8 410,129.5 C415.83,130.2 422.42,130.42 430,130.69 C437.58,130.96 451.25,131.06 455.5,131.13" stroke="#80b0e0" stroke-width="0.45" fill="none" opacity="0.7"/>
<path d="M252,130.8 C254.17,130.65 260.33,130.5 265,129.9 C269.67,129.3 275.83,128.67 280,127.22 C284.17,125.77 287.17,123.37 290,121.21 C292.83,119.04 294.83,117.49 297,114.21 C299.17,110.93 301.33,105.5 303,101.54 C304.67,97.57 305.67,94.36 307,90.43 C308.33,86.49 309.92,81.19 311,77.94 C312.08,74.69 312.73,72.69 313.5,70.95 C314.27,69.21 314.93,67.43 315.6,67.51 C316.27,67.6 316.85,68.99 317.5,71.45 C318.15,73.91 318.75,78.33 319.5,82.24 C320.25,86.16 321.17,94.72 322,94.96 C322.83,95.19 323.67,87.1 324.5,83.65 C325.33,80.2 326.08,76.46 327,74.26 C327.92,72.06 329,71.03 330,70.47 C331,69.9 332,70.23 333,70.86 C334,71.49 334.83,72.49 336,74.25 C337.17,76.02 338.67,79.13 340,81.44 C341.33,83.75 342.67,85.82 344,88.13 C345.33,90.43 346.5,93.01 348,95.26 C349.5,97.5 351.17,99.63 353,101.61 C354.83,103.58 357,105.61 359,107.11 C361,108.6 363,109.47 365,110.6 C367,111.73 368.83,112.65 371,113.88 C373.17,115.11 375.67,116.63 378,118 C380.33,119.37 382.17,120.68 385,122.1 C387.83,123.52 390.83,125.27 395,126.5 C399.17,127.73 404.17,128.8 410,129.5 C415.83,130.2 422.42,130.41 430,130.68 C437.58,130.95 451.25,131.05 455.5,131.12" stroke="#e0a070" stroke-width="0.45" fill="none" opacity="0.7"/>
<path d="M252,130.78 C254.17,130.62 260.33,130.45 265,129.84 C269.67,129.23 275.83,128.6 280,127.12 C284.17,125.63 287.17,123.16 290,120.93 C292.83,118.7 294.83,117.11 297,113.73 C299.17,110.36 301.33,104.81 303,100.7 C304.67,96.59 305.67,93.21 307,89.08 C308.33,84.95 309.92,79.33 311,75.9 C312.08,72.48 312.73,70.35 313.5,68.52 C314.27,66.68 314.93,64.81 315.6,64.88 C316.27,64.95 316.85,66.4 317.5,68.92 C318.15,71.44 318.75,75.97 319.5,79.99 C320.25,84.01 321.17,92.88 322,93.05 C322.83,93.23 323.67,84.68 324.5,81.04 C325.33,77.4 326.08,73.54 327,71.21 C327.92,68.89 329,67.66 330,67.09 C331,66.51 332,67.02 333,67.78 C334,68.53 334.83,69.65 336,71.6 C337.17,73.56 338.67,76.97 340,79.5 C341.33,82.03 342.67,84.3 344,86.8 C345.33,89.3 346.5,92.09 348,94.49 C349.5,96.88 351.17,99.12 353,101.17 C354.83,103.23 357,105.28 359,106.83 C361,108.38 363,109.29 365,110.46 C367,111.63 368.83,112.59 371,113.85 C373.17,115.1 375.67,116.62 378,118 C380.33,119.38 382.17,120.68 385,122.1 C387.83,123.52 390.83,125.27 395,126.5 C399.17,127.73 404.17,128.81 410,129.5 C415.83,130.19 422.42,130.4 430,130.67 C437.58,130.94 451.25,131.04 455.5,131.11" stroke="#e07070" stroke-width="0.45" fill="none" opacity="0.7"/>
<path d="M252,130.76 C254.17,130.6 260.33,130.41 265,129.78 C269.67,129.16 275.83,128.53 280,127.01 C284.17,125.49 287.17,122.95 290,120.66 C292.83,118.37 294.83,116.74 297,113.27 C299.17,109.81 301.33,104.13 303,99.88 C304.67,95.63 305.67,92.1 307,87.77 C308.33,83.44 309.92,77.52 311,73.92 C312.08,70.31 312.73,68.08 313.5,66.15 C314.27,64.21 314.93,62.26 315.6,62.31 C316.27,62.36 316.85,63.87 317.5,66.45 C318.15,69.03 318.75,73.67 319.5,77.79 C320.25,81.92 321.17,91.08 322,91.19 C322.83,91.31 323.67,82.32 324.5,78.5 C325.33,74.67 326.08,70.7 327,68.25 C327.92,65.8 329,64.37 330,63.79 C331,63.21 332,63.9 333,64.77 C334,65.64 334.83,66.88 336,69.02 C337.17,71.16 338.67,74.86 340,77.61 C341.33,80.36 342.67,82.82 344,85.51 C345.33,88.2 346.5,91.2 348,93.74 C349.5,96.28 351.17,98.61 353,100.75 C354.83,102.89 357,104.96 359,106.56 C361,108.16 363,109.12 365,110.33 C367,111.54 368.83,112.54 371,113.82 C373.17,115.1 375.67,116.62 378,118 C380.33,119.38 382.17,120.68 385,122.1 C387.83,123.52 390.83,125.27 395,126.5 C399.17,127.73 404.17,128.81 410,129.5 C415.83,130.19 422.42,130.39 430,130.66 C437.58,130.92 451.25,131.03 455.5,131.1" stroke="#70a0e0" stroke-width="0.45" fill="none" opacity="0.7"/>
<path d="M252,130.74 C254.17,130.57 260.33,130.37 265,129.73 C269.67,129.09 275.83,128.47 280,126.91 C284.17,125.35 287.17,122.74 290,120.4 C292.83,118.05 294.83,116.37 297,112.82 C299.17,109.27 301.33,103.47 303,99.09 C304.67,94.7 305.67,91.01 307,86.5 C308.33,81.98 309.92,75.76 311,71.99 C312.08,68.21 312.73,65.87 313.5,63.84 C314.27,61.81 314.93,59.78 315.6,59.81 C316.27,59.85 316.85,61.41 317.5,64.05 C318.15,66.69 318.75,71.43 319.5,75.66 C320.25,79.88 321.17,89.33 322,89.39 C322.83,89.45 323.67,80.03 324.5,76.02 C325.33,72.02 326.08,67.93 327,65.36 C327.92,62.79 329,61.17 330,60.59 C331,60 332,60.86 333,61.85 C334,62.83 334.83,64.19 336,66.51 C337.17,68.83 338.67,72.82 340,75.78 C341.33,78.73 342.67,81.38 344,84.25 C345.33,87.13 346.5,90.33 348,93.01 C349.5,95.69 351.17,98.12 353,100.34 C354.83,102.55 357,104.65 359,106.3 C361,107.94 363,108.95 365,110.2 C367,111.45 368.83,112.49 371,113.79 C373.17,115.09 375.67,116.61 378,118 C380.33,119.39 382.17,120.68 385,122.1 C387.83,123.52 390.83,125.27 395,126.5 C399.17,127.73 404.17,128.81 410,129.5 C415.83,130.19 422.42,130.38 430,130.65 C437.58,130.91 451.25,131.02 455.5,131.1" stroke="#70c070" stroke-width="0.45" fill="none" opacity="0.7"/>
<path d="M252,130.72 C254.17,130.55 260.33,130.33 265,129.67 C269.67,129.02 275.83,128.4 280,126.81 C284.17,125.22 287.17,122.55 290,120.14 C292.83,117.74 294.83,116.02 297,112.39 C299.17,108.75 301.33,102.84 303,98.31 C304.67,93.79 305.67,89.96 307,85.26 C308.33,80.56 309.92,74.05 311,70.11 C312.08,66.17 312.73,63.72 313.5,61.6 C314.27,59.48 314.93,57.37 315.6,57.39 C316.27,57.41 316.85,59.02 317.5,61.72 C318.15,64.42 318.75,69.26 319.5,73.58 C320.25,77.9 321.17,87.62 322,87.63 C322.83,87.64 323.67,77.8 324.5,73.62 C325.33,69.44 326.08,65.25 327,62.56 C327.92,59.86 329,58.06 330,57.47 C331,56.88 332,57.9 333,59 C334,60.1 334.83,61.57 336,64.07 C337.17,66.57 338.67,70.83 340,73.99 C341.33,77.15 342.67,79.98 344,83.03 C345.33,86.09 346.5,89.49 348,92.31 C349.5,95.12 351.17,97.65 353,99.94 C354.83,102.23 357,104.35 359,106.04 C361,107.73 363,108.78 365,110.07 C367,111.36 368.83,112.44 371,113.76 C373.17,115.08 375.67,116.61 378,118 C380.33,119.39 382.17,120.68 385,122.1 C387.83,123.52 390.83,125.27 395,126.5 C399.17,127.73 404.17,128.81 410,129.5 C415.83,130.19 422.42,130.37 430,130.63 C437.58,130.9 451.25,131.01 455.5,131.09" stroke="#e8a850" stroke-width="0.45" fill="none" opacity="0.7"/>
<path d="M252,130.71 C254.17,130.53 260.33,130.29 265,129.62 C269.67,128.96 275.83,128.34 280,126.72 C284.17,125.1 287.17,122.35 290,119.89 C292.83,117.43 294.83,115.68 297,111.96 C299.17,108.24 301.33,102.22 303,97.56 C304.67,92.91 305.67,88.93 307,84.06 C308.33,79.18 309.92,72.4 311,68.29 C312.08,64.19 312.73,61.63 313.5,59.42 C314.27,57.22 314.93,55.03 315.6,55.03 C316.27,55.04 316.85,56.7 317.5,59.46 C318.15,62.21 318.75,67.15 319.5,71.56 C320.25,75.98 321.17,85.97 322,85.93 C322.83,85.88 323.67,75.63 324.5,71.29 C325.33,66.94 326.08,62.64 327,59.83 C327.92,57.03 329,55.04 330,54.45 C331,53.85 332,55.04 333,56.25 C334,57.45 334.83,59.03 336,61.7 C337.17,64.37 338.67,68.9 340,72.26 C341.33,75.62 342.67,78.62 344,81.85 C345.33,85.08 346.5,88.67 348,91.62 C349.5,94.57 351.17,97.19 353,99.55 C354.83,101.91 357,104.06 359,105.79 C361,107.53 363,108.62 365,109.95 C367,111.27 368.83,112.39 371,113.73 C373.17,115.07 375.67,116.61 378,118 C380.33,119.39 382.17,120.68 385,122.1 C387.83,123.52 390.83,125.27 395,126.5 C399.17,127.73 404.17,128.81 410,129.5 C415.83,130.19 422.42,130.36 430,130.62 C437.58,130.89 451.25,131.01 455.5,131.08" stroke="#b080d8" stroke-width="0.45" fill="none" opacity="0.7"/>
<path d="M252,130.69 C254.17,130.5 260.33,130.25 265,129.57 C269.67,128.89 275.83,128.28 280,126.62 C284.17,124.97 287.17,122.17 290,119.65 C292.83,117.14 294.83,115.35 297,111.55 C299.17,107.75 301.33,101.61 303,96.84 C304.67,92.06 305.67,87.94 307,82.89 C308.33,77.84 309.92,70.79 311,66.53 C312.08,62.26 312.73,59.61 313.5,57.32 C314.27,55.02 314.93,52.76 315.6,52.75 C316.27,52.74 316.85,54.46 317.5,57.27 C318.15,60.08 318.75,65.11 319.5,69.61 C320.25,74.11 321.17,84.37 322,84.28 C322.83,84.18 323.67,73.54 324.5,69.02 C325.33,64.51 326.08,60.11 327,57.19 C327.92,54.28 329,52.12 330,51.52 C331,50.91 332,52.26 333,53.57 C334,54.89 334.83,56.57 336,59.4 C337.17,62.24 338.67,67.03 340,70.58 C341.33,74.13 342.67,77.31 344,80.7 C345.33,84.1 346.5,87.88 348,90.96 C349.5,94.03 351.17,96.74 353,99.17 C354.83,101.6 357,103.78 359,105.55 C361,107.33 363,108.47 365,109.83 C367,111.19 368.83,112.34 371,113.7 C373.17,115.07 375.67,116.6 378,118 C380.33,119.4 382.17,120.68 385,122.1 C387.83,123.52 390.83,125.27 395,126.5 C399.17,127.73 404.17,128.81 410,129.5 C415.83,130.19 422.42,130.35 430,130.61 C437.58,130.88 451.25,131 455.5,131.08" stroke="#50c0c0" stroke-width="0.45" fill="none" opacity="0.7"/>
<path d="M252,130.67 C254.17,130.48 260.33,130.21 265,129.52 C269.67,128.83 275.83,128.22 280,126.53 C284.17,124.85 287.17,121.99 290,119.42 C292.83,116.86 294.83,115.03 297,111.15 C299.17,107.27 301.33,101.03 303,96.14 C304.67,91.24 305.67,86.98 307,81.76 C308.33,76.55 309.92,69.23 311,64.82 C312.08,60.41 312.73,57.66 313.5,55.28 C314.27,52.9 314.93,50.57 315.6,50.54 C316.27,50.52 316.85,52.28 317.5,55.15 C318.15,58.01 318.75,63.13 319.5,67.72 C320.25,72.31 321.17,82.83 322,82.68 C322.83,82.53 323.67,71.51 324.5,66.84 C325.33,62.16 326.08,57.67 327,54.64 C327.92,51.62 329,49.29 330,48.68 C331,48.08 332,49.57 333,50.99 C334,52.41 334.83,54.19 336,57.18 C337.17,60.18 338.67,65.22 340,68.95 C341.33,72.69 342.67,76.03 344,79.59 C345.33,83.15 346.5,87.11 348,90.31 C349.5,93.52 351.17,96.3 353,98.81 C354.83,101.31 357,103.5 359,105.32 C361,107.14 363,108.32 365,109.71 C367,111.1 368.83,112.3 371,113.68 C373.17,115.06 375.67,116.6 378,118 C380.33,119.4 382.17,120.68 385,122.1 C387.83,123.52 390.83,125.27 395,126.5 C399.17,127.73 404.17,128.82 410,129.5 C415.83,130.18 422.42,130.34 430,130.6 C437.58,130.87 451.25,130.99 455.5,131.07" stroke="#d880b0" stroke-width="0.45" fill="none" opacity="0.7"/>
<path d="M252,130.66 C254.17,130.46 260.33,130.17 265,129.47 C269.67,128.77 275.83,128.16 280,126.45 C284.17,124.74 287.17,121.81 290,119.2 C292.83,116.58 294.83,114.73 297,110.77 C299.17,106.81 301.33,100.47 303,95.46 C304.67,90.44 305.67,86.06 307,80.68 C308.33,75.3 309.92,67.73 311,63.17 C312.08,58.61 312.73,55.77 313.5,53.31 C314.27,50.85 314.93,48.45 315.6,48.41 C316.27,48.38 316.85,50.18 317.5,53.1 C318.15,56.01 318.75,61.23 319.5,65.9 C320.25,70.57 321.17,81.33 322,81.14 C322.83,80.94 323.67,69.55 324.5,64.73 C325.33,59.9 326.08,55.31 327,52.18 C327.92,49.05 329,46.56 330,45.95 C331,45.34 332,46.98 333,48.49 C334,50.01 334.83,51.89 336,55.04 C337.17,58.19 338.67,63.47 340,67.39 C341.33,71.3 342.67,74.8 344,78.52 C345.33,82.24 346.5,86.37 348,89.69 C349.5,93.01 351.17,95.89 353,98.45 C354.83,101.02 357,103.24 359,105.1 C361,106.96 363,108.17 365,109.6 C367,111.02 368.83,112.25 371,113.65 C373.17,115.05 375.67,116.59 378,118 C380.33,119.41 382.17,120.68 385,122.1 C387.83,123.52 390.83,125.27 395,126.5 C399.17,127.73 404.17,128.82 410,129.5 C415.83,130.18 422.42,130.33 430,130.59 C437.58,130.85 451.25,130.98 455.5,131.06" stroke="#a0a050" stroke-width="0.45" fill="none" opacity="0.7"/>
<path d="M252,130.64 C254.17,130.44 260.33,130.14 265,129.42 C269.67,128.71 275.83,128.11 280,126.36 C284.17,124.62 287.17,121.64 290,118.98 C292.83,116.32 294.83,114.43 297,110.4 C299.17,106.37 301.33,99.93 303,94.8 C304.67,89.68 305.67,85.17 307,79.63 C308.33,74.09 309.92,66.29 311,61.59 C312.08,56.88 312.73,53.96 313.5,51.42 C314.27,48.88 314.93,46.41 315.6,46.36 C316.27,46.31 316.85,48.16 317.5,51.13 C318.15,54.09 318.75,59.39 319.5,64.14 C320.25,68.9 321.17,79.89 322,79.65 C322.83,79.41 323.67,67.67 324.5,62.69 C325.33,57.72 326.08,53.04 327,49.81 C327.92,46.58 329,43.93 330,43.32 C331,42.7 332,44.48 333,46.09 C334,47.7 334.83,49.68 336,52.98 C337.17,56.27 338.67,61.79 340,65.88 C341.33,69.96 342.67,73.62 344,77.49 C345.33,81.36 346.5,85.66 348,89.09 C349.5,92.53 351.17,95.48 353,98.12 C354.83,100.75 357,102.99 359,104.88 C361,106.78 363,108.03 365,109.49 C367,110.95 368.83,112.21 371,113.63 C373.17,115.04 375.67,116.59 378,118 C380.33,119.41 382.17,120.68 385,122.1 C387.83,123.52 390.83,125.27 395,126.5 C399.17,127.73 404.17,128.82 410,129.5 C415.83,130.18 422.42,130.33 430,130.58 C437.58,130.84 451.25,130.98 455.5,131.06" stroke="#80b0e0" stroke-width="0.45" fill="none" opacity="0.7"/>
<path d="M252,130.63 C254.17,130.42 260.33,130.1 265,129.38 C269.67,128.66 275.83,128.05 280,126.28 C284.17,124.52 287.17,121.48 290,118.78 C292.83,116.07 294.83,114.14 297,110.04 C299.17,105.94 301.33,99.41 303,94.18 C304.67,88.94 305.67,84.31 307,78.62 C308.33,72.94 309.92,64.9 311,60.06 C312.08,55.22 312.73,52.21 313.5,49.6 C314.27,46.99 314.93,44.45 315.6,44.39 C316.27,44.33 316.85,46.22 317.5,49.23 C318.15,52.24 318.75,57.62 319.5,62.46 C320.25,67.29 321.17,78.51 322,78.22 C322.83,77.94 323.67,65.85 324.5,60.74 C325.33,55.62 326.08,50.85 327,47.53 C327.92,44.2 329,41.41 330,40.78 C331,40.16 332,42.08 333,43.78 C334,45.48 334.83,47.55 336,50.99 C337.17,54.43 338.67,60.18 340,64.43 C341.33,68.68 342.67,72.48 344,76.5 C345.33,80.51 346.5,84.97 348,88.52 C349.5,92.07 351.17,95.1 353,97.79 C354.83,100.48 357,102.74 359,104.68 C361,106.61 363,107.9 365,109.39 C367,110.88 368.83,112.17 371,113.6 C373.17,115.04 375.67,116.58 378,118 C380.33,119.42 382.17,120.68 385,122.1 C387.83,123.52 390.83,125.27 395,126.5 C399.17,127.73 404.17,128.82 410,129.5 C415.83,130.18 422.42,130.32 430,130.58 C437.58,130.83 451.25,130.97 455.5,131.05" stroke="#e0a070" stroke-width="0.45" fill="none" opacity="0.7"/>
<path d="M252,130.61 C254.17,130.4 260.33,130.07 265,129.34 C269.67,128.6 275.83,128 280,126.21 C284.17,124.41 287.17,121.33 290,118.58 C292.83,115.83 294.83,113.87 297,109.7 C299.17,105.54 301.33,98.92 303,93.58 C304.67,88.23 305.67,83.49 307,77.66 C308.33,71.83 309.92,63.57 311,58.6 C312.08,53.63 312.73,50.54 313.5,47.85 C314.27,45.17 314.93,42.58 315.6,42.5 C316.27,42.43 316.85,44.36 317.5,47.42 C318.15,50.47 318.75,55.93 319.5,60.84 C320.25,65.75 321.17,77.19 322,76.86 C322.83,76.53 323.67,64.12 324.5,58.87 C325.33,53.62 326.08,48.76 327,45.35 C327.92,41.93 329,38.99 330,38.36 C331,37.73 332,39.78 333,41.57 C334,43.36 334.83,45.51 336,49.09 C337.17,52.67 338.67,58.63 340,63.04 C341.33,67.45 342.67,71.39 344,75.55 C345.33,79.7 346.5,84.31 348,87.97 C349.5,91.63 351.17,94.73 353,97.48 C354.83,100.23 357,102.51 359,104.48 C361,106.45 363,107.77 365,109.29 C367,110.81 368.83,112.13 371,113.58 C373.17,115.03 375.67,116.58 378,118 C380.33,119.42 382.17,120.68 385,122.1 C387.83,123.52 390.83,125.27 395,126.5 C399.17,127.73 404.17,128.82 410,129.5 C415.83,130.18 422.42,130.31 430,130.57 C437.58,130.83 451.25,130.97 455.5,131.05" stroke="#e07070" stroke-width="0.45" fill="none" opacity="0.7"/>
<path d="M252,130.6 C254.17,130.38 260.33,130.04 265,129.3 C269.67,128.55 275.83,127.95 280,126.14 C284.17,124.32 287.17,121.18 290,118.39 C292.83,115.59 294.83,113.61 297,109.38 C299.17,105.15 301.33,98.44 303,93 C304.67,87.56 305.67,82.7 307,76.74 C308.33,70.77 309.92,62.3 311,57.21 C312.08,52.11 312.73,48.94 313.5,46.19 C314.27,43.44 314.93,40.78 315.6,40.7 C316.27,40.61 316.85,42.58 317.5,45.68 C318.15,48.78 318.75,54.32 319.5,59.3 C320.25,64.27 321.17,75.92 322,75.55 C322.83,75.18 323.67,62.46 324.5,57.08 C325.33,51.7 326.08,46.77 327,43.26 C327.92,39.75 329,36.68 330,36.04 C331,35.41 332,37.59 333,39.46 C334,41.33 334.83,43.57 336,47.28 C337.17,50.99 338.67,57.15 340,61.71 C341.33,66.27 342.67,70.35 344,74.64 C345.33,78.93 346.5,83.69 348,87.44 C349.5,91.2 351.17,94.37 353,97.18 C354.83,99.99 357,102.29 359,104.29 C361,106.29 363,107.65 365,109.19 C367,110.74 368.83,112.09 371,113.56 C373.17,115.03 375.67,116.58 378,118 C380.33,119.42 382.17,120.68 385,122.1 C387.83,123.52 390.83,125.27 395,126.5 C399.17,127.73 404.17,128.82 410,129.5 C415.83,130.18 422.42,130.3 430,130.56 C437.58,130.82 451.25,130.96 455.5,131.04" stroke="#70a0e0" stroke-width="0.45" fill="none" opacity="0.7"/>
<path d="M252,130.59 C254.17,130.36 260.33,130.01 265,129.26 C269.67,128.51 275.83,127.91 280,126.07 C284.17,124.22 287.17,121.04 290,118.21 C292.83,115.37 294.83,113.36 297,109.07 C299.17,104.78 301.33,97.99 303,92.46 C304.67,86.92 305.67,81.96 307,75.86 C308.33,69.77 309.92,61.09 311,55.88 C312.08,50.67 312.73,47.42 313.5,44.6 C314.27,41.79 314.93,39.08 315.6,38.98 C316.27,38.89 316.85,40.89 317.5,44.04 C318.15,47.18 318.75,52.78 319.5,57.83 C320.25,62.87 321.17,74.72 322,74.31 C322.83,73.9 323.67,60.89 324.5,55.38 C325.33,49.87 326.08,44.87 327,41.28 C327.92,37.69 329,34.48 330,33.84 C331,33.2 332,35.5 333,37.45 C334,39.4 334.83,41.72 336,45.55 C337.17,49.39 338.67,55.74 340,60.45 C341.33,65.15 342.67,69.36 344,73.78 C345.33,78.19 346.5,83.09 348,86.95 C349.5,90.8 351.17,94.04 353,96.9 C354.83,99.76 357,102.07 359,104.11 C361,106.14 363,107.53 365,109.1 C367,110.68 368.83,112.06 371,113.54 C373.17,115.02 375.67,116.57 378,118 C380.33,119.43 382.17,120.68 385,122.1 C387.83,123.52 390.83,125.27 395,126.5 C399.17,127.73 404.17,128.82 410,129.5 C415.83,130.18 422.42,130.3 430,130.55 C437.58,130.81 451.25,130.95 455.5,131.03" stroke="#70c070" stroke-width="0.45" fill="none" opacity="0.7"/>
<path d="M252,130.57 C254.17,130.35 260.33,129.98 265,129.22 C269.67,128.46 275.83,127.86 280,126 C284.17,124.14 287.17,120.91 290,118.04 C292.83,115.17 294.83,113.13 297,108.78 C299.17,104.43 301.33,97.56 303,91.94 C304.67,86.31 305.67,81.25 307,75.03 C308.33,68.81 309.92,59.95 311,54.62 C312.08,49.3 312.73,45.98 313.5,43.1 C314.27,40.23 314.93,37.46 315.6,37.36 C316.27,37.25 316.85,39.29 317.5,42.47 C318.15,45.65 318.75,51.33 319.5,56.44 C320.25,61.55 321.17,73.58 322,73.14 C322.83,72.69 323.67,59.39 324.5,53.77 C325.33,48.15 326.08,43.07 327,39.4 C327.92,35.73 329,32.4 330,31.76 C331,31.12 332,33.52 333,35.55 C334,37.57 334.83,39.97 336,43.92 C337.17,47.87 338.67,54.41 340,59.25 C341.33,64.09 342.67,68.42 344,72.96 C345.33,77.5 346.5,82.53 348,86.47 C349.5,90.42 351.17,93.72 353,96.63 C354.83,99.54 357,101.87 359,103.94 C361,106 363,107.42 365,109.02 C367,110.62 368.83,112.02 371,113.52 C373.17,115.02 375.67,116.57 378,118 C380.33,119.43 382.17,120.68 385,122.1 C387.83,123.52 390.83,125.27 395,126.5 C399.17,127.73 404.17,128.83 410,129.5 C415.83,130.17 422.42,130.29 430,130.54 C437.58,130.8 451.25,130.95 455.5,131.03" stroke="#e8a850" stroke-width="0.45" fill="none" opacity="0.7"/>
<path d="M252,130.56 C254.17,130.33 260.33,129.96 265,129.19 C269.67,128.42 275.83,127.82 280,125.94 C284.17,124.05 287.17,120.78 290,117.88 C292.83,114.97 294.83,112.9 297,108.5 C299.17,104.1 301.33,97.16 303,91.45 C304.67,85.74 305.67,80.59 307,74.25 C308.33,67.92 309.92,58.87 311,53.44 C312.08,48.01 312.73,44.63 313.5,41.69 C314.27,38.76 314.93,35.94 315.6,35.83 C316.27,35.72 316.85,37.79 317.5,41 C318.15,44.22 318.75,49.96 319.5,55.13 C320.25,60.3 321.17,72.51 322,72.03 C322.83,71.55 323.67,57.99 324.5,52.25 C325.33,46.52 326.08,41.37 327,37.63 C327.92,33.89 329,30.44 330,29.79 C331,29.15 332,31.66 333,33.76 C334,35.85 334.83,38.32 336,42.38 C337.17,46.44 338.67,53.16 340,58.13 C341.33,63.1 342.67,67.54 344,72.19 C345.33,76.84 346.5,82 348,86.03 C349.5,90.06 351.17,93.42 353,96.38 C354.83,99.33 357,101.68 359,103.78 C361,105.87 363,107.32 365,108.94 C367,110.56 368.83,111.99 371,113.5 C373.17,115.01 375.67,116.57 378,118 C380.33,119.43 382.17,120.68 385,122.1 C387.83,123.52 390.83,125.27 395,126.5 C399.17,127.73 404.17,128.83 410,129.5 C415.83,130.17 422.42,130.28 430,130.54 C437.58,130.79 451.25,130.94 455.5,131.03" stroke="#9a9a3a" stroke-width="0.55" fill="none" opacity="0.95"/>
<path d="M252,130.55 C254.17,130.32 260.33,129.93 265,129.16 C269.67,128.38 275.83,127.78 280,125.88 C284.17,123.97 287.17,120.66 290,117.73 C292.83,114.79 294.83,112.7 297,108.24 C299.17,103.79 301.33,96.78 303,91 C304.67,85.21 305.67,79.97 307,73.52 C308.33,67.08 309.92,57.86 311,52.33 C312.08,46.81 312.73,43.36 313.5,40.37 C314.27,37.38 314.93,34.52 315.6,34.4 C316.27,34.28 316.85,36.38 317.5,39.63 C318.15,42.88 318.75,48.68 319.5,53.9 C320.25,59.13 321.17,71.5 322,70.99 C322.83,70.48 323.67,56.67 324.5,50.84 C325.33,45 326.08,39.79 327,35.98 C327.92,32.16 329,28.61 330,27.96 C331,27.31 332,29.92 333,32.08 C334,34.24 334.83,36.77 336,40.94 C337.17,45.11 338.67,51.99 340,57.08 C341.33,62.16 342.67,66.71 344,71.47 C345.33,76.23 346.5,81.5 348,85.61 C349.5,89.72 351.17,93.14 353,96.14 C354.83,99.14 357,101.5 359,103.63 C361,105.75 363,107.22 365,108.86 C367,110.51 368.83,111.96 371,113.48 C373.17,115.01 375.67,116.56 378,118 C380.33,119.44 382.17,120.68 385,122.1 C387.83,123.52 390.83,125.27 395,126.5 C399.17,127.73 404.17,128.83 410,129.5 C415.83,130.17 422.42,130.28 430,130.53 C437.58,130.78 451.25,130.94 455.5,131.02" stroke="#c08850" stroke-width="0.55" fill="none" opacity="0.95"/>
<path d="M252,130.54 C254.17,130.31 260.33,129.91 265,129.13 C269.67,128.34 275.83,127.75 280,125.83 C284.17,123.9 287.17,120.56 290,117.59 C292.83,114.62 294.83,112.51 297,108 C299.17,103.5 301.33,96.43 303,90.57 C304.67,84.71 305.67,79.39 307,72.84 C308.33,66.3 309.92,56.93 311,51.31 C312.08,45.69 312.73,42.18 313.5,39.15 C314.27,36.11 314.93,33.2 315.6,33.07 C316.27,32.94 316.85,35.07 317.5,38.35 C318.15,41.64 318.75,47.49 319.5,52.77 C320.25,58.05 321.17,70.57 322,70.03 C322.83,69.49 323.67,55.45 324.5,49.52 C325.33,43.59 326.08,38.32 327,34.44 C327.92,30.56 329,26.91 330,26.25 C331,25.6 332,28.3 333,30.53 C334,32.75 334.83,35.34 336,39.61 C337.17,43.87 338.67,50.9 340,56.1 C341.33,61.3 342.67,65.95 344,70.8 C345.33,75.66 346.5,81.04 348,85.22 C349.5,89.41 351.17,92.88 353,95.92 C354.83,98.96 357,101.34 359,103.49 C361,105.63 363,107.13 365,108.79 C367,110.46 368.83,111.93 371,113.47 C373.17,115 375.67,116.56 378,118 C380.33,119.44 382.17,120.68 385,122.1 C387.83,123.52 390.83,125.27 395,126.5 C399.17,127.73 404.17,128.83 410,129.5 C415.83,130.17 422.42,130.27 430,130.53 C437.58,130.78 451.25,130.93 455.5,131.02" stroke="#44a8a8" stroke-width="0.55" fill="none" opacity="0.95"/>
<path d="M252,130.53 C254.17,130.29 260.33,129.89 265,129.1 C269.67,128.31 275.83,127.72 280,125.78 C284.17,123.84 287.17,120.46 290,117.46 C292.83,114.46 294.83,112.33 297,107.78 C299.17,103.24 301.33,96.11 303,90.19 C304.67,84.26 305.67,78.86 307,72.22 C308.33,65.59 309.92,56.07 311,50.37 C312.08,44.67 312.73,41.11 313.5,38.02 C314.27,34.94 314.93,31.99 315.6,31.85 C316.27,31.71 316.85,33.87 317.5,37.18 C318.15,40.5 318.75,46.4 319.5,51.73 C320.25,57.05 321.17,69.72 322,69.15 C322.83,68.58 323.67,54.33 324.5,48.31 C325.33,42.3 326.08,36.97 327,33.03 C327.92,29.1 329,25.35 330,24.69 C331,24.03 332,26.82 333,29.1 C334,31.38 334.83,34.03 336,38.38 C337.17,42.73 338.67,49.9 340,55.2 C341.33,60.51 342.67,65.25 344,70.19 C345.33,75.13 346.5,80.61 348,84.87 C349.5,89.12 351.17,92.64 353,95.72 C354.83,98.8 357,101.19 359,103.36 C361,105.53 363,107.05 365,108.73 C367,110.41 368.83,111.91 371,113.45 C373.17,115 375.67,116.56 378,118 C380.33,119.44 382.17,120.68 385,122.1 C387.83,123.52 390.83,125.27 395,126.5 C399.17,127.73 404.17,128.83 410,129.5 C415.83,130.17 422.42,130.27 430,130.52 C437.58,130.77 451.25,130.93 455.5,131.01" stroke="#80803a" stroke-width="0.55" fill="none" opacity="0.95"/>
<path d="M252,130.52 C254.17,130.28 260.33,129.87 265,129.07 C269.67,128.27 275.83,127.69 280,125.73 C284.17,123.78 287.17,120.37 290,117.34 C292.83,114.32 294.83,112.17 297,107.59 C299.17,103 301.33,95.82 303,89.84 C304.67,83.85 305.67,78.38 307,71.66 C308.33,64.94 309.92,55.29 311,49.51 C312.08,43.74 312.73,40.13 313.5,37 C314.27,33.88 314.93,30.9 315.6,30.75 C316.27,30.61 316.85,32.79 317.5,36.13 C318.15,39.46 318.75,45.41 319.5,50.78 C320.25,56.15 321.17,68.95 322,68.35 C322.83,67.76 323.67,53.32 324.5,47.22 C325.33,41.12 326.08,35.75 327,31.76 C327.92,27.77 329,23.93 330,23.28 C331,22.62 332,25.48 333,27.81 C334,30.14 334.83,32.84 336,37.27 C337.17,41.7 338.67,49 340,54.39 C341.33,59.79 342.67,64.61 344,69.64 C345.33,74.66 346.5,80.23 348,84.55 C349.5,88.86 351.17,92.42 353,95.54 C354.83,98.65 357,101.05 359,103.24 C361,105.43 363,106.97 365,108.67 C367,110.37 368.83,111.88 371,113.44 C373.17,114.99 375.67,116.56 378,118 C380.33,119.44 382.17,120.68 385,122.1 C387.83,123.52 390.83,125.27 395,126.5 C399.17,127.73 404.17,128.83 410,129.5 C415.83,130.17 422.42,130.26 430,130.51 C437.58,130.77 451.25,130.93 455.5,131.01" stroke="#a06a40" stroke-width="0.55" fill="none" opacity="0.95"/>
<path d="M252,130.52 C254.17,130.27 260.33,129.86 265,129.05 C269.67,128.25 275.83,127.66 280,125.69 C284.17,123.72 287.17,120.29 290,117.24 C292.83,114.19 294.83,112.03 297,107.41 C299.17,102.79 301.33,95.57 303,89.52 C304.67,83.48 305.67,77.96 307,71.16 C308.33,64.37 309.92,54.6 311,48.76 C312.08,42.92 312.73,39.27 313.5,36.1 C314.27,32.94 314.93,29.93 315.6,29.78 C316.27,29.62 316.85,31.83 317.5,35.19 C318.15,38.55 318.75,44.54 319.5,49.95 C320.25,55.36 321.17,68.26 322,67.65 C322.83,67.03 323.67,52.42 324.5,46.26 C325.33,40.09 326.08,34.67 327,30.63 C327.92,26.59 329,22.68 330,22.02 C331,21.36 332,24.29 333,26.67 C334,29.04 334.83,31.79 336,36.29 C337.17,40.79 338.67,48.2 340,53.67 C341.33,59.15 342.67,64.05 344,69.14 C345.33,74.24 346.5,79.89 348,84.26 C349.5,88.63 351.17,92.23 353,95.38 C354.83,98.52 357,100.93 359,103.14 C361,105.35 363,106.9 365,108.62 C367,110.33 368.83,111.86 371,113.43 C373.17,114.99 375.67,116.55 378,118 C380.33,119.45 382.17,120.68 385,122.1 C387.83,123.52 390.83,125.27 395,126.5 C399.17,127.73 404.17,128.83 410,129.5 C415.83,130.17 422.42,130.26 430,130.51 C437.58,130.76 451.25,130.92 455.5,131.01" stroke="#6a8a3a" stroke-width="0.55" fill="none" opacity="0.95"/>
<path d="M252,130.51 C254.17,130.26 260.33,129.84 265,129.03 C269.67,128.22 275.83,127.64 280,125.66 C284.17,123.68 287.17,120.22 290,117.15 C292.83,114.08 294.83,111.91 297,107.26 C299.17,102.61 301.33,95.34 303,89.26 C304.67,83.17 305.67,77.59 307,70.73 C308.33,63.88 309.92,54.01 311,48.11 C312.08,42.21 312.73,38.52 313.5,35.33 C314.27,32.13 314.93,29.09 315.6,28.94 C316.27,28.78 316.85,31 317.5,34.38 C318.15,37.76 318.75,43.79 319.5,49.23 C320.25,54.67 321.17,67.67 322,67.04 C322.83,66.41 323.67,51.65 324.5,45.42 C325.33,39.19 326.08,33.74 327,29.66 C327.92,25.58 329,21.61 330,20.94 C331,20.28 332,23.27 333,25.68 C334,28.1 334.83,30.88 336,35.44 C337.17,40.01 338.67,47.51 340,53.06 C341.33,58.6 342.67,63.56 344,68.72 C345.33,73.88 346.5,79.6 348,84.02 C349.5,88.44 351.17,92.07 353,95.24 C354.83,98.41 357,100.83 359,103.05 C361,105.27 363,106.85 365,108.58 C367,110.3 368.83,111.85 371,113.42 C373.17,114.99 375.67,116.55 378,118 C380.33,119.45 382.17,120.68 385,122.1 C387.83,123.52 390.83,125.27 395,126.5 C399.17,127.73 404.17,128.83 410,129.5 C415.83,130.17 422.42,130.26 430,130.51 C437.58,130.76 451.25,130.92 455.5,131" stroke="#b07838" stroke-width="0.55" fill="none" opacity="0.95"/>
<path d="M252,130.51 C254.17,130.26 260.33,129.83 265,129.02 C269.67,128.2 275.83,127.62 280,125.63 C284.17,123.64 287.17,120.16 290,117.08 C292.83,114 294.83,111.81 297,107.14 C299.17,102.46 301.33,95.16 303,89.04 C304.67,82.91 305.67,77.29 307,70.38 C308.33,63.47 309.92,53.53 311,47.58 C312.08,41.63 312.73,37.91 313.5,34.69 C314.27,31.47 314.93,28.41 315.6,28.25 C316.27,28.09 316.85,30.32 317.5,33.72 C318.15,37.12 318.75,43.17 319.5,48.64 C320.25,54.11 321.17,67.19 322,66.54 C322.83,65.89 323.67,51.02 324.5,44.74 C325.33,38.46 326.08,32.98 327,28.87 C327.92,24.75 329,20.73 330,20.06 C331,19.4 332,22.43 333,24.88 C334,27.33 334.83,30.14 336,34.76 C337.17,39.37 338.67,46.95 340,52.55 C341.33,58.16 342.67,63.17 344,68.38 C345.33,73.59 346.5,79.36 348,83.82 C349.5,88.28 351.17,91.93 353,95.12 C354.83,98.32 357,100.74 359,102.98 C361,105.21 363,106.8 365,108.54 C367,110.28 368.83,111.83 371,113.41 C373.17,114.99 375.67,116.55 378,118 C380.33,119.45 382.17,120.68 385,122.1 C387.83,123.52 390.83,125.27 395,126.5 C399.17,127.73 404.17,128.83 410,129.5 C415.83,130.17 422.42,130.25 430,130.5 C437.58,130.75 451.25,130.92 455.5,131" stroke="#3a9a9a" stroke-width="0.55" fill="none" opacity="0.95"/>
<path d="M252,130.5 C254.17,130.25 260.33,129.82 265,129.01 C269.67,128.19 275.83,127.61 280,125.61 C284.17,123.61 287.17,120.12 290,117.03 C292.83,113.93 294.83,111.74 297,107.04 C299.17,102.35 301.33,95.03 303,88.88 C304.67,82.73 305.67,77.07 307,70.13 C308.33,63.18 309.92,53.17 311,47.19 C312.08,41.21 312.73,37.47 313.5,34.23 C314.27,30.99 314.93,27.91 315.6,27.75 C316.27,27.58 316.85,29.83 317.5,33.24 C318.15,36.65 318.75,42.72 319.5,48.21 C320.25,53.7 321.17,66.84 322,66.18 C322.83,65.52 323.67,50.56 324.5,44.25 C325.33,37.93 326.08,32.42 327,28.29 C327.92,24.15 329,20.08 330,19.42 C331,18.75 332,21.82 333,24.29 C334,26.76 334.83,29.6 336,34.25 C337.17,38.9 338.67,46.54 340,52.18 C341.33,57.83 342.67,62.88 344,68.12 C345.33,73.37 346.5,79.19 348,83.67 C349.5,88.16 351.17,91.83 353,95.04 C354.83,98.25 357,100.68 359,102.93 C361,105.17 363,106.77 365,108.51 C367,110.26 368.83,111.82 371,113.4 C373.17,114.98 375.67,116.55 378,118 C380.33,119.45 382.17,120.68 385,122.1 C387.83,123.52 390.83,125.27 395,126.5 C399.17,127.73 404.17,128.83 410,129.5 C415.83,130.17 422.42,130.25 430,130.5 C437.58,130.75 451.25,130.92 455.5,131" stroke="#7a7a30" stroke-width="0.55" fill="none" opacity="0.95"/>
<path d="M252,130.5 C254.17,130.25 260.33,129.82 265,129 C269.67,128.18 275.83,127.6 280,125.6 C284.17,123.6 287.17,120.1 290,117 C292.83,113.9 294.83,111.7 297,107 C299.17,102.3 301.33,94.97 303,88.8 C304.67,82.63 305.67,76.97 307,70 C308.33,63.03 309.92,53 311,47 C312.08,41 312.73,37.25 313.5,34 C314.27,30.75 314.93,27.67 315.6,27.5 C316.27,27.33 316.85,29.58 317.5,33 C318.15,36.42 318.75,42.5 319.5,48 C320.25,53.5 321.17,66.67 322,66 C322.83,65.33 323.67,50.33 324.5,44 C325.33,37.67 326.08,32.15 327,28 C327.92,23.85 329,19.77 330,19.1 C331,18.43 332,21.52 333,24 C334,26.48 334.83,29.33 336,34 C337.17,38.67 338.67,46.33 340,52 C341.33,57.67 342.67,62.73 344,68 C345.33,73.27 346.5,79.1 348,83.6 C349.5,88.1 351.17,91.78 353,95 C354.83,98.22 357,100.65 359,102.9 C361,105.15 363,106.75 365,108.5 C367,110.25 368.83,111.82 371,113.4 C373.17,114.98 375.67,116.55 378,118 C380.33,119.45 382.17,120.68 385,122.1 C387.83,123.52 390.83,125.27 395,126.5 C399.17,127.73 404.17,128.83 410,129.5 C415.83,130.17 422.42,130.25 430,130.5 C437.58,130.75 451.25,130.92 455.5,131" stroke="#5a78b8" stroke-width="0.55" fill="none" opacity="0.95"/>
<rect x="251.6" y="6.6" width="203.9" height="132.8" fill="none" stroke="#333" stroke-width="1.1" />
<line x1="251.47" y1="139.4" x2="251.47" y2="137.2" stroke="#333" stroke-width="0.8" />
<text x="251.47" y="149.12" font-size="7" text-anchor="middle" fill="#444" font-weight="normal" >1840</text>
<line x1="262.2" y1="139.4" x2="262.2" y2="138.1" stroke="#333" stroke-width="0.8" />
<line x1="272.93" y1="139.4" x2="272.93" y2="137.2" stroke="#333" stroke-width="0.8" />
<text x="272.93" y="149.12" font-size="7" text-anchor="middle" fill="#444" font-weight="normal" >1820</text>
<line x1="283.67" y1="139.4" x2="283.67" y2="138.1" stroke="#333" stroke-width="0.8" />
<line x1="294.4" y1="139.4" x2="294.4" y2="137.2" stroke="#333" stroke-width="0.8" />
<text x="294.4" y="149.12" font-size="7" text-anchor="middle" fill="#444" font-weight="normal" >1800</text>
<line x1="305.13" y1="139.4" x2="305.13" y2="138.1" stroke="#333" stroke-width="0.8" />
<line x1="315.87" y1="139.4" x2="315.87" y2="137.2" stroke="#333" stroke-width="0.8" />
<text x="315.87" y="149.12" font-size="7" text-anchor="middle" fill="#444" font-weight="normal" >1780</text>
<line x1="326.6" y1="139.4" x2="326.6" y2="138.1" stroke="#333" stroke-width="0.8" />
<line x1="337.33" y1="139.4" x2="337.33" y2="137.2" stroke="#333" stroke-width="0.8" />
<text x="337.33" y="149.12" font-size="7" text-anchor="middle" fill="#444" font-weight="normal" >1760</text>
<line x1="348.06" y1="139.4" x2="348.06" y2="138.1" stroke="#333" stroke-width="0.8" />
<line x1="358.8" y1="139.4" x2="358.8" y2="137.2" stroke="#333" stroke-width="0.8" />
<text x="358.8" y="149.12" font-size="7" text-anchor="middle" fill="#444" font-weight="normal" >1740</text>
<line x1="369.53" y1="139.4" x2="369.53" y2="138.1" stroke="#333" stroke-width="0.8" />
<line x1="380.26" y1="139.4" x2="380.26" y2="137.2" stroke="#333" stroke-width="0.8" />
<text x="380.26" y="149.12" font-size="7" text-anchor="middle" fill="#444" font-weight="normal" >1720</text>
<line x1="391" y1="139.4" x2="391" y2="138.1" stroke="#333" stroke-width="0.8" />
<line x1="401.73" y1="139.4" x2="401.73" y2="137.2" stroke="#333" stroke-width="0.8" />
<text x="401.73" y="149.12" font-size="7" text-anchor="middle" fill="#444" font-weight="normal" >1700</text>
<line x1="412.46" y1="139.4" x2="412.46" y2="138.1" stroke="#333" stroke-width="0.8" />
<line x1="423.2" y1="139.4" x2="423.2" y2="137.2" stroke="#333" stroke-width="0.8" />
<text x="423.2" y="149.12" font-size="7" text-anchor="middle" fill="#444" font-weight="normal" >1680</text>
<line x1="433.93" y1="139.4" x2="433.93" y2="138.1" stroke="#333" stroke-width="0.8" />
<line x1="444.66" y1="139.4" x2="444.66" y2="137.2" stroke="#333" stroke-width="0.8" />
<text x="444.66" y="149.12" font-size="7" text-anchor="middle" fill="#444" font-weight="normal" >1660</text>
<text x="354" y="158.5" font-size="8.9" text-anchor="middle" fill="#222" font-weight="normal" >Wavenumber (cm<tspan font-size="5" dy="-3">-1</tspan><tspan dy="3">)</tspan></text>
<text transform="translate(241.8,74) rotate(-90)" x="0" y="3.1" font-size="8.6" text-anchor="middle" fill="#222" font-weight="normal">Absorbance (arb.units)</text>
<text x="262" y="19.42" font-size="8.1" text-anchor="start" fill="#222" font-weight="normal" >20 min</text>
<text x="259.5" y="120.42" font-size="8.1" text-anchor="start" fill="#222" font-weight="normal" >0 min</text>
<text x="272" y="77.42" font-size="8.1" text-anchor="start" fill="#222" font-weight="normal" >Time</text>
<line x1="268.6" y1="111" x2="268.6" y2="31" stroke="#444" stroke-width="0.8" />
<path d="M268.6,27.5 L270.4,31.5 L266.8,31.5 Z" fill="#222"/>
<text x="314.5" y="25.24" font-size="7.6" text-anchor="middle" fill="#222" font-weight="normal" >1780</text>
<text x="331.5" y="16.14" font-size="7.6" text-anchor="middle" fill="#222" font-weight="normal" >1766</text>
<circle cx="430.3" cy="20" r="4.6" fill="url(#gCe)" stroke="none" stroke-width="1" />
<circle cx="426.7" cy="22.8" r="2.2" fill="url(#gO)" stroke="none" stroke-width="1" />
<circle cx="431.5" cy="24.6" r="2.2" fill="url(#gO)" stroke="none" stroke-width="1" />
<circle cx="421.1" cy="22" r="4.6" fill="url(#gCe)" stroke="none" stroke-width="1" />
<circle cx="417.5" cy="24.8" r="2.2" fill="url(#gO)" stroke="none" stroke-width="1" />
<circle cx="422.3" cy="26.6" r="2.2" fill="url(#gO)" stroke="none" stroke-width="1" />
<circle cx="411.9" cy="24" r="4.6" fill="url(#gCe)" stroke="none" stroke-width="1" />
<circle cx="408.3" cy="26.8" r="2.2" fill="url(#gO)" stroke="none" stroke-width="1" />
<circle cx="413.1" cy="28.6" r="2.2" fill="url(#gO)" stroke="none" stroke-width="1" />
<circle cx="402.7" cy="26" r="4.6" fill="url(#gCe)" stroke="none" stroke-width="1" />
<circle cx="399.1" cy="28.8" r="2.2" fill="url(#gO)" stroke="none" stroke-width="1" />
<circle cx="403.9" cy="30.6" r="2.2" fill="url(#gO)" stroke="none" stroke-width="1" />
<circle cx="393.5" cy="28" r="4.6" fill="url(#gCe)" stroke="none" stroke-width="1" />
<circle cx="389.9" cy="30.8" r="2.2" fill="url(#gO)" stroke="none" stroke-width="1" />
<circle cx="394.7" cy="32.6" r="2.2" fill="url(#gO)" stroke="none" stroke-width="1" />
<circle cx="434.7" cy="28.5" r="4.6" fill="url(#gCe)" stroke="none" stroke-width="1" />
<circle cx="431.1" cy="31.3" r="2.2" fill="url(#gO)" stroke="none" stroke-width="1" />
<circle cx="435.9" cy="33.1" r="2.2" fill="url(#gO)" stroke="none" stroke-width="1" />
<circle cx="425.5" cy="30.5" r="4.6" fill="url(#gCe)" stroke="none" stroke-width="1" />
<circle cx="421.9" cy="33.3" r="2.2" fill="url(#gO)" stroke="none" stroke-width="1" />
<circle cx="426.7" cy="35.1" r="2.2" fill="url(#gO)" stroke="none" stroke-width="1" />
<circle cx="416.3" cy="32.5" r="4.6" fill="url(#gCe)" stroke="none" stroke-width="1" />
<circle cx="412.7" cy="35.3" r="2.2" fill="url(#gO)" stroke="none" stroke-width="1" />
<circle cx="417.5" cy="37.1" r="2.2" fill="url(#gO)" stroke="none" stroke-width="1" />
<circle cx="407.1" cy="34.5" r="4.6" fill="url(#gCe)" stroke="none" stroke-width="1" />
<circle cx="403.5" cy="37.3" r="2.2" fill="url(#gO)" stroke="none" stroke-width="1" />
<circle cx="408.3" cy="39.1" r="2.2" fill="url(#gO)" stroke="none" stroke-width="1" />
<circle cx="397.9" cy="36.5" r="4.6" fill="url(#gCe)" stroke="none" stroke-width="1" />
<circle cx="394.3" cy="39.3" r="2.2" fill="url(#gO)" stroke="none" stroke-width="1" />
<circle cx="399.1" cy="41.1" r="2.2" fill="url(#gO)" stroke="none" stroke-width="1" />
<circle cx="439.1" cy="37" r="4.6" fill="url(#gCe)" stroke="none" stroke-width="1" />
<circle cx="435.5" cy="39.8" r="2.2" fill="url(#gO)" stroke="none" stroke-width="1" />
<circle cx="440.3" cy="41.6" r="2.2" fill="url(#gO)" stroke="none" stroke-width="1" />
<circle cx="429.9" cy="39" r="4.6" fill="url(#gCe)" stroke="none" stroke-width="1" />
<circle cx="426.3" cy="41.8" r="2.2" fill="url(#gO)" stroke="none" stroke-width="1" />
<circle cx="431.1" cy="43.6" r="2.2" fill="url(#gO)" stroke="none" stroke-width="1" />
<circle cx="420.7" cy="41" r="4.6" fill="url(#gCe)" stroke="none" stroke-width="1" />
<circle cx="417.1" cy="43.8" r="2.2" fill="url(#gO)" stroke="none" stroke-width="1" />
<circle cx="421.9" cy="45.6" r="2.2" fill="url(#gO)" stroke="none" stroke-width="1" />
<circle cx="411.5" cy="43" r="4.6" fill="url(#gCe)" stroke="none" stroke-width="1" />
<circle cx="407.9" cy="45.8" r="2.2" fill="url(#gO)" stroke="none" stroke-width="1" />
<circle cx="412.7" cy="47.6" r="2.2" fill="url(#gO)" stroke="none" stroke-width="1" />
<circle cx="402.3" cy="45" r="4.6" fill="url(#gCe)" stroke="none" stroke-width="1" />
<circle cx="398.7" cy="47.8" r="2.2" fill="url(#gO)" stroke="none" stroke-width="1" />
<circle cx="403.5" cy="49.6" r="2.2" fill="url(#gO)" stroke="none" stroke-width="1" />
<circle cx="443.5" cy="45.5" r="4.6" fill="url(#gCe)" stroke="none" stroke-width="1" />
<circle cx="439.9" cy="48.3" r="2.2" fill="url(#gO)" stroke="none" stroke-width="1" />
<circle cx="444.7" cy="50.1" r="2.2" fill="url(#gO)" stroke="none" stroke-width="1" />
<circle cx="434.3" cy="47.5" r="4.6" fill="url(#gCe)" stroke="none" stroke-width="1" />
<circle cx="430.7" cy="50.3" r="2.2" fill="url(#gO)" stroke="none" stroke-width="1" />
<circle cx="435.5" cy="52.1" r="2.2" fill="url(#gO)" stroke="none" stroke-width="1" />
<circle cx="425.1" cy="49.5" r="4.6" fill="url(#gCe)" stroke="none" stroke-width="1" />
<circle cx="421.5" cy="52.3" r="2.2" fill="url(#gO)" stroke="none" stroke-width="1" />
<circle cx="426.3" cy="54.1" r="2.2" fill="url(#gO)" stroke="none" stroke-width="1" />
<circle cx="415.9" cy="51.5" r="4.6" fill="url(#gCe)" stroke="none" stroke-width="1" />
<circle cx="412.3" cy="54.3" r="2.2" fill="url(#gO)" stroke="none" stroke-width="1" />
<circle cx="417.1" cy="56.1" r="2.2" fill="url(#gO)" stroke="none" stroke-width="1" />
<circle cx="406.7" cy="53.5" r="4.6" fill="url(#gCe)" stroke="none" stroke-width="1" />
<circle cx="403.1" cy="56.3" r="2.2" fill="url(#gO)" stroke="none" stroke-width="1" />
<circle cx="407.9" cy="58.1" r="2.2" fill="url(#gO)" stroke="none" stroke-width="1" />
<circle cx="447.9" cy="54" r="4.6" fill="url(#gCe)" stroke="none" stroke-width="1" />
<circle cx="444.3" cy="56.8" r="2.2" fill="url(#gO)" stroke="none" stroke-width="1" />
<circle cx="449.1" cy="58.6" r="2.2" fill="url(#gO)" stroke="none" stroke-width="1" />
<circle cx="438.7" cy="56" r="4.6" fill="url(#gCe)" stroke="none" stroke-width="1" />
<circle cx="435.1" cy="58.8" r="2.2" fill="url(#gO)" stroke="none" stroke-width="1" />
<circle cx="439.9" cy="60.6" r="2.2" fill="url(#gO)" stroke="none" stroke-width="1" />
<circle cx="429.5" cy="58" r="4.6" fill="url(#gCe)" stroke="none" stroke-width="1" />
<circle cx="425.9" cy="60.8" r="2.2" fill="url(#gO)" stroke="none" stroke-width="1" />
<circle cx="430.7" cy="62.6" r="2.2" fill="url(#gO)" stroke="none" stroke-width="1" />
<circle cx="420.3" cy="60" r="4.6" fill="url(#gCe)" stroke="none" stroke-width="1" />
<circle cx="416.7" cy="62.8" r="2.2" fill="url(#gO)" stroke="none" stroke-width="1" />
<circle cx="421.5" cy="64.6" r="2.2" fill="url(#gO)" stroke="none" stroke-width="1" />
<circle cx="411.1" cy="62" r="4.6" fill="url(#gCe)" stroke="none" stroke-width="1" />
<circle cx="407.5" cy="64.8" r="2.2" fill="url(#gO)" stroke="none" stroke-width="1" />
<circle cx="412.3" cy="66.6" r="2.2" fill="url(#gO)" stroke="none" stroke-width="1" />
<circle cx="425.8" cy="16.5" r="4.6" fill="url(#gCe)" stroke="none" stroke-width="1" />
<circle cx="422.2" cy="19.3" r="2.2" fill="url(#gO)" stroke="none" stroke-width="1" />
<circle cx="427" cy="21.1" r="2.2" fill="url(#gO)" stroke="none" stroke-width="1" />
<circle cx="416.6" cy="18.5" r="4.6" fill="url(#gCe)" stroke="none" stroke-width="1" />
<circle cx="413" cy="21.3" r="2.2" fill="url(#gO)" stroke="none" stroke-width="1" />
<circle cx="417.8" cy="23.1" r="2.2" fill="url(#gO)" stroke="none" stroke-width="1" />
<circle cx="407.4" cy="20.5" r="4.6" fill="url(#gCe)" stroke="none" stroke-width="1" />
<circle cx="403.8" cy="23.3" r="2.2" fill="url(#gO)" stroke="none" stroke-width="1" />
<circle cx="408.6" cy="25.1" r="2.2" fill="url(#gO)" stroke="none" stroke-width="1" />
<circle cx="398.2" cy="22.5" r="4.6" fill="url(#gCe)" stroke="none" stroke-width="1" />
<circle cx="394.6" cy="25.3" r="2.2" fill="url(#gO)" stroke="none" stroke-width="1" />
<circle cx="399.4" cy="27.1" r="2.2" fill="url(#gO)" stroke="none" stroke-width="1" />
<circle cx="389" cy="24.5" r="4.6" fill="url(#gCe)" stroke="none" stroke-width="1" />
<circle cx="385.4" cy="27.3" r="2.2" fill="url(#gO)" stroke="none" stroke-width="1" />
<circle cx="390.2" cy="29.1" r="2.2" fill="url(#gO)" stroke="none" stroke-width="1" />
<circle cx="430.2" cy="25" r="4.6" fill="url(#gCe)" stroke="none" stroke-width="1" />
<circle cx="426.6" cy="27.8" r="2.2" fill="url(#gO)" stroke="none" stroke-width="1" />
<circle cx="431.4" cy="29.6" r="2.2" fill="url(#gO)" stroke="none" stroke-width="1" />
<circle cx="421" cy="27" r="4.6" fill="url(#gCe)" stroke="none" stroke-width="1" />
<circle cx="417.4" cy="29.8" r="2.2" fill="url(#gO)" stroke="none" stroke-width="1" />
<circle cx="422.2" cy="31.6" r="2.2" fill="url(#gO)" stroke="none" stroke-width="1" />
<circle cx="411.8" cy="29" r="4.6" fill="url(#gCe)" stroke="none" stroke-width="1" />
<circle cx="408.2" cy="31.8" r="2.2" fill="url(#gO)" stroke="none" stroke-width="1" />
<circle cx="413" cy="33.6" r="2.2" fill="url(#gO)" stroke="none" stroke-width="1" />
<circle cx="402.6" cy="31" r="4.6" fill="url(#gCe)" stroke="none" stroke-width="1" />
<circle cx="399" cy="33.8" r="2.2" fill="url(#gO)" stroke="none" stroke-width="1" />
<circle cx="403.8" cy="35.6" r="2.2" fill="url(#gO)" stroke="none" stroke-width="1" />
<circle cx="393.4" cy="33" r="4.6" fill="url(#gCe)" stroke="none" stroke-width="1" />
<circle cx="389.8" cy="35.8" r="2.2" fill="url(#gO)" stroke="none" stroke-width="1" />
<circle cx="394.6" cy="37.6" r="2.2" fill="url(#gO)" stroke="none" stroke-width="1" />
<circle cx="434.6" cy="33.5" r="4.6" fill="url(#gCe)" stroke="none" stroke-width="1" />
<circle cx="431" cy="36.3" r="2.2" fill="url(#gO)" stroke="none" stroke-width="1" />
<circle cx="435.8" cy="38.1" r="2.2" fill="url(#gO)" stroke="none" stroke-width="1" />
<circle cx="425.4" cy="35.5" r="4.6" fill="url(#gCe)" stroke="none" stroke-width="1" />
<circle cx="421.8" cy="38.3" r="2.2" fill="url(#gO)" stroke="none" stroke-width="1" />
<circle cx="426.6" cy="40.1" r="2.2" fill="url(#gO)" stroke="none" stroke-width="1" />
<circle cx="416.2" cy="37.5" r="4.6" fill="url(#gCe)" stroke="none" stroke-width="1" />
<circle cx="412.6" cy="40.3" r="2.2" fill="url(#gO)" stroke="none" stroke-width="1" />
<circle cx="417.4" cy="42.1" r="2.2" fill="url(#gO)" stroke="none" stroke-width="1" />
<circle cx="407" cy="39.5" r="4.6" fill="url(#gCe)" stroke="none" stroke-width="1" />
<circle cx="403.4" cy="42.3" r="2.2" fill="url(#gO)" stroke="none" stroke-width="1" />
<circle cx="408.2" cy="44.1" r="2.2" fill="url(#gO)" stroke="none" stroke-width="1" />
<circle cx="397.8" cy="41.5" r="4.6" fill="url(#gCe)" stroke="none" stroke-width="1" />
<circle cx="394.2" cy="44.3" r="2.2" fill="url(#gO)" stroke="none" stroke-width="1" />
<circle cx="399" cy="46.1" r="2.2" fill="url(#gO)" stroke="none" stroke-width="1" />
<circle cx="439" cy="42" r="4.6" fill="url(#gCe)" stroke="none" stroke-width="1" />
<circle cx="435.4" cy="44.8" r="2.2" fill="url(#gO)" stroke="none" stroke-width="1" />
<circle cx="440.2" cy="46.6" r="2.2" fill="url(#gO)" stroke="none" stroke-width="1" />
<circle cx="429.8" cy="44" r="4.6" fill="url(#gCe)" stroke="none" stroke-width="1" />
<circle cx="426.2" cy="46.8" r="2.2" fill="url(#gO)" stroke="none" stroke-width="1" />
<circle cx="431" cy="48.6" r="2.2" fill="url(#gO)" stroke="none" stroke-width="1" />
<circle cx="420.6" cy="46" r="4.6" fill="url(#gCe)" stroke="none" stroke-width="1" />
<circle cx="417" cy="48.8" r="2.2" fill="url(#gO)" stroke="none" stroke-width="1" />
<circle cx="421.8" cy="50.6" r="2.2" fill="url(#gO)" stroke="none" stroke-width="1" />
<circle cx="411.4" cy="48" r="4.6" fill="url(#gCe)" stroke="none" stroke-width="1" />
<circle cx="407.8" cy="50.8" r="2.2" fill="url(#gO)" stroke="none" stroke-width="1" />
<circle cx="412.6" cy="52.6" r="2.2" fill="url(#gO)" stroke="none" stroke-width="1" />
<circle cx="402.2" cy="50" r="4.6" fill="url(#gCe)" stroke="none" stroke-width="1" />
<circle cx="398.6" cy="52.8" r="2.2" fill="url(#gO)" stroke="none" stroke-width="1" />
<circle cx="403.4" cy="54.6" r="2.2" fill="url(#gO)" stroke="none" stroke-width="1" />
<circle cx="443.4" cy="50.5" r="4.6" fill="url(#gCe)" stroke="none" stroke-width="1" />
<circle cx="439.8" cy="53.3" r="2.2" fill="url(#gO)" stroke="none" stroke-width="1" />
<circle cx="444.6" cy="55.1" r="2.2" fill="url(#gO)" stroke="none" stroke-width="1" />
<circle cx="434.2" cy="52.5" r="4.6" fill="url(#gCe)" stroke="none" stroke-width="1" />
<circle cx="430.6" cy="55.3" r="2.2" fill="url(#gO)" stroke="none" stroke-width="1" />
<circle cx="435.4" cy="57.1" r="2.2" fill="url(#gO)" stroke="none" stroke-width="1" />
<circle cx="425" cy="54.5" r="4.6" fill="url(#gCe)" stroke="none" stroke-width="1" />
<circle cx="421.4" cy="57.3" r="2.2" fill="url(#gO)" stroke="none" stroke-width="1" />
<circle cx="426.2" cy="59.1" r="2.2" fill="url(#gO)" stroke="none" stroke-width="1" />
<circle cx="415.8" cy="56.5" r="4.6" fill="url(#gCe)" stroke="none" stroke-width="1" />
<circle cx="412.2" cy="59.3" r="2.2" fill="url(#gO)" stroke="none" stroke-width="1" />
<circle cx="417" cy="61.1" r="2.2" fill="url(#gO)" stroke="none" stroke-width="1" />
<circle cx="406.6" cy="58.5" r="4.6" fill="url(#gCe)" stroke="none" stroke-width="1" />
<circle cx="403" cy="61.3" r="2.2" fill="url(#gO)" stroke="none" stroke-width="1" />
<circle cx="407.8" cy="63.1" r="2.2" fill="url(#gO)" stroke="none" stroke-width="1" />
<circle cx="424" cy="24" r="1.7" fill="#6b4a30" stroke="none" stroke-width="1" />
<circle cx="428" cy="27" r="1.7" fill="#c0392b" stroke="none" stroke-width="1" />
<circle cx="430" cy="31" r="1.7" fill="#6b4a30" stroke="none" stroke-width="1" />
<circle cx="426" cy="20" r="1.2" fill="#f4d0d0" stroke="none" stroke-width="1" />
<circle cx="432" cy="22" r="1.2" fill="#f4d0d0" stroke="none" stroke-width="1" />
<circle cx="413.4" cy="37.2" r="5.5" fill="url(#gBi)" stroke="none" stroke-width="1" />
<line x1="381.2" y1="62.8" x2="381.2" y2="51.8" stroke="#1030d0" stroke-width="1.2" />
<path d="M381.2,49.8 L382.77,53.3 L379.62,53.3 Z" fill="#1030d0"/>
<line x1="381.2" y1="62.8" x2="391.2" y2="64.8" stroke="#d02020" stroke-width="1" />
<path d="M393.2,65.2 L389.46,66.08 L390.06,62.99 Z" fill="#d02020"/>
<line x1="381.2" y1="62.8" x2="385.2" y2="58.8" stroke="#20a020" stroke-width="1.6" />
<circle cx="381.2" cy="62.8" r="1.2" fill="#fff" stroke="#888" stroke-width="0.5" />
<text x="466" y="13.6" font-size="19.5" text-anchor="start" fill="#111" font-weight="normal" >c</text>
<g clip-path="url(#clipC)">
<line x1="488.6" y1="114.5" x2="484.3" y2="127.25" stroke="#e01010" stroke-width="3" stroke-linecap="butt"/>
<line x1="484.3" y1="127.25" x2="480" y2="140" stroke="#b8d820" stroke-width="3" stroke-linecap="butt"/>
<line x1="488.6" y1="114.5" x2="494.3" y2="127.25" stroke="#e01010" stroke-width="3" stroke-linecap="butt"/>
<line x1="494.3" y1="127.25" x2="500" y2="140" stroke="#b8d820" stroke-width="3" stroke-linecap="butt"/>
<line x1="473" y1="115" x2="469.5" y2="127.5" stroke="#b8d820" stroke-width="3" stroke-linecap="butt"/>
<line x1="469.5" y1="127.5" x2="466" y2="140" stroke="#b8d820" stroke-width="3" stroke-linecap="butt"/>
<line x1="512.8" y1="115.5" x2="508.9" y2="127.75" stroke="#b8d820" stroke-width="3" stroke-linecap="butt"/>
<line x1="508.9" y1="127.75" x2="505" y2="140" stroke="#b8d820" stroke-width="3" stroke-linecap="butt"/>
<line x1="512.8" y1="115.5" x2="517.4" y2="127.75" stroke="#b8d820" stroke-width="3" stroke-linecap="butt"/>
<line x1="517.4" y1="127.75" x2="522" y2="140" stroke="#b8d820" stroke-width="3" stroke-linecap="butt"/>
<line x1="569.2" y1="106.4" x2="565.6" y2="123.2" stroke="#e01010" stroke-width="3" stroke-linecap="butt"/>
<line x1="565.6" y1="123.2" x2="562" y2="140" stroke="#e01010" stroke-width="3" stroke-linecap="butt"/>
<line x1="574" y1="112" x2="579.5" y2="126" stroke="#b8d820" stroke-width="3" stroke-linecap="butt"/>
<line x1="579.5" y1="126" x2="585" y2="140" stroke="#b8d820" stroke-width="3" stroke-linecap="butt"/>
<line x1="595.4" y1="108.8" x2="591.7" y2="124.4" stroke="#e01010" stroke-width="3" stroke-linecap="butt"/>
<line x1="591.7" y1="124.4" x2="588" y2="140" stroke="#b8d820" stroke-width="3" stroke-linecap="butt"/>
<line x1="614.5" y1="107.1" x2="617.25" y2="123.55" stroke="#e01010" stroke-width="3" stroke-linecap="butt"/>
<line x1="617.25" y1="123.55" x2="620" y2="140" stroke="#b8d820" stroke-width="3" stroke-linecap="butt"/>
<line x1="626.3" y1="110.4" x2="629.65" y2="125.2" stroke="#e01010" stroke-width="3" stroke-linecap="butt"/>
<line x1="629.65" y1="125.2" x2="633" y2="140" stroke="#b8d820" stroke-width="3" stroke-linecap="butt"/>
<line x1="654.8" y1="108.8" x2="652.4" y2="124.4" stroke="#e01010" stroke-width="3" stroke-linecap="butt"/>
<line x1="652.4" y1="124.4" x2="650" y2="140" stroke="#b8d820" stroke-width="3" stroke-linecap="butt"/>
<line x1="652" y1="112" x2="658" y2="126" stroke="#b8d820" stroke-width="3" stroke-linecap="butt"/>
<line x1="658" y1="126" x2="664" y2="140" stroke="#b8d820" stroke-width="3" stroke-linecap="butt"/>
<line x1="676.6" y1="106.4" x2="674.3" y2="123.2" stroke="#e01010" stroke-width="3" stroke-linecap="butt"/>
<line x1="674.3" y1="123.2" x2="672" y2="140" stroke="#b8d820" stroke-width="3" stroke-linecap="butt"/>
<line x1="603" y1="112" x2="606.5" y2="126" stroke="#b8d820" stroke-width="3" stroke-linecap="butt"/>
<line x1="606.5" y1="126" x2="610" y2="140" stroke="#b8d820" stroke-width="3" stroke-linecap="butt"/>
<line x1="545" y1="112" x2="546.5" y2="126" stroke="#e01010" stroke-width="3" stroke-linecap="butt"/>
<line x1="546.5" y1="126" x2="548" y2="140" stroke="#b8d820" stroke-width="3" stroke-linecap="butt"/>
<circle cx="594.4" cy="110.4" r="16" fill="url(#gCe)" stroke="none" stroke-width="1" />
<circle cx="473.5" cy="115.5" r="16" fill="url(#gCe)" stroke="none" stroke-width="1" />
<line x1="491" y1="84" x2="486.5" y2="96" stroke="#b030c0" stroke-width="3" stroke-linecap="butt"/>
<line x1="486.5" y1="96" x2="482" y2="108" stroke="#e01010" stroke-width="3" stroke-linecap="butt"/>
<line x1="505" y1="84" x2="510.5" y2="92" stroke="#b030c0" stroke-width="3" stroke-linecap="butt"/>
<line x1="510.5" y1="92" x2="516" y2="100" stroke="#e01010" stroke-width="3" stroke-linecap="butt"/>
<circle cx="512.8" cy="115.5" r="16" fill="url(#gCe)" stroke="none" stroke-width="1" />
<circle cx="652.4" cy="112.1" r="17" fill="url(#gCe)" stroke="none" stroke-width="1" />
<line x1="488.6" y1="114.5" x2="502.85" y2="108.6" stroke="#e01010" stroke-width="3.2" stroke-linecap="butt"/>
<line x1="502.85" y1="108.6" x2="517.1" y2="102.7" stroke="#b8d820" stroke-width="3.2" stroke-linecap="butt"/>
<line x1="517.1" y1="102.7" x2="545.55" y2="105.35" stroke="#e01010" stroke-width="3.2" stroke-linecap="butt"/>
<line x1="545.55" y1="105.35" x2="574" y2="108" stroke="#b8d820" stroke-width="3.2" stroke-linecap="butt"/>
<line x1="535.6" y1="111.1" x2="554.8" y2="111.55" stroke="#e01010" stroke-width="3" stroke-linecap="butt"/>
<line x1="554.8" y1="111.55" x2="574" y2="112" stroke="#b8d820" stroke-width="3" stroke-linecap="butt"/>
<line x1="595.4" y1="108.8" x2="610.85" y2="109.6" stroke="#e01010" stroke-width="3.2" stroke-linecap="butt"/>
<line x1="610.85" y1="109.6" x2="626.3" y2="110.4" stroke="#e01010" stroke-width="3.2" stroke-linecap="butt"/>
<line x1="614.5" y1="107.1" x2="634.65" y2="107.95" stroke="#e01010" stroke-width="3" stroke-linecap="butt"/>
<line x1="634.65" y1="107.95" x2="654.8" y2="108.8" stroke="#b8d820" stroke-width="3" stroke-linecap="butt"/>
<line x1="654.8" y1="108.8" x2="669.9" y2="107.4" stroke="#e01010" stroke-width="3" stroke-linecap="butt"/>
<line x1="669.9" y1="107.4" x2="685" y2="106" stroke="#b8d820" stroke-width="3" stroke-linecap="butt"/>
<line x1="460" y1="112" x2="474.3" y2="113.25" stroke="#b8d820" stroke-width="3" stroke-linecap="butt"/>
<line x1="474.3" y1="113.25" x2="488.6" y2="114.5" stroke="#e01010" stroke-width="3" stroke-linecap="butt"/>
<circle cx="574.2" cy="112.1" r="18" fill="url(#gCe)" stroke="none" stroke-width="1" />
<line x1="574.6" y1="53.4" x2="574.5" y2="82" stroke="#e01010" stroke-width="3.4" />
<line x1="574.5" y1="82" x2="574.4" y2="98" stroke="#b8d820" stroke-width="3.4" />
<line x1="569.2" y1="106.4" x2="564.1" y2="86" stroke="#e01010" stroke-width="3" />
<circle cx="564.1" cy="84.3" r="3.8" fill="url(#gH)" stroke="none" stroke-width="1" />
<circle cx="460" cy="112" r="5" fill="url(#gO)" stroke="none" stroke-width="1" />
<circle cx="488.6" cy="114.5" r="6" fill="url(#gO)" stroke="none" stroke-width="1" />
<circle cx="517.1" cy="102.7" r="6" fill="url(#gO)" stroke="none" stroke-width="1" />
<circle cx="535.6" cy="111.1" r="5" fill="url(#gO)" stroke="none" stroke-width="1" />
<circle cx="569.2" cy="106.4" r="6.2" fill="url(#gO)" stroke="none" stroke-width="1" />
<circle cx="595.4" cy="108.8" r="5.5" fill="url(#gO)" stroke="none" stroke-width="1" />
<circle cx="614.5" cy="107.1" r="5.5" fill="url(#gO)" stroke="none" stroke-width="1" />
<circle cx="626.3" cy="110.4" r="6" fill="url(#gO)" stroke="none" stroke-width="1" />
<circle cx="654.8" cy="108.8" r="6" fill="url(#gO)" stroke="none" stroke-width="1" />
<circle cx="677" cy="106.4" r="5.5" fill="url(#gO)" stroke="none" stroke-width="1" />
<text x="488.6" y="117.09" font-size="7.2" text-anchor="middle" fill="#111" font-weight="bold" stroke="#fff" stroke-width="0.0">O21</text>
<text x="517.1" y="105.29" font-size="7.2" text-anchor="middle" fill="#111" font-weight="bold" stroke="#fff" stroke-width="0.0">O23</text>
<text x="569.2" y="108.99" font-size="7.2" text-anchor="middle" fill="#111" font-weight="bold" stroke="#fff" stroke-width="0.0">O17</text>
<text x="626.3" y="112.99" font-size="7.2" text-anchor="middle" fill="#111" font-weight="bold" stroke="#fff" stroke-width="0.0">O43</text>
<text x="654.8" y="111.39" font-size="7.2" text-anchor="middle" fill="#111" font-weight="bold" stroke="#fff" stroke-width="0.0">O45</text>
<text x="536" y="112.61" font-size="4.2" text-anchor="middle" fill="#111" font-weight="bold" stroke="#fff" stroke-width="0.0">O28</text>
<text x="596" y="110.38" font-size="4.4" text-anchor="middle" fill="#111" font-weight="bold" stroke="#fff" stroke-width="0.0">O22</text>
<text x="678" y="107.8" font-size="5" text-anchor="middle" fill="#111" font-weight="bold" stroke="#fff" stroke-width="0.0">O29</text>
<circle cx="498" cy="70.8" r="17.5" fill="url(#gBi)" stroke="none" stroke-width="1" />
<line x1="531.3" y1="36.3" x2="518.7" y2="25.8" stroke="#8b6040" stroke-width="2.6" />
<line x1="531.3" y1="36.3" x2="524.7" y2="64.7" stroke="#8b6040" stroke-width="2.6" />
<line x1="531.3" y1="36.3" x2="548.1" y2="34.3" stroke="#6b4a30" stroke-width="3" stroke-linecap="butt"/>
<line x1="548.1" y1="34.3" x2="564.9" y2="32.3" stroke="#e01010" stroke-width="3" stroke-linecap="butt"/>
<line x1="564.9" y1="32.3" x2="574.35" y2="36.65" stroke="#e01010" stroke-width="3" stroke-linecap="butt"/>
<line x1="574.35" y1="36.65" x2="583.8" y2="41" stroke="#6b4a30" stroke-width="3" stroke-linecap="butt"/>
<line x1="583.8" y1="41" x2="599.3" y2="37.05" stroke="#6b4a30" stroke-width="3" stroke-linecap="butt"/>
<line x1="599.3" y1="37.05" x2="614.8" y2="33.1" stroke="#e01010" stroke-width="3" stroke-linecap="butt"/>
<line x1="614.8" y1="33.1" x2="627.15" y2="37.05" stroke="#e01010" stroke-width="3" stroke-linecap="butt"/>
<line x1="627.15" y1="37.05" x2="639.5" y2="41" stroke="#6b4a30" stroke-width="3" stroke-linecap="butt"/>
<line x1="583.8" y1="41" x2="579.2" y2="47.2" stroke="#6b4a30" stroke-width="3" stroke-linecap="butt"/>
<line x1="579.2" y1="47.2" x2="574.6" y2="53.4" stroke="#e01010" stroke-width="3" stroke-linecap="butt"/>
<line x1="639.5" y1="41" x2="632.4" y2="27.9" stroke="#8b6040" stroke-width="2.6" />
<line x1="639.5" y1="41" x2="662.1" y2="29.7" stroke="#8b6040" stroke-width="2.6" />
<line x1="639.5" y1="41" x2="641.1" y2="66" stroke="#8b6040" stroke-width="2.6" />
<line x1="522" y1="27" x2="559" y2="31" stroke="#8a8a8a" stroke-width="1.1" stroke-dasharray="3.5,2.5"/>
<line x1="528" y1="61" x2="560" y2="37" stroke="#8a8a8a" stroke-width="1.1" stroke-dasharray="3.5,2.5"/>
<line x1="636" y1="29" x2="659" y2="27" stroke="#8a8a8a" stroke-width="1.1" stroke-dasharray="3.5,2.5"/>
<circle cx="518.7" cy="25.8" r="3.9" fill="url(#gH)" stroke="none" stroke-width="1" />
<circle cx="524.7" cy="64.7" r="3.9" fill="url(#gH)" stroke="none" stroke-width="1" />
<circle cx="632.4" cy="27.9" r="3.9" fill="url(#gH)" stroke="none" stroke-width="1" />
<circle cx="662.1" cy="29.7" r="3.9" fill="url(#gH)" stroke="none" stroke-width="1" />
<circle cx="641.1" cy="66" r="3.9" fill="url(#gH)" stroke="none" stroke-width="1" />
<circle cx="531.3" cy="36.3" r="5.9" fill="url(#gC)" stroke="none" stroke-width="1" />
<circle cx="583.8" cy="41" r="5.9" fill="url(#gC)" stroke="none" stroke-width="1" />
<circle cx="639.5" cy="41" r="5.9" fill="url(#gC)" stroke="none" stroke-width="1" />
<circle cx="564.9" cy="32.3" r="6.4" fill="url(#gO)" stroke="none" stroke-width="1" />
<circle cx="614.8" cy="33.1" r="6.4" fill="url(#gO)" stroke="none" stroke-width="1" />
<circle cx="574.6" cy="53.4" r="6.4" fill="url(#gO)" stroke="none" stroke-width="1" />
<text x="531.3" y="38.89" font-size="7.2" text-anchor="middle" fill="#111" font-weight="bold" stroke="#fff" stroke-width="0.0">C2</text>
<text x="564.9" y="34.89" font-size="7.2" text-anchor="middle" fill="#111" font-weight="bold" stroke="#fff" stroke-width="0.0">O49</text>
<text x="583.8" y="43.59" font-size="7.2" text-anchor="middle" fill="#111" font-weight="bold" stroke="#fff" stroke-width="0.0">C1</text>
<text x="614.8" y="35.69" font-size="7.2" text-anchor="middle" fill="#111" font-weight="bold" stroke="#fff" stroke-width="0.0">O48</text>
<text x="639.5" y="43.59" font-size="7.2" text-anchor="middle" fill="#111" font-weight="bold" stroke="#fff" stroke-width="0.0">C3</text>
<text x="574.6" y="55.99" font-size="7.2" text-anchor="middle" fill="#111" font-weight="bold" stroke="#fff" stroke-width="0.0">O50</text>
</g>
<text x="-0.5" y="172.8" font-size="19.5" text-anchor="start" fill="#111" font-weight="normal" >d</text>
<path d="M15.8,192.6 C18.17,192.75 25.13,193.18 30,193.5 C34.87,193.82 40.83,194.25 45,194.5 C49.17,194.75 52.5,194.83 55,195 C57.5,195.17 58.83,195.17 60,195.5 C61.17,195.83 61.33,196.92 62,197 C62.67,197.08 63.33,195.75 64,196 C64.67,196.25 65,198.17 66,198.5 C67,198.83 68.17,198.42 70,198 C71.83,197.58 75,195.83 77,196 C79,196.17 80,197.6 82,199 C84,200.4 86.67,204.07 89,204.4 C91.33,204.73 93.33,203.4 96,201 C98.67,198.6 102,193.07 105,190 C108,186.93 111.17,183.1 114,182.6 C116.83,182.1 119.33,184.77 122,187 C124.67,189.23 127.67,193.83 130,196 C132.33,198.17 134.67,198.95 136,200 C137.33,201.05 137.33,202.97 138,202.3 C138.67,201.63 139.17,198.55 140,196 C140.83,193.45 142,188.17 143,187 C144,185.83 145,188.67 146,189 C147,189.33 147.93,189.5 149,189 C150.07,188.5 151.4,185.5 152.4,186 C153.4,186.5 153.73,190 155,192 C156.27,194 158.25,196.67 160,198 C161.75,199.33 164,200 165.5,200 C167,200 167.92,198.72 169,198 C170.08,197.28 171.5,196.08 172,195.7" stroke="#2f7fe0" stroke-width="1.2" fill="none" />
<path d="M15.8,226 C18.17,226 25.13,225.92 30,226 C34.87,226.08 40.83,226.25 45,226.5 C49.17,226.75 52.17,226.92 55,227.5 C57.83,228.08 59.87,229.08 62,230 C64.13,230.92 65.97,232.83 67.8,233 C69.63,233.17 71.3,231.5 73,231 C74.7,230.5 76.17,230.33 78,230 C79.83,229.67 81.67,230.33 84,229 C86.33,227.67 89.33,224.5 92,222 C94.67,219.5 97.33,216.33 100,214 C102.67,211.67 105.83,209.08 108,208 C110.17,206.92 111,206.83 113,207.5 C115,208.17 117.5,209.58 120,212 C122.5,214.42 125.67,219.67 128,222 C130.33,224.33 132.33,225.67 134,226 C135.67,226.33 136.68,224.53 138,224 C139.32,223.47 140.73,222.63 141.9,222.8 C143.07,222.97 143.98,225.13 145,225 C146.02,224.87 146.77,223.17 148,222 C149.23,220.83 151.07,217.33 152.4,218 C153.73,218.67 154.73,223.67 156,226 C157.27,228.33 158.42,230.5 160,232 C161.58,233.5 164,234.67 165.5,235 C167,235.33 167.92,234.5 169,234 C170.08,233.5 171.5,232.33 172,232" stroke="#e83a3a" stroke-width="1.2" fill="none" />
<path d="M15.8,262.7 C17.33,262.17 21.8,260.37 25,259.5 C28.2,258.63 31.67,258.17 35,257.5 C38.33,256.83 41.42,256.17 45,255.5 C48.58,254.83 54,253.42 56.5,253.5 C59,253.58 58.92,255.25 60,256 C61.08,256.75 61.83,256.83 63,258 C64.17,259.17 65.45,261.42 67,263 C68.55,264.58 70.47,267.17 72.3,267.5 C74.13,267.83 75.38,266.58 78,265 C80.62,263.42 84.67,260.33 88,258 C91.33,255.67 95,253.33 98,251 C101,248.67 103.5,246 106,244 C108.5,242 111,239.33 113,239 C115,238.67 116.17,240 118,242 C119.83,244 121.83,248.2 124,251 C126.17,253.8 129.17,257.8 131,258.8 C132.83,259.8 133.83,258.3 135,257 C136.17,255.7 137.17,251.17 138,251 C138.83,250.83 139.13,253.83 140,256 C140.87,258.17 142.03,263.83 143.2,264 C144.37,264.17 145.7,259.53 147,257 C148.3,254.47 149.83,249.3 151,248.8 C152.17,248.3 152.83,252.13 154,254 C155.17,255.87 156.08,258.2 158,260 C159.92,261.8 163.67,264.13 165.5,264.8 C167.33,265.47 167.92,264.47 169,264 C170.08,263.53 171.5,262.33 172,262" stroke="#404040" stroke-width="1.2" fill="none" />
<rect x="15.8" y="172.9" width="156.2" height="114.9" fill="none" stroke="#333" stroke-width="0.8" />
<line x1="15.8" y1="287.8" x2="15.8" y2="285.8" stroke="#333" stroke-width="0.6" />
<text x="15.8" y="295.66" font-size="4.9" text-anchor="middle" fill="#333" font-weight="normal" >1200</text>
<line x1="25.6" y1="287.8" x2="25.6" y2="286.6" stroke="#333" stroke-width="0.5" />
<line x1="35.4" y1="287.8" x2="35.4" y2="285.8" stroke="#333" stroke-width="0.6" />
<text x="35.4" y="295.66" font-size="4.9" text-anchor="middle" fill="#333" font-weight="normal" >1150</text>
<line x1="45.2" y1="287.8" x2="45.2" y2="286.6" stroke="#333" stroke-width="0.5" />
<line x1="55" y1="287.8" x2="55" y2="285.8" stroke="#333" stroke-width="0.6" />
<text x="55" y="295.66" font-size="4.9" text-anchor="middle" fill="#333" font-weight="normal" >1100</text>
<line x1="64.8" y1="287.8" x2="64.8" y2="286.6" stroke="#333" stroke-width="0.5" />
<line x1="74.6" y1="287.8" x2="74.6" y2="285.8" stroke="#333" stroke-width="0.6" />
<text x="74.6" y="295.66" font-size="4.9" text-anchor="middle" fill="#333" font-weight="normal" >1050</text>
<line x1="84.4" y1="287.8" x2="84.4" y2="286.6" stroke="#333" stroke-width="0.5" />
<line x1="94.2" y1="287.8" x2="94.2" y2="285.8" stroke="#333" stroke-width="0.6" />
<text x="94.2" y="295.66" font-size="4.9" text-anchor="middle" fill="#333" font-weight="normal" >1000</text>
<line x1="104" y1="287.8" x2="104" y2="286.6" stroke="#333" stroke-width="0.5" />
<line x1="113.8" y1="287.8" x2="113.8" y2="285.8" stroke="#333" stroke-width="0.6" />
<text x="113.8" y="295.66" font-size="4.9" text-anchor="middle" fill="#333" font-weight="normal" >950</text>
<line x1="123.6" y1="287.8" x2="123.6" y2="286.6" stroke="#333" stroke-width="0.5" />
<line x1="133.4" y1="287.8" x2="133.4" y2="285.8" stroke="#333" stroke-width="0.6" />
<text x="133.4" y="295.66" font-size="4.9" text-anchor="middle" fill="#333" font-weight="normal" >900</text>
<line x1="143.2" y1="287.8" x2="143.2" y2="286.6" stroke="#333" stroke-width="0.5" />
<line x1="153" y1="287.8" x2="153" y2="285.8" stroke="#333" stroke-width="0.6" />
<text x="153" y="295.66" font-size="4.9" text-anchor="middle" fill="#333" font-weight="normal" >850</text>
<line x1="162.8" y1="287.8" x2="162.8" y2="286.6" stroke="#333" stroke-width="0.5" />
<line x1="172.6" y1="287.8" x2="172.6" y2="285.8" stroke="#333" stroke-width="0.6" />
<text x="172.6" y="295.66" font-size="4.9" text-anchor="middle" fill="#333" font-weight="normal" >800</text>
<text x="90.6" y="304.6" font-size="6.4" text-anchor="middle" fill="#222" font-weight="normal" >Wavenumber (cm<tspan font-size="4" dy="-2.5">-1</tspan><tspan dy="2.5">)</tspan></text>
<text transform="translate(10.5,226) rotate(-90)" x="0" y="2.3" font-size="6.4" text-anchor="middle" fill="#222" font-weight="normal">Intensity (arb.units)</text>
<line x1="15.8" y1="184.4" x2="25" y2="184.4" stroke="#2f7fe0" stroke-width="1" />
<text x="27.6" y="186.78" font-size="6.6" text-anchor="start" fill="#222" font-weight="normal" >453 K</text>
<line x1="15.8" y1="217.3" x2="25" y2="217.3" stroke="#e83a3a" stroke-width="1" />
<text x="27.6" y="219.68" font-size="6.6" text-anchor="start" fill="#222" font-weight="normal" >393 K</text>
<line x1="15.8" y1="253.5" x2="25" y2="253.5" stroke="#404040" stroke-width="1" />
<text x="27.6" y="255.88" font-size="6.6" text-anchor="start" fill="#222" font-weight="normal" >298 K</text>
<text x="54" y="184.83" font-size="6.2" text-anchor="middle" fill="#222" font-weight="normal" >1087</text>
<text x="68.8" y="179.53" font-size="6.2" text-anchor="middle" fill="#222" font-weight="normal" >1074</text>
<text x="83.8" y="184.23" font-size="6.2" text-anchor="middle" fill="#222" font-weight="normal" >1044</text>
<text x="66.8" y="216.23" font-size="6.2" text-anchor="middle" fill="#222" font-weight="normal" >1075</text>
<text x="84.4" y="215.53" font-size="6.2" text-anchor="middle" fill="#222" font-weight="normal" >1045</text>
<text x="51.8" y="239.43" font-size="6.2" text-anchor="middle" fill="#222" font-weight="normal" >1095</text>
<text x="68.2" y="242.63" font-size="6.2" text-anchor="middle" fill="#222" font-weight="normal" >1081</text>
<line x1="57" y1="186" x2="59.2" y2="192.24" stroke="#e82020" stroke-width="0.6" />
<path d="M60,194.5 L57.73,192.12 L60.27,191.22 Z" fill="#e82020"/>
<line x1="67" y1="181" x2="64.49" y2="193.15" stroke="#e82020" stroke-width="0.6" />
<path d="M64,195.5 L63.29,192.29 L65.93,192.84 Z" fill="#e82020"/>
<line x1="86" y1="186" x2="80.38" y2="194.03" stroke="#e82020" stroke-width="0.6" />
<path d="M79,196 L79.61,192.77 L81.83,194.32 Z" fill="#e82020"/>
<line x1="68" y1="218" x2="65.58" y2="227.67" stroke="#e82020" stroke-width="0.6" />
<path d="M65,230 L64.42,226.76 L67.04,227.42 Z" fill="#e82020"/>
<line x1="84" y1="217" x2="79.07" y2="226.85" stroke="#e82020" stroke-width="0.6" />
<path d="M78,229 L78.13,225.71 L80.55,226.92 Z" fill="#e82020"/>
<line x1="54" y1="241" x2="56.39" y2="250.18" stroke="#e82020" stroke-width="0.6" />
<path d="M57,252.5 L54.94,249.94 L57.55,249.26 Z" fill="#e82020"/>
<line x1="67" y1="244" x2="62.92" y2="253.78" stroke="#e82020" stroke-width="0.6" />
<path d="M62,256 L61.91,252.71 L64.4,253.75 Z" fill="#e82020"/>
<text x="172.2" y="173.4" font-size="19.5" text-anchor="start" fill="#111" font-weight="normal" >e</text>
<path d="M183.7,198.4 C186.42,198.5 194.78,198.73 200,199 C205.22,199.27 210.83,199.92 215,200 C219.17,200.08 222,199.83 225,199.5 C228,199.17 230.5,199.42 233,198 C235.5,196.58 237.8,193.05 240,191 C242.2,188.95 244.37,185.53 246.2,185.7 C248.03,185.87 249.53,189.45 251,192 C252.47,194.55 253.7,198.83 255,201 C256.3,203.17 257.13,204.83 258.8,205 C260.47,205.17 262.3,203.5 265,202 C267.7,200.5 271.57,197.35 275,196 C278.43,194.65 282.27,193.73 285.6,193.9 C288.93,194.07 292.1,195.48 295,197 C297.9,198.52 301.07,201.67 303,203 C304.93,204.33 305.6,205.5 306.6,205 C307.6,204.5 308.27,200.5 309,200 C309.73,199.5 310.33,201 311,202 C311.67,203 312,206.67 313,206 C314,205.33 315.83,201.17 317,198 C318.17,194.83 319.18,189.13 320,187 C320.82,184.87 321.23,184.7 321.9,185.2 C322.57,185.7 323.05,187.15 324,190 C324.95,192.85 326.1,200.13 327.6,202.3 C329.1,204.47 331.43,203.05 333,203 C334.57,202.95 335.62,201.9 337,202 C338.38,202.1 340.58,203.33 341.3,203.6" stroke="#2f7fe0" stroke-width="1.2" fill="none" />
<path d="M183.7,229.9 C186.42,229.58 194.78,228.48 200,228 C205.22,227.52 210.83,227.33 215,227 C219.17,226.67 222.17,226.42 225,226 C227.83,225.58 229.57,225.03 232,224.5 C234.43,223.97 237.02,223.3 239.6,222.8 C242.18,222.3 245.27,220.8 247.5,221.5 C249.73,222.2 251.03,224.95 253,227 C254.97,229.05 257.13,233.3 259.3,233.8 C261.47,234.3 263.38,231.97 266,230 C268.62,228.03 272.17,224 275,222 C277.83,220 280.17,218.17 283,218 C285.83,217.83 289.17,219.67 292,221 C294.83,222.33 297.57,224.3 300,226 C302.43,227.7 304.93,229.87 306.6,231.2 C308.27,232.53 308.9,232.6 310,234 C311.1,235.4 312.03,241.1 313.2,239.6 C314.37,238.1 315.87,229.6 317,225 C318.13,220.4 319.18,214.47 320,212 C320.82,209.53 321.23,209.87 321.9,210.2 C322.57,210.53 323.15,211.37 324,214 C324.85,216.63 326,222.92 327,226 C328,229.08 328.67,231.5 330,232.5 C331.33,233.5 333.12,232.08 335,232 C336.88,231.92 340.25,232 341.3,232" stroke="#e83a3a" stroke-width="1.2" fill="none" />
<path d="M183.7,262.7 C185.58,262.25 190.62,261.12 195,260 C199.38,258.88 204.97,257.38 210,256 C215.03,254.62 222.03,252.03 225.2,251.7 C228.37,251.37 227.7,253.17 229,254 C230.3,254.83 231.67,256.87 233,256.7 C234.33,256.53 235.67,252.78 237,253 C238.33,253.22 239.68,255.82 241,258 C242.32,260.18 243.15,264.97 244.9,266.1 C246.65,267.23 249.32,265.65 251.5,264.8 C253.68,263.95 255.58,262.8 258,261 C260.42,259.2 263.33,256 266,254 C268.67,252 271.38,250.08 274,249 C276.62,247.92 279.03,247.5 281.7,247.5 C284.37,247.5 287.45,248.08 290,249 C292.55,249.92 295.1,251.83 297,253 C298.9,254.17 299.8,254.38 301.4,256 C303,257.62 305.33,260.37 306.6,262.7 C307.87,265.03 308.12,267.45 309,270 C309.88,272.55 310.9,278.33 311.9,278 C312.9,277.67 313.82,273 315,268 C316.18,263 317.85,252.03 319,248 C320.15,243.97 321.07,243.97 321.9,243.8 C322.73,243.63 323.05,244.97 324,247 C324.95,249.03 326.1,254.33 327.6,256 C329.1,257.67 331.43,256.67 333,257 C334.57,257.33 335.62,257.57 337,258 C338.38,258.43 340.58,259.33 341.3,259.6" stroke="#404040" stroke-width="1.2" fill="none" />
<rect x="183.7" y="173.9" width="157.6" height="115.1" fill="none" stroke="#333" stroke-width="0.8" />
<line x1="183.7" y1="289" x2="183.7" y2="287" stroke="#333" stroke-width="0.6" />
<text x="183.7" y="296.8" font-size="5" text-anchor="middle" fill="#333" font-weight="normal" >1200</text>
<line x1="193.55" y1="289" x2="193.55" y2="287.8" stroke="#333" stroke-width="0.5" />
<line x1="203.4" y1="289" x2="203.4" y2="287" stroke="#333" stroke-width="0.6" />
<text x="203.4" y="296.8" font-size="5" text-anchor="middle" fill="#333" font-weight="normal" >1150</text>
<line x1="213.25" y1="289" x2="213.25" y2="287.8" stroke="#333" stroke-width="0.5" />
<line x1="223.1" y1="289" x2="223.1" y2="287" stroke="#333" stroke-width="0.6" />
<text x="223.1" y="296.8" font-size="5" text-anchor="middle" fill="#333" font-weight="normal" >1100</text>
<line x1="232.95" y1="289" x2="232.95" y2="287.8" stroke="#333" stroke-width="0.5" />
<line x1="242.8" y1="289" x2="242.8" y2="287" stroke="#333" stroke-width="0.6" />
<text x="242.8" y="296.8" font-size="5" text-anchor="middle" fill="#333" font-weight="normal" >1050</text>
<line x1="252.65" y1="289" x2="252.65" y2="287.8" stroke="#333" stroke-width="0.5" />
<line x1="262.5" y1="289" x2="262.5" y2="287" stroke="#333" stroke-width="0.6" />
<text x="262.5" y="296.8" font-size="5" text-anchor="middle" fill="#333" font-weight="normal" >1000</text>
<line x1="272.35" y1="289" x2="272.35" y2="287.8" stroke="#333" stroke-width="0.5" />
<line x1="282.2" y1="289" x2="282.2" y2="287" stroke="#333" stroke-width="0.6" />
<text x="282.2" y="296.8" font-size="5" text-anchor="middle" fill="#333" font-weight="normal" >950</text>
<line x1="292.05" y1="289" x2="292.05" y2="287.8" stroke="#333" stroke-width="0.5" />
<line x1="301.9" y1="289" x2="301.9" y2="287" stroke="#333" stroke-width="0.6" />
<text x="301.9" y="296.8" font-size="5" text-anchor="middle" fill="#333" font-weight="normal" >900</text>
<line x1="311.75" y1="289" x2="311.75" y2="287.8" stroke="#333" stroke-width="0.5" />
<line x1="321.6" y1="289" x2="321.6" y2="287" stroke="#333" stroke-width="0.6" />
<text x="321.6" y="296.8" font-size="5" text-anchor="middle" fill="#333" font-weight="normal" >850</text>
<line x1="331.45" y1="289" x2="331.45" y2="287.8" stroke="#333" stroke-width="0.5" />
<line x1="341.3" y1="289" x2="341.3" y2="287" stroke="#333" stroke-width="0.6" />
<text x="341.3" y="296.8" font-size="5" text-anchor="middle" fill="#333" font-weight="normal" >800</text>
<text x="260.6" y="303.9" font-size="6.4" text-anchor="middle" fill="#222" font-weight="normal" >Wavenumber (cm<tspan font-size="4" dy="-2.5">-1</tspan><tspan dy="2.5">)</tspan></text>
<text transform="translate(178,226) rotate(-90)" x="0" y="2.3" font-size="6.4" text-anchor="middle" fill="#222" font-weight="normal">Absorbance (arb.units)</text>
<line x1="183.7" y1="191" x2="199" y2="191" stroke="#2f7fe0" stroke-width="1" />
<text x="201" y="193.38" font-size="6.6" text-anchor="start" fill="#222" font-weight="normal" >453 K</text>
<line x1="183.7" y1="219.4" x2="199" y2="219.4" stroke="#e83a3a" stroke-width="1" />
<text x="201" y="221.78" font-size="6.6" text-anchor="start" fill="#222" font-weight="normal" >393 K</text>
<line x1="183.7" y1="253.5" x2="199" y2="253.5" stroke="#404040" stroke-width="1" />
<text x="201.5" y="255.88" font-size="6.6" text-anchor="start" fill="#222" font-weight="normal" >298 K</text>
<text x="233.5" y="178.73" font-size="6.2" text-anchor="middle" fill="#222" font-weight="normal" >1040</text>
<text x="234.4" y="210.53" font-size="6.2" text-anchor="middle" fill="#222" font-weight="normal" >1055</text>
<text x="251.9" y="210.53" font-size="6.2" text-anchor="middle" fill="#222" font-weight="normal" >1040</text>
<text x="217" y="234.73" font-size="6.2" text-anchor="middle" fill="#222" font-weight="normal" >1091</text>
<text x="239.4" y="238.63" font-size="6.2" text-anchor="middle" fill="#222" font-weight="normal" >1064</text>
<text x="255.8" y="249.73" font-size="6.2" text-anchor="middle" fill="#222" font-weight="normal" >1038</text>
<line x1="240" y1="179" x2="243.39" y2="182.72" stroke="#e82020" stroke-width="0.6" />
<path d="M245,184.5 L241.98,183.19 L243.98,181.37 Z" fill="#e82020"/>
<line x1="237" y1="212" x2="239.63" y2="218.76" stroke="#e82020" stroke-width="0.6" />
<path d="M240.5,221 L238.15,218.69 L240.67,217.71 Z" fill="#e82020"/>
<line x1="250" y1="212" x2="248.92" y2="218.14" stroke="#e82020" stroke-width="0.6" />
<path d="M248.5,220.5 L247.69,217.31 L250.35,217.78 Z" fill="#e82020"/>
<line x1="219" y1="236.5" x2="222.34" y2="248.19" stroke="#e82020" stroke-width="0.6" />
<path d="M223,250.5 L220.88,247.99 L223.47,247.24 Z" fill="#e82020"/>
<line x1="240" y1="240" x2="237.54" y2="250.66" stroke="#e82020" stroke-width="0.6" />
<path d="M237,253 L236.36,249.77 L238.99,250.38 Z" fill="#e82020"/>
<line x1="254" y1="251" x2="249.38" y2="262.77" stroke="#e82020" stroke-width="0.6" />
<path d="M248.5,265 L248.34,261.71 L250.85,262.7 Z" fill="#e82020"/>
<text x="345" y="174.6" font-size="19.5" text-anchor="start" fill="#111" font-weight="normal" >f</text>
<g clip-path="url(#clipF)">
<path d="M355,250.9 C356.67,249.42 360.93,245.5 365,242 C369.07,238.5 375.57,234.4 379.4,229.9 C383.23,225.4 385.47,218.28 388,215 C390.53,211.72 392.6,210.2 394.6,210.2 C396.6,210.2 398.43,212.7 400,215 C401.57,217.3 402.7,221.73 404,224 C405.3,226.27 406.47,229.27 407.8,228.6 C409.13,227.93 410.17,223.07 412,220 C413.83,216.93 416.63,212.37 418.8,210.2 C420.97,208.03 422.8,207.87 425,207 C427.2,206.13 429.5,206.17 432,205 C434.5,203.83 436.93,201.67 440,200 C443.07,198.33 447.4,194.5 450.4,195 C453.4,195.5 455.4,200.17 458,203 C460.6,205.83 462.9,208.7 466,212 C469.1,215.3 473.1,220.13 476.6,222.8 C480.1,225.47 483.5,226.17 487,228 C490.5,229.83 494.43,232.05 497.6,233.8 C500.77,235.55 503.37,236.97 506,238.5 C508.63,240.03 512.17,242.25 513.4,243" stroke="#f07020" stroke-width="1.2" fill="none" />
<path d="M355,255.4 C356.67,254.83 361.37,253.4 365,252 C368.63,250.6 373.3,248.5 376.8,247 C380.3,245.5 382.85,244.63 386,243 C389.15,241.37 393.2,237.7 395.7,237.2 C398.2,236.7 399.12,238.72 401,240 C402.88,241.28 405.17,245.07 407,244.9 C408.83,244.73 410.17,240.77 412,239 C413.83,237.23 415.83,234.63 418,234.3 C420.17,233.97 422.5,235.22 425,237 C427.5,238.78 429.67,242.12 433,245 C436.33,247.88 440.83,252.3 445,254.3 C449.17,256.3 453.6,256.25 458,257 C462.4,257.75 466.9,258.38 471.4,258.8 C475.9,259.22 480.63,259.37 485,259.5 C489.37,259.63 494.1,259.85 497.6,259.6 C501.1,259.35 503.37,258.57 506,258 C508.63,257.43 512.17,256.5 513.4,256.2" stroke="#d0a020" stroke-width="1.2" fill="none" />
<path d="M355,258.8 C356.67,258.5 361.83,257.57 365,257 C368.17,256.43 370.17,256.73 374,255.4 C377.83,254.07 384.12,250.63 388,249 C391.88,247.37 394.97,245.77 397.3,245.6 C399.63,245.43 400.38,247.25 402,248 C403.62,248.75 405.5,250.77 407,250.1 C408.5,249.43 409.47,245.62 411,244 C412.53,242.38 414.37,240.07 416.2,240.4 C418.03,240.73 419.7,243.07 422,246 C424.3,248.93 427.03,253.47 430,258 C432.97,262.53 436.97,269.2 439.8,273.2 C442.63,277.2 444.37,279.8 447,282 C449.63,284.2 452.6,286.23 455.6,286.4 C458.6,286.57 462.1,284.23 465,283 C467.9,281.77 470.18,280.1 473,279 C475.82,277.9 478.9,277.23 481.9,276.4 C484.9,275.57 487.98,274.9 491,274 C494.02,273.1 496.27,272.43 500,271 C503.73,269.57 511.17,266.33 513.4,265.4" stroke="#70b020" stroke-width="1.2" fill="none" />
</g>
<rect x="355" y="173.9" width="158.4" height="115.6" fill="none" stroke="#333" stroke-width="0.8" />
<line x1="359.7" y1="289.5" x2="359.7" y2="287.5" stroke="#333" stroke-width="0.6" />
<text x="359.7" y="299.2" font-size="5" text-anchor="middle" fill="#333" font-weight="normal" >1800</text>
<line x1="368.98" y1="289.5" x2="368.98" y2="288.3" stroke="#333" stroke-width="0.5" />
<line x1="378.26" y1="289.5" x2="378.26" y2="287.5" stroke="#333" stroke-width="0.6" />
<text x="378.26" y="299.2" font-size="5" text-anchor="middle" fill="#333" font-weight="normal" >1790</text>
<line x1="387.54" y1="289.5" x2="387.54" y2="288.3" stroke="#333" stroke-width="0.5" />
<line x1="396.82" y1="289.5" x2="396.82" y2="287.5" stroke="#333" stroke-width="0.6" />
<text x="396.82" y="299.2" font-size="5" text-anchor="middle" fill="#333" font-weight="normal" >1780</text>
<line x1="406.1" y1="289.5" x2="406.1" y2="288.3" stroke="#333" stroke-width="0.5" />
<line x1="415.38" y1="289.5" x2="415.38" y2="287.5" stroke="#333" stroke-width="0.6" />
<text x="415.38" y="299.2" font-size="5" text-anchor="middle" fill="#333" font-weight="normal" >1770</text>
<line x1="424.66" y1="289.5" x2="424.66" y2="288.3" stroke="#333" stroke-width="0.5" />
<line x1="433.94" y1="289.5" x2="433.94" y2="287.5" stroke="#333" stroke-width="0.6" />
<text x="433.94" y="299.2" font-size="5" text-anchor="middle" fill="#333" font-weight="normal" >1760</text>
<line x1="443.22" y1="289.5" x2="443.22" y2="288.3" stroke="#333" stroke-width="0.5" />
<line x1="452.5" y1="289.5" x2="452.5" y2="287.5" stroke="#333" stroke-width="0.6" />
<text x="452.5" y="299.2" font-size="5" text-anchor="middle" fill="#333" font-weight="normal" >1750</text>
<line x1="461.78" y1="289.5" x2="461.78" y2="288.3" stroke="#333" stroke-width="0.5" />
<line x1="471.06" y1="289.5" x2="471.06" y2="287.5" stroke="#333" stroke-width="0.6" />
<text x="471.06" y="299.2" font-size="5" text-anchor="middle" fill="#333" font-weight="normal" >1740</text>
<line x1="480.34" y1="289.5" x2="480.34" y2="288.3" stroke="#333" stroke-width="0.5" />
<line x1="489.62" y1="289.5" x2="489.62" y2="287.5" stroke="#333" stroke-width="0.6" />
<text x="489.62" y="299.2" font-size="5" text-anchor="middle" fill="#333" font-weight="normal" >1730</text>
<line x1="498.9" y1="289.5" x2="498.9" y2="288.3" stroke="#333" stroke-width="0.5" />
<line x1="508.18" y1="289.5" x2="508.18" y2="287.5" stroke="#333" stroke-width="0.6" />
<text x="508.18" y="299.2" font-size="5" text-anchor="middle" fill="#333" font-weight="normal" >1720</text>
<text x="433.3" y="305.7" font-size="6.4" text-anchor="middle" fill="#222" font-weight="normal" >Wavenumber (cm<tspan font-size="4" dy="-2.5">-1</tspan><tspan dy="2.5">)</tspan></text>
<text transform="translate(346.6,231) rotate(-90)" x="0" y="2.3" font-size="6.4" text-anchor="middle" fill="#222" font-weight="normal">Absorbance (arb.units)</text>
<text x="366" y="180.44" font-size="6.5" text-anchor="middle" fill="#222" font-weight="normal" >298 K</text>
<text x="366" y="283.94" font-size="6.5" text-anchor="middle" fill="#222" font-weight="normal" >423 K</text>
<line x1="363.6" y1="182.6" x2="363.6" y2="273.2" stroke="#222" stroke-width="0.6" />
<path d="M363.6,276 L362.03,272.5 L365.18,272.5 Z" fill="#222"/>
<text x="438.5" y="178.77" font-size="6.3" text-anchor="middle" fill="#222" font-weight="normal" >cis-trans-monodentate</text>
<text x="436.5" y="186.17" font-size="6.3" text-anchor="middle" fill="#222" font-weight="normal" >1751</text>
<text x="484.6" y="215.64" font-size="6.5" text-anchor="middle" fill="#f03030" font-weight="normal" >373 K</text>
<line x1="476.6" y1="220.7" x2="454.07" y2="253.88" stroke="#222" stroke-width="0.6" />
<path d="M452.5,256.2 L453.16,252.42 L455.77,254.19 Z" fill="#222"/>
<line x1="449.8" y1="193.9" x2="446.16" y2="189.63" stroke="#e82020" stroke-width="0.6" />
<path d="M444.6,187.8 L447.57,189.21 L445.52,190.96 Z" fill="#e82020"/>
<line x1="396.5" y1="248.3" x2="393.05" y2="263.06" stroke="#e82020" stroke-width="0.6" />
<path d="M392.5,265.4 L391.87,262.17 L394.5,262.79 Z" fill="#e82020"/>
<line x1="416.2" y1="241.2" x2="422.72" y2="257.87" stroke="#e82020" stroke-width="0.6" />
<path d="M423.6,260.1 L421.25,257.8 L423.76,256.81 Z" fill="#e82020"/>
<text x="392" y="272.87" font-size="6.3" text-anchor="middle" fill="#222" font-weight="normal" >1780</text>
<text x="394.5" y="280.77" font-size="6.3" text-anchor="middle" fill="#222" font-weight="normal" >bidentate</text>
<text x="423.8" y="266.87" font-size="6.3" text-anchor="middle" fill="#222" font-weight="normal" >1768</text>
<text x="445.1" y="276.07" font-size="6.3" text-anchor="middle" fill="#222" font-weight="normal" >cis-cis-monodentate</text>
<text x="513.8" y="172.6" font-size="19.5" text-anchor="start" fill="#111" font-weight="normal" >g</text>
<path d="M525.5,238.6 C527.78,238.23 535.45,237.83 539.2,236.4 C542.95,234.97 544.95,232.4 548,230 C551.05,227.6 554.67,224.17 557.5,222 C560.33,219.83 562.58,218.18 565,217 C567.42,215.82 570,214.73 572,214.9 C574,215.07 575.47,216.52 577,218 C578.53,219.48 579.7,224.3 581.2,223.8 C582.7,223.3 584.25,217.48 586,215 C587.75,212.52 589.43,210.58 591.7,208.9 C593.97,207.22 597.05,206.55 599.6,204.9 C602.15,203.25 604.47,200.83 607,199 C609.53,197.17 612.3,193.73 614.8,193.9 C617.3,194.07 619.47,197.82 622,200 C624.53,202.18 626.73,204 630,207 C633.27,210 637.93,215 641.6,218 C645.27,221 648.5,222.8 652,225 C655.5,227.2 659.27,229.7 662.6,231.2 C665.93,232.7 668.83,233.35 672,234 C675.17,234.65 680,234.92 681.6,235.1" stroke="#f04848" stroke-width="1.2" fill="none" />
<path d="M525.5,245.1 C527.92,244.92 534.67,244.78 540,244 C545.33,243.22 553.33,241.4 557.5,240.4 C561.67,239.4 562.45,238.67 565,238 C567.55,237.33 570.8,236.4 572.8,236.4 C574.8,236.4 575.6,237.33 577,238 C578.4,238.67 580.03,240.57 581.2,240.4 C582.37,240.23 583.03,237.78 584,237 C584.97,236.22 585.67,235.53 587,235.7 C588.33,235.87 589.83,236.62 592,238 C594.17,239.38 596.55,241.85 600,244 C603.45,246.15 608.53,249.82 612.7,250.9 C616.87,251.98 621.05,250.63 625,250.5 C628.95,250.37 632.73,250.35 636.4,250.1 C640.07,249.85 643.5,249.52 647,249 C650.5,248.48 654.4,247.83 657.4,247 C660.4,246.17 662.57,245.17 665,244 C667.43,242.83 669.23,241.17 672,240 C674.77,238.83 680,237.5 681.6,237" stroke="#8a5a50" stroke-width="1.2" fill="none" />
<path d="M525.5,250.1 C527.92,250.13 534.67,250.17 540,250.3 C545.33,250.43 553.33,251.28 557.5,250.9 C561.67,250.52 562.28,248.88 565,248 C567.72,247.12 571.32,245.77 573.8,245.6 C576.28,245.43 577.88,247.43 579.9,247 C581.92,246.57 583.88,242.17 585.9,243 C587.92,243.83 589.98,248.83 592,252 C594.02,255.17 595.87,259.33 598,262 C600.13,264.67 602.8,265.5 604.8,268 C606.8,270.5 608.23,274.6 610,277 C611.77,279.4 613.4,281.9 615.4,282.4 C617.4,282.9 618.95,281.97 622,280 C625.05,278.03 629.87,273.1 633.7,270.6 C637.53,268.1 641.05,266.83 645,265 C648.95,263.17 654.07,261.27 657.4,259.6 C660.73,257.93 662.57,256.6 665,255 C667.43,253.4 669.23,251.78 672,250 C674.77,248.22 680,245.25 681.6,244.3" stroke="#30a860" stroke-width="1.2" fill="none" />
<rect x="525.5" y="173.9" width="156.1" height="114.6" fill="none" stroke="#333" stroke-width="0.8" />
<line x1="531.15" y1="288.5" x2="531.15" y2="287.3" stroke="#333" stroke-width="0.6" />
<line x1="545" y1="288.5" x2="545" y2="286.5" stroke="#333" stroke-width="0.6" />
<line x1="558.85" y1="288.5" x2="558.85" y2="287.3" stroke="#333" stroke-width="0.6" />
<line x1="572.7" y1="288.5" x2="572.7" y2="286.5" stroke="#333" stroke-width="0.6" />
<line x1="586.55" y1="288.5" x2="586.55" y2="287.3" stroke="#333" stroke-width="0.6" />
<line x1="600.4" y1="288.5" x2="600.4" y2="286.5" stroke="#333" stroke-width="0.6" />
<line x1="614.25" y1="288.5" x2="614.25" y2="287.3" stroke="#333" stroke-width="0.6" />
<line x1="628.1" y1="288.5" x2="628.1" y2="286.5" stroke="#333" stroke-width="0.6" />
<line x1="641.95" y1="288.5" x2="641.95" y2="287.3" stroke="#333" stroke-width="0.6" />
<line x1="655.8" y1="288.5" x2="655.8" y2="286.5" stroke="#333" stroke-width="0.6" />
<line x1="669.65" y1="288.5" x2="669.65" y2="287.3" stroke="#333" stroke-width="0.6" />
<text x="545" y="297.4" font-size="5" text-anchor="middle" fill="#333" font-weight="normal" >1800</text>
<text x="572.7" y="297.4" font-size="5" text-anchor="middle" fill="#333" font-weight="normal" >1780</text>
<text x="600.4" y="297.4" font-size="5" text-anchor="middle" fill="#333" font-weight="normal" >1760</text>
<text x="628.1" y="297.4" font-size="5" text-anchor="middle" fill="#333" font-weight="normal" >1740</text>
<text x="655.8" y="297.4" font-size="5" text-anchor="middle" fill="#333" font-weight="normal" >1720</text>
<text x="603.5" y="303.9" font-size="6.4" text-anchor="middle" fill="#222" font-weight="normal" >Wavenumber (cm<tspan font-size="4" dy="-2.5">-1</tspan><tspan dy="2.5">)</tspan></text>
<text transform="translate(518.1,231) rotate(-90)" x="0" y="2.3" font-size="6.4" text-anchor="middle" fill="#222" font-weight="normal">Absorbance (arb.units)</text>
<text x="541" y="188.84" font-size="6.5" text-anchor="middle" fill="#222" font-weight="normal" >298 K</text>
<text x="542" y="272.14" font-size="6.5" text-anchor="middle" fill="#222" font-weight="normal" >423 K</text>
<line x1="538.6" y1="190.5" x2="538.6" y2="260.4" stroke="#222" stroke-width="0.6" />
<path d="M538.6,263.2 L537.02,259.7 L540.18,259.7 Z" fill="#222"/>
<text x="602.7" y="180.37" font-size="6.3" text-anchor="middle" fill="#222" font-weight="normal" >cis-trans-monodentate</text>
<text x="602.2" y="186.67" font-size="6.3" text-anchor="middle" fill="#222" font-weight="normal" >1750</text>
<text x="650.3" y="214.64" font-size="6.5" text-anchor="middle" fill="#f03030" font-weight="normal" >353 K</text>
<line x1="641.1" y1="216.7" x2="615.74" y2="248.71" stroke="#222" stroke-width="0.6" />
<path d="M614,250.9 L614.94,247.18 L617.41,249.13 Z" fill="#222"/>
<line x1="612.7" y1="194.4" x2="608.88" y2="188.96" stroke="#e82020" stroke-width="0.6" />
<path d="M607.5,187 L610.33,188.68 L608.12,190.23 Z" fill="#e82020"/>
<line x1="573.8" y1="246.4" x2="566.57" y2="259.31" stroke="#e82020" stroke-width="0.6" />
<path d="M565.4,261.4 L565.69,258.12 L568.04,259.44 Z" fill="#e82020"/>
<line x1="585.9" y1="244.3" x2="592.4" y2="269.58" stroke="#e82020" stroke-width="0.6" />
<path d="M593,271.9 L590.95,269.33 L593.56,268.66 Z" fill="#e82020"/>
<text x="563.4" y="269.47" font-size="6.3" text-anchor="middle" fill="#222" font-weight="normal" >1780</text>
<text x="566.1" y="277.57" font-size="6.3" text-anchor="middle" fill="#222" font-weight="normal" >bidentate</text>
<text x="597.6" y="279.47" font-size="6.3" text-anchor="middle" fill="#222" font-weight="normal" >1769</text>
<text x="611" y="285.97" font-size="6.3" text-anchor="middle" fill="#222" font-weight="normal" >cis-cis-monodentate</text>
<rect x="10.5" y="350" width="149" height="17" fill="#FFC000" stroke="none" stroke-width="1" />
<circle cx="64.8" cy="350.3" r="2.9" fill="#fff" stroke="none" stroke-width="1" />
<circle cx="152.4" cy="350.3" r="2.9" fill="#fff" stroke="none" stroke-width="1" />
<circle cx="15.8" cy="350" r="2.9" fill="#92D050" stroke="none" stroke-width="1" />
<circle cx="26.3" cy="350" r="2.9" fill="#92D050" stroke="none" stroke-width="1" />
<ellipse cx="36.8" cy="350" rx="4.3" ry="3.7" fill="#4472C4" stroke="none" stroke-width="1" />
<circle cx="46.8" cy="350" r="2.9" fill="#92D050" stroke="none" stroke-width="1" />
<ellipse cx="56.8" cy="350" rx="4.3" ry="3.7" fill="#4472C4" stroke="none" stroke-width="1" />
<ellipse cx="74" cy="350" rx="4.3" ry="3.7" fill="#4472C4" stroke="none" stroke-width="1" />
<circle cx="84" cy="350" r="2.9" fill="#92D050" stroke="none" stroke-width="1" />
<ellipse cx="93" cy="350" rx="4.3" ry="3.7" fill="#4472C4" stroke="none" stroke-width="1" />
<circle cx="101.1" cy="349.5" r="2.3" fill="#fff" stroke="#111" stroke-width="0.8" />
<ellipse cx="112.3" cy="350" rx="4.3" ry="3.7" fill="#4472C4" stroke="none" stroke-width="1" />
<circle cx="121.7" cy="350" r="2.9" fill="#92D050" stroke="none" stroke-width="1" />
<circle cx="134" cy="350" r="2.9" fill="#92D050" stroke="none" stroke-width="1" />
<ellipse cx="143.2" cy="350" rx="4.3" ry="3.7" fill="#4472C4" stroke="none" stroke-width="1" />
<rect x="180" y="350" width="148.7" height="17" fill="#FFC000" stroke="none" stroke-width="1" />
<circle cx="234.7" cy="350.3" r="2.9" fill="#fff" stroke="none" stroke-width="1" />
<circle cx="323.7" cy="350.3" r="2.9" fill="#fff" stroke="none" stroke-width="1" />
<circle cx="185.6" cy="350" r="2.9" fill="#92D050" stroke="none" stroke-width="1" />
<circle cx="196.1" cy="350" r="2.9" fill="#92D050" stroke="none" stroke-width="1" />
<ellipse cx="207" cy="350" rx="4.3" ry="3.7" fill="#4472C4" stroke="none" stroke-width="1" />
<circle cx="216.6" cy="350" r="2.9" fill="#92D050" stroke="none" stroke-width="1" />
<ellipse cx="226.5" cy="350" rx="4.3" ry="3.7" fill="#4472C4" stroke="none" stroke-width="1" />
<ellipse cx="243.4" cy="350" rx="4.3" ry="3.7" fill="#4472C4" stroke="none" stroke-width="1" />
<circle cx="253.6" cy="350" r="2.9" fill="#92D050" stroke="none" stroke-width="1" />
<ellipse cx="262.4" cy="350" rx="4.3" ry="3.7" fill="#4472C4" stroke="none" stroke-width="1" />
<circle cx="270.6" cy="349.5" r="2.3" fill="#fff" stroke="#111" stroke-width="0.8" />
<ellipse cx="281.4" cy="350" rx="4.3" ry="3.7" fill="#4472C4" stroke="none" stroke-width="1" />
<circle cx="291.6" cy="350" r="2.9" fill="#92D050" stroke="none" stroke-width="1" />
<circle cx="304.2" cy="350" r="2.9" fill="#92D050" stroke="none" stroke-width="1" />
<ellipse cx="313" cy="350" rx="4.3" ry="3.7" fill="#4472C4" stroke="none" stroke-width="1" />
<rect x="354.5" y="350" width="149.9" height="17" fill="#FFC000" stroke="none" stroke-width="1" />
<circle cx="409.1" cy="350.3" r="2.9" fill="#fff" stroke="none" stroke-width="1" />
<circle cx="498.9" cy="350.3" r="2.9" fill="#fff" stroke="none" stroke-width="1" />
<circle cx="359.4" cy="350" r="2.9" fill="#92D050" stroke="none" stroke-width="1" />
<circle cx="369.9" cy="350" r="2.9" fill="#92D050" stroke="none" stroke-width="1" />
<ellipse cx="380.3" cy="350" rx="4.3" ry="3.7" fill="#4472C4" stroke="none" stroke-width="1" />
<circle cx="390.5" cy="350" r="2.9" fill="#92D050" stroke="none" stroke-width="1" />
<ellipse cx="400.9" cy="350" rx="4.3" ry="3.7" fill="#4472C4" stroke="none" stroke-width="1" />
<ellipse cx="418.3" cy="350" rx="4.3" ry="3.7" fill="#4472C4" stroke="none" stroke-width="1" />
<circle cx="428.2" cy="350" r="2.9" fill="#92D050" stroke="none" stroke-width="1" />
<ellipse cx="436.9" cy="350" rx="4.3" ry="3.7" fill="#4472C4" stroke="none" stroke-width="1" />
<circle cx="445.1" cy="349.5" r="2.3" fill="#fff" stroke="#111" stroke-width="0.8" />
<ellipse cx="456.7" cy="350" rx="4.3" ry="3.7" fill="#4472C4" stroke="none" stroke-width="1" />
<circle cx="466.2" cy="350" r="2.9" fill="#92D050" stroke="none" stroke-width="1" />
<circle cx="479.1" cy="350" r="2.9" fill="#92D050" stroke="none" stroke-width="1" />
<ellipse cx="488.2" cy="350" rx="4.3" ry="3.7" fill="#4472C4" stroke="none" stroke-width="1" />
<rect x="527" y="350" width="153.4" height="17" fill="#FFC000" stroke="none" stroke-width="1" />
<circle cx="582.4" cy="350.3" r="2.9" fill="#fff" stroke="none" stroke-width="1" />
<circle cx="674.2" cy="350.3" r="2.9" fill="#fff" stroke="none" stroke-width="1" />
<circle cx="532.4" cy="350" r="2.9" fill="#92D050" stroke="none" stroke-width="1" />
<circle cx="542.7" cy="350" r="2.9" fill="#92D050" stroke="none" stroke-width="1" />
<ellipse cx="554" cy="350" rx="4.3" ry="3.7" fill="#4472C4" stroke="none" stroke-width="1" />
<circle cx="564.3" cy="350" r="2.9" fill="#92D050" stroke="none" stroke-width="1" />
<ellipse cx="574.3" cy="350" rx="4.3" ry="3.7" fill="#4472C4" stroke="none" stroke-width="1" />
<ellipse cx="592.4" cy="350" rx="4.3" ry="3.7" fill="#4472C4" stroke="none" stroke-width="1" />
<circle cx="602.6" cy="350" r="2.9" fill="#92D050" stroke="none" stroke-width="1" />
<ellipse cx="611.3" cy="350" rx="4.3" ry="3.7" fill="#4472C4" stroke="none" stroke-width="1" />
<circle cx="620.2" cy="349.5" r="2.3" fill="#fff" stroke="#111" stroke-width="0.8" />
<ellipse cx="631.5" cy="350" rx="4.3" ry="3.7" fill="#4472C4" stroke="none" stroke-width="1" />
<circle cx="641" cy="350" r="2.9" fill="#92D050" stroke="none" stroke-width="1" />
<circle cx="654.7" cy="350" r="2.9" fill="#92D050" stroke="none" stroke-width="1" />
<ellipse cx="663.4" cy="350" rx="4.3" ry="3.7" fill="#4472C4" stroke="none" stroke-width="1" />
<rect x="10.8" y="407.5" width="147.2" height="16.7" fill="#FFC000" stroke="none" stroke-width="1" />
<circle cx="65.6" cy="407.8" r="2.9" fill="#fff" stroke="none" stroke-width="1" />
<circle cx="152" cy="407.8" r="2.9" fill="#fff" stroke="none" stroke-width="1" />
<circle cx="16.2" cy="407.5" r="2.9" fill="#92D050" stroke="none" stroke-width="1" />
<circle cx="26.5" cy="407.5" r="2.9" fill="#92D050" stroke="none" stroke-width="1" />
<ellipse cx="37" cy="407.5" rx="4.3" ry="3.7" fill="#4472C4" stroke="none" stroke-width="1" />
<circle cx="46.7" cy="407.5" r="2.9" fill="#92D050" stroke="none" stroke-width="1" />
<ellipse cx="56.7" cy="407.5" rx="4.3" ry="3.7" fill="#4472C4" stroke="none" stroke-width="1" />
<ellipse cx="73.5" cy="407.5" rx="4.3" ry="3.7" fill="#4472C4" stroke="none" stroke-width="1" />
<circle cx="83.2" cy="407.5" r="2.9" fill="#92D050" stroke="none" stroke-width="1" />
<ellipse cx="92.4" cy="407.5" rx="4.3" ry="3.7" fill="#4472C4" stroke="none" stroke-width="1" />
<circle cx="100.7" cy="407" r="2.3" fill="#fff" stroke="#111" stroke-width="0.8" />
<ellipse cx="111.3" cy="407.5" rx="4.3" ry="3.7" fill="#4472C4" stroke="none" stroke-width="1" />
<circle cx="121" cy="407.5" r="2.9" fill="#92D050" stroke="none" stroke-width="1" />
<circle cx="133.7" cy="407.5" r="2.9" fill="#92D050" stroke="none" stroke-width="1" />
<ellipse cx="142.3" cy="407.5" rx="4.3" ry="3.7" fill="#4472C4" stroke="none" stroke-width="1" />
<rect x="180.3" y="407.5" width="149.6" height="16.7" fill="#FFC000" stroke="none" stroke-width="1" />
<circle cx="235.4" cy="407.8" r="2.9" fill="#fff" stroke="none" stroke-width="1" />
<circle cx="324.5" cy="407.8" r="2.9" fill="#fff" stroke="none" stroke-width="1" />
<circle cx="185.7" cy="407.5" r="2.9" fill="#92D050" stroke="none" stroke-width="1" />
<circle cx="196.2" cy="407.5" r="2.9" fill="#92D050" stroke="none" stroke-width="1" />
<ellipse cx="207" cy="407.5" rx="4.3" ry="3.7" fill="#4472C4" stroke="none" stroke-width="1" />
<circle cx="216.7" cy="407.5" r="2.9" fill="#92D050" stroke="none" stroke-width="1" />
<ellipse cx="226.7" cy="407.5" rx="4.3" ry="3.7" fill="#4472C4" stroke="none" stroke-width="1" />
<ellipse cx="243.5" cy="407.5" rx="4.3" ry="3.7" fill="#4472C4" stroke="none" stroke-width="1" />
<circle cx="253.7" cy="407.5" r="2.9" fill="#92D050" stroke="none" stroke-width="1" />
<ellipse cx="262.6" cy="407.5" rx="4.3" ry="3.7" fill="#4472C4" stroke="none" stroke-width="1" />
<circle cx="271.3" cy="407" r="2.3" fill="#fff" stroke="#111" stroke-width="0.8" />
<ellipse cx="282.1" cy="407.5" rx="4.3" ry="3.7" fill="#4472C4" stroke="none" stroke-width="1" />
<circle cx="292.1" cy="407.5" r="2.9" fill="#92D050" stroke="none" stroke-width="1" />
<circle cx="304.5" cy="407.5" r="2.9" fill="#92D050" stroke="none" stroke-width="1" />
<ellipse cx="313.7" cy="407.5" rx="4.3" ry="3.7" fill="#4472C4" stroke="none" stroke-width="1" />
<rect x="354.5" y="407.5" width="150" height="16.7" fill="#FFC000" stroke="none" stroke-width="1" />
<circle cx="409" cy="407.8" r="2.9" fill="#fff" stroke="none" stroke-width="1" />
<circle cx="498.7" cy="407.8" r="2.9" fill="#fff" stroke="none" stroke-width="1" />
<circle cx="359.4" cy="407.5" r="2.9" fill="#92D050" stroke="none" stroke-width="1" />
<circle cx="370.2" cy="407.5" r="2.9" fill="#92D050" stroke="none" stroke-width="1" />
<ellipse cx="380.7" cy="407.5" rx="4.3" ry="3.7" fill="#4472C4" stroke="none" stroke-width="1" />
<circle cx="391" cy="407.5" r="2.9" fill="#92D050" stroke="none" stroke-width="1" />
<ellipse cx="400.6" cy="407.5" rx="4.3" ry="3.7" fill="#4472C4" stroke="none" stroke-width="1" />
<ellipse cx="418.4" cy="407.5" rx="4.3" ry="3.7" fill="#4472C4" stroke="none" stroke-width="1" />
<circle cx="428" cy="407.5" r="2.9" fill="#92D050" stroke="none" stroke-width="1" />
<ellipse cx="436.8" cy="407.5" rx="4.3" ry="3.7" fill="#4472C4" stroke="none" stroke-width="1" />
<circle cx="445.5" cy="407" r="2.3" fill="#fff" stroke="#111" stroke-width="0.8" />
<ellipse cx="456.6" cy="407.5" rx="4.3" ry="3.7" fill="#4472C4" stroke="none" stroke-width="1" />
<circle cx="466" cy="407.5" r="2.9" fill="#92D050" stroke="none" stroke-width="1" />
<circle cx="479.1" cy="407.5" r="2.9" fill="#92D050" stroke="none" stroke-width="1" />
<ellipse cx="487.9" cy="407.5" rx="4.3" ry="3.7" fill="#4472C4" stroke="none" stroke-width="1" />
<rect x="527.9" y="407.5" width="153.2" height="16.7" fill="#FFC000" stroke="none" stroke-width="1" />
<circle cx="584.2" cy="407.8" r="2.9" fill="#fff" stroke="none" stroke-width="1" />
<circle cx="623.1" cy="407.8" r="2.9" fill="#fff" stroke="none" stroke-width="1" />
<circle cx="677" cy="407.8" r="2.9" fill="#fff" stroke="none" stroke-width="1" />
<circle cx="533.3" cy="407.5" r="2.9" fill="#92D050" stroke="none" stroke-width="1" />
<circle cx="543.8" cy="407.5" r="2.9" fill="#92D050" stroke="none" stroke-width="1" />
<ellipse cx="554.8" cy="407.5" rx="4.3" ry="3.7" fill="#4472C4" stroke="none" stroke-width="1" />
<circle cx="565.3" cy="407.5" r="2.9" fill="#92D050" stroke="none" stroke-width="1" />
<ellipse cx="575.2" cy="407.5" rx="4.3" ry="3.7" fill="#4472C4" stroke="none" stroke-width="1" />
<ellipse cx="593.1" cy="407.5" rx="4.3" ry="3.7" fill="#4472C4" stroke="none" stroke-width="1" />
<circle cx="603.3" cy="407.5" r="2.9" fill="#92D050" stroke="none" stroke-width="1" />
<ellipse cx="613.2" cy="407.5" rx="4.3" ry="3.7" fill="#4472C4" stroke="none" stroke-width="1" />
<ellipse cx="632.6" cy="407.5" rx="4.3" ry="3.7" fill="#4472C4" stroke="none" stroke-width="1" />
<circle cx="643.1" cy="407.5" r="2.9" fill="#92D050" stroke="none" stroke-width="1" />
<circle cx="656" cy="407.5" r="2.9" fill="#92D050" stroke="none" stroke-width="1" />
<ellipse cx="664.7" cy="407.5" rx="4.3" ry="3.7" fill="#4472C4" stroke="none" stroke-width="1" />
<text x="82" y="364.59" font-size="10.8" text-anchor="middle" fill="#ff0000" font-weight="bold" >II</text>
<text x="255.1" y="364.89" font-size="10.8" text-anchor="middle" fill="#ff0000" font-weight="bold" >TS-1</text>
<text x="430.7" y="365.49" font-size="10.8" text-anchor="middle" fill="#ff0000" font-weight="bold" >III-1</text>
<text x="608" y="365.09" font-size="10.8" text-anchor="middle" fill="#ff0000" font-weight="bold" >III-2</text>
<text x="78.9" y="422.39" font-size="10.8" text-anchor="middle" fill="#ff0000" font-weight="bold" >TS-2</text>
<text x="259.1" y="421.59" font-size="10.8" text-anchor="middle" fill="#ff0000" font-weight="bold" >IV</text>
<text x="436.2" y="421.49" font-size="10.8" text-anchor="middle" fill="#ff0000" font-weight="bold" >TS-3</text>
<text x="609.3" y="422.19" font-size="10.8" text-anchor="middle" fill="#ff0000" font-weight="bold" >V</text>
<path d="M124.8,339 A54.57,54.57 0 0,1 205.03,333.22" stroke="#f01010" stroke-width="1.3" fill="none" />
<path d="M207.5,335.7 L201.44,333.15 L205.39,329.47 Z" fill="#f01010"/>
<path d="M290.7,337.7 A53.85,53.85 0 0,1 370.44,334.72" stroke="#f01010" stroke-width="1.3" fill="none" />
<path d="M372.8,337.3 L366.85,334.5 L370.94,330.99 Z" fill="#f01010"/>
<path d="M480.3,338.5 A55.04,55.04 0 0,1 561.13,336.22" stroke="#f01010" stroke-width="1.3" fill="none" />
<path d="M563.5,338.8 L557.54,336.01 L561.63,332.49 Z" fill="#f01010"/>
<path d="M124.2,392.5 A54.07,54.07 0 0,1 204.11,388.94" stroke="#f01010" stroke-width="1.3" fill="none" />
<path d="M206.5,391.5 L200.52,388.76 L204.59,385.2 Z" fill="#f01010"/>
<path d="M293.7,392.5 A53.54,53.54 0 0,1 373.1,388.15" stroke="#f01010" stroke-width="1.3" fill="none" />
<path d="M375.5,390.7 L369.51,387.99 L373.55,384.42 Z" fill="#f01010"/>
<path d="M483,396.4 A52.33,52.33 0 0,1 563.05,393.72" stroke="#f01010" stroke-width="1.3" fill="none" />
<path d="M565.3,396.4 L559.47,393.35 L563.72,390.01 Z" fill="#f01010"/>
<text x="134" y="343.87" font-size="8.8" text-anchor="start" fill="#c8102a" font-weight="bold" >DMC activation</text>
<text x="291.6" y="345.17" font-size="8.8" text-anchor="start" fill="#c8102a" font-weight="bold" >Methanol formation</text>
<text x="503.2" y="343.27" font-size="8.8" text-anchor="start" fill="#c8102a" font-weight="bold" >-CH<tspan font-size="6" dy="2">3</tspan><tspan dy="-2">OH</tspan></text>
<text x="127.4" y="402.17" font-size="8.8" text-anchor="start" fill="#c8102a" font-weight="bold" >Methanol formation</text>
<text x="325.3" y="401.87" font-size="8.8" text-anchor="start" fill="#c8102a" font-weight="bold" >-CH<tspan font-size="6" dy="2">3</tspan><tspan dy="-2">OH</tspan></text>
<text x="487.5" y="401.77" font-size="8.8" text-anchor="start" fill="#c8102a" font-weight="bold" >1,2-BC formation</text>
<path d="M43.4,338.4 L48.8,328.5" stroke="#111" stroke-width="1.05" fill="none" />
<text x="50.4" y="328.93" font-size="6.2" text-anchor="middle" fill="#000" font-weight="bold" style="font-family:Liberation Serif,serif">O</text>
<path d="M52.4,326.7 L62.5,326.7" stroke="#111" stroke-width="1.05" fill="none" />
<path d="M64.3,326.7 L69.5,317.3" stroke="#111" stroke-width="1.05" fill="none" />
<text x="70.9" y="317.53" font-size="6.2" text-anchor="middle" fill="#000" font-weight="bold" style="font-family:Liberation Serif,serif">O</text>
<path d="M73,315.1 L84.7,315" stroke="#111" stroke-width="1.05" fill="none" />
<line x1="63.63" y1="327.13" x2="69.93" y2="336.93" stroke="#111" stroke-width="0.9" />
<line x1="64.97" y1="326.27" x2="71.27" y2="336.07" stroke="#111" stroke-width="0.9" />
<text x="71.6" y="340.72" font-size="5.6" text-anchor="middle" fill="#000" font-weight="bold" style="font-family:Liberation Serif,serif">O</text>
<path d="M72.5,340.6 L74,346.5" stroke="#111" stroke-width="1.05" fill="none" />
<text x="78.9" y="337.72" font-size="5.6" text-anchor="middle" fill="#000" font-weight="bold" style="font-family:Liberation Serif,serif">H</text>
<path d="M79.8,337.8 L83.2,347" stroke="#111" stroke-width="1.05" fill="none" />
<path d="M83.5,331.8 Q87.5,322 80,318.8" stroke="#111" stroke-width="1.05" fill="none" />
<path d="M75.5,317.3 L80.97,316.9 L79.43,321.12 Z" fill="#111"/>
<text x="95.1" y="328.09" font-size="5.8" text-anchor="middle" fill="#000" font-weight="bold" style="font-family:Liberation Serif,serif">HO</text>
<path d="M98.6,326 L107.6,330.3 L116.1,324.5 L111.6,313.5" stroke="#111" stroke-width="1.05" fill="none" />
<path d="M107.6,330.3 L109.6,340.5 L102.6,347.5" stroke="#111" stroke-width="1.05" fill="none" />
<path d="M211.9,340.5 L216.4,330.5" stroke="#111" stroke-width="1.05" fill="none" />
<text x="217.4" y="330.83" font-size="6.2" text-anchor="middle" fill="#000" font-weight="bold" style="font-family:Liberation Serif,serif">O</text>
<path d="M219.5,328.3 L229,327" stroke="#111" stroke-width="1.05" fill="none" />
<path d="M230.5,326.9 L235,316.3" stroke="#111" stroke-width="1.05" fill="none" />
<text x="236" y="316.43" font-size="6.2" text-anchor="middle" fill="#000" font-weight="bold" style="font-family:Liberation Serif,serif">O</text>
<path d="M238,314 L250.2,313.1" stroke="#111" stroke-width="1.05" fill="none" />
<text x="230.5" y="310.32" font-size="5.6" text-anchor="middle" fill="#000" font-weight="bold" style="font-family:Liberation Serif,serif">H</text>
<path d="M232,310 L234.5,312.5" stroke="#111" stroke-width="1.05" fill="none" />
<line x1="229.88" y1="327.41" x2="237.68" y2="336.81" stroke="#111" stroke-width="0.9" />
<line x1="231.12" y1="326.39" x2="238.92" y2="335.79" stroke="#111" stroke-width="0.9" />
<text x="239.3" y="340.32" font-size="5.6" text-anchor="middle" fill="#000" font-weight="bold" style="font-family:Liberation Serif,serif">O</text>
<path d="M240.5,340.3 L242.8,346.5" stroke="#111" stroke-width="1.05" fill="none" />
<text x="264.6" y="328.09" font-size="5.8" text-anchor="middle" fill="#000" font-weight="bold" style="font-family:Liberation Serif,serif">HO</text>
<path d="M268.1,326 L277.1,330.3 L285.6,324.5 L281.1,313.5" stroke="#111" stroke-width="1.05" fill="none" />
<path d="M277.1,330.3 L279.1,340.5 L272.1,347.5" stroke="#111" stroke-width="1.05" fill="none" />
<text x="381" y="338.02" font-size="5.6" text-anchor="middle" fill="#000" font-weight="bold" style="font-family:Liberation Serif,serif">H<tspan font-size="4.2" dy="1.5">3</tspan><tspan dy="-1.5">C</tspan></text>
<path d="M386,335.5 L391,336.5" stroke="#111" stroke-width="1.05" fill="none" />
<text x="393.4" y="339.03" font-size="6.2" text-anchor="middle" fill="#000" font-weight="bold" style="font-family:Liberation Serif,serif">O</text>
<text x="399.6" y="331.74" font-size="5.4" text-anchor="middle" fill="#000" font-weight="bold" style="font-family:Liberation Serif,serif">H</text>
<path d="M395,334.8 L398,331.5" stroke="#111" stroke-width="1.05" fill="none" />
<path d="M395,339 L399.5,346.5" stroke="#111" stroke-width="1.05" fill="none" />
<text x="415" y="338.02" font-size="5.6" text-anchor="middle" fill="#000" font-weight="bold" style="font-family:Liberation Serif,serif">O</text>
<path d="M415.8,338 L417.5,346.5" stroke="#111" stroke-width="1.05" fill="none" />
<line x1="415.79" y1="333.88" x2="414.09" y2="322.28" stroke="#111" stroke-width="0.9" />
<line x1="414.21" y1="334.12" x2="412.51" y2="322.52" stroke="#111" stroke-width="0.9" />
<path d="M413.3,322.4 L420,313.4" stroke="#111" stroke-width="1.05" fill="none" />
<text x="422" y="314.63" font-size="6.2" text-anchor="middle" fill="#000" font-weight="bold" style="font-family:Liberation Serif,serif">O</text>
<path d="M424,312.6 L434.4,316.2" stroke="#111" stroke-width="1.05" fill="none" />
<text x="439.1" y="328.09" font-size="5.8" text-anchor="middle" fill="#000" font-weight="bold" style="font-family:Liberation Serif,serif">HO</text>
<path d="M442.6,326 L451.6,330.3 L460.1,324.5 L455.6,313.5" stroke="#111" stroke-width="1.05" fill="none" />
<path d="M451.6,330.3 L453.6,340.5 L446.6,347.5" stroke="#111" stroke-width="1.05" fill="none" />
<text x="589.1" y="337.22" font-size="5.6" text-anchor="middle" fill="#000" font-weight="bold" style="font-family:Liberation Serif,serif">O</text>
<path d="M589.8,337.2 L591.5,346.5" stroke="#111" stroke-width="1.05" fill="none" />
<line x1="589.58" y1="333.04" x2="587.18" y2="321.54" stroke="#111" stroke-width="0.9" />
<line x1="588.02" y1="333.36" x2="585.62" y2="321.86" stroke="#111" stroke-width="0.9" />
<path d="M586.4,321.7 L593.5,312.8" stroke="#111" stroke-width="1.05" fill="none" />
<text x="595.9" y="314.03" font-size="6.2" text-anchor="middle" fill="#000" font-weight="bold" style="font-family:Liberation Serif,serif">O</text>
<path d="M598,312 L609.4,315.3" stroke="#111" stroke-width="1.05" fill="none" />
<text x="614.2" y="328.09" font-size="5.8" text-anchor="middle" fill="#000" font-weight="bold" style="font-family:Liberation Serif,serif">HO</text>
<path d="M617.7,326 L626.7,330.3 L635.2,324.5 L630.7,313.5" stroke="#111" stroke-width="1.05" fill="none" />
<path d="M626.7,330.3 L628.7,340.5 L621.7,347.5" stroke="#111" stroke-width="1.05" fill="none" />
<text x="31.1" y="380.02" font-size="5.6" text-anchor="middle" fill="#000" font-weight="bold" style="font-family:Liberation Serif,serif">H<tspan font-size="4.2" dy="1.5">3</tspan><tspan dy="-1.5">C</tspan></text>
<path d="M35.5,379 L42,385" stroke="#111" stroke-width="1.05" fill="none" />
<text x="48" y="389.12" font-size="5.6" text-anchor="middle" fill="#000" font-weight="bold" style="font-family:Liberation Serif,serif">OH</text>
<text x="62.7" y="387.32" font-size="5.6" text-anchor="middle" fill="#000" font-weight="bold" style="font-family:Liberation Serif,serif">O</text>
<path d="M64.7,385.6 L73.5,388.6" stroke="#111" stroke-width="1.05" fill="none" />
<text x="75.6" y="391.32" font-size="5.6" text-anchor="middle" fill="#000" font-weight="bold" style="font-family:Liberation Serif,serif">C</text>
<path d="M77,391 L84,395.5" stroke="#111" stroke-width="1.05" fill="none" />
<text x="85.9" y="398.92" font-size="5.6" text-anchor="middle" fill="#000" font-weight="bold" style="font-family:Liberation Serif,serif">O</text>
<path d="M87,399 L91,405" stroke="#111" stroke-width="1.05" fill="none" />
<path d="M88,395.5 L97.2,390.7 L99.4,378.5 L88.6,375.3" stroke="#111" stroke-width="1.05" fill="none" />
<path d="M97.2,390.7 L105.3,398.8 L102.5,405" stroke="#111" stroke-width="1.05" fill="none" />
<circle cx="100.7" cy="407" r="2.1" fill="#fff" stroke="#111" stroke-width="0.8" />
<text x="213.2" y="384.62" font-size="5.6" text-anchor="middle" fill="#000" font-weight="bold" style="font-family:Liberation Serif,serif">H<tspan font-size="4.2" dy="1.5">3</tspan><tspan dy="-1.5">C</tspan></text>
<path d="M218,383 L226,387.5" stroke="#111" stroke-width="1.05" fill="none" />
<text x="231.6" y="390.02" font-size="5.6" text-anchor="middle" fill="#000" font-weight="bold" style="font-family:Liberation Serif,serif">OH</text>
<path d="M261,405 L252,396.5" stroke="#111" stroke-width="1.05" fill="none" />
<text x="251" y="396.72" font-size="5.6" text-anchor="middle" fill="#000" font-weight="bold" style="font-family:Liberation Serif,serif">O</text>
<path d="M251.5,392.5 L255,383" stroke="#111" stroke-width="1.05" fill="none" />
<text x="255.9" y="382.72" font-size="5.6" text-anchor="middle" fill="#000" font-weight="bold" style="font-family:Liberation Serif,serif">C</text>
<path d="M258,380 L268.5,377.5" stroke="#111" stroke-width="1.05" fill="none" />
<text x="270.5" y="379.22" font-size="5.6" text-anchor="middle" fill="#000" font-weight="bold" style="font-family:Liberation Serif,serif">O</text>
<path d="M272.5,378.5 L280.7,386.1 L288.8,382.6 L286.7,370.4" stroke="#111" stroke-width="1.05" fill="none" />
<path d="M280.7,386.1 L279.4,399.6 L272.5,404.5" stroke="#111" stroke-width="1.05" fill="none" />
<path d="M444,405.5 L435.3,400.6 L436.2,387.8 L426.6,384.9 L427.4,373.8" stroke="#111" stroke-width="1.05" fill="none" />
<path d="M436.2,387.8 L444.5,382.5" stroke="#111" stroke-width="1.05" fill="none" />
<text x="446.1" y="383.92" font-size="5.6" text-anchor="middle" fill="#000" font-weight="bold" style="font-family:Liberation Serif,serif">O</text>
<path d="M448,382.5 L456.5,384.8" stroke="#111" stroke-width="1.05" fill="none" />
<text x="458.7" y="387.42" font-size="5.6" text-anchor="middle" fill="#000" font-weight="bold" style="font-family:Liberation Serif,serif">C</text>
<line x1="458.72" y1="387.68" x2="461.02" y2="397.68" stroke="#111" stroke-width="0.9" />
<line x1="460.28" y1="387.32" x2="462.58" y2="397.32" stroke="#111" stroke-width="0.9" />
<text x="462.5" y="401.52" font-size="5.6" text-anchor="middle" fill="#000" font-weight="bold" style="font-family:Liberation Serif,serif">O</text>
<path d="M591.3,368 L590.7,378.5 L601.2,383.6 L608.2,380" stroke="#111" stroke-width="1.05" fill="none" />
<text x="610.2" y="381.42" font-size="5.6" text-anchor="middle" fill="#000" font-weight="bold" style="font-family:Liberation Serif,serif">O</text>
<path d="M612,381 L617.5,387" stroke="#111" stroke-width="1.05" fill="none" />
<text x="619.2" y="391.02" font-size="5.6" text-anchor="middle" fill="#000" font-weight="bold" style="font-family:Liberation Serif,serif">C</text>
<path d="M617.5,391 L611,395.5" stroke="#111" stroke-width="1.05" fill="none" />
<text x="609.3" y="398.42" font-size="5.6" text-anchor="middle" fill="#000" font-weight="bold" style="font-family:Liberation Serif,serif">O</text>
<path d="M607.3,396 L601.2,394.9 L601.2,383.6" stroke="#111" stroke-width="1.05" fill="none" />
<line x1="620.85" y1="390.29" x2="627.65" y2="391.59" stroke="#111" stroke-width="0.9" />
<line x1="621.15" y1="388.71" x2="627.95" y2="390.01" stroke="#111" stroke-width="0.9" />
<text x="629.7" y="393.32" font-size="5.6" text-anchor="middle" fill="#000" font-weight="bold" style="font-family:Liberation Serif,serif">O</text>
<path d="M630.2,393.3 L632,403.5" stroke="#111" stroke-width="1.05" fill="none" />
<text x="2.2" y="324.7" font-size="19.5" text-anchor="start" fill="#111" font-weight="normal" >h</text>
<rect x="22.8" y="430" width="658.5" height="167.2" fill="none" stroke="#444" stroke-width="0.9" />
<line x1="20.8" y1="577.3" x2="22.8" y2="577.3" stroke="#444" stroke-width="0.7" />
<text x="15.5" y="579.82" font-size="7" text-anchor="middle" fill="#111" font-weight="normal" >&#8722;1</text>
<line x1="20.8" y1="547.9" x2="22.8" y2="547.9" stroke="#444" stroke-width="0.7" />
<text x="15.5" y="550.42" font-size="7" text-anchor="middle" fill="#111" font-weight="normal" >0</text>
<line x1="20.8" y1="518.5" x2="22.8" y2="518.5" stroke="#444" stroke-width="0.7" />
<text x="15.5" y="521.02" font-size="7" text-anchor="middle" fill="#111" font-weight="normal" >1</text>
<line x1="20.8" y1="489.1" x2="22.8" y2="489.1" stroke="#444" stroke-width="0.7" />
<text x="15.5" y="491.62" font-size="7" text-anchor="middle" fill="#111" font-weight="normal" >2</text>
<line x1="20.8" y1="459.7" x2="22.8" y2="459.7" stroke="#444" stroke-width="0.7" />
<text x="15.5" y="462.22" font-size="7" text-anchor="middle" fill="#111" font-weight="normal" >3</text>
<line x1="20.8" y1="430.3" x2="22.8" y2="430.3" stroke="#444" stroke-width="0.7" />
<text x="15.5" y="432.82" font-size="7" text-anchor="middle" fill="#111" font-weight="normal" >4</text>
<line x1="21.6" y1="592" x2="22.8" y2="592" stroke="#444" stroke-width="0.6" />
<line x1="21.6" y1="562.6" x2="22.8" y2="562.6" stroke="#444" stroke-width="0.6" />
<line x1="21.6" y1="533.2" x2="22.8" y2="533.2" stroke="#444" stroke-width="0.6" />
<line x1="21.6" y1="503.8" x2="22.8" y2="503.8" stroke="#444" stroke-width="0.6" />
<line x1="21.6" y1="474.4" x2="22.8" y2="474.4" stroke="#444" stroke-width="0.6" />
<line x1="21.6" y1="445" x2="22.8" y2="445" stroke="#444" stroke-width="0.6" />
<text transform="translate(4.6,505.8) rotate(-90)" x="0" y="3.31" font-size="9.2" text-anchor="middle" fill="#222" font-weight="normal">Energy(eV)</text>
<line x1="61.3" y1="520" x2="99.2" y2="549" stroke="#0000ff" stroke-width="0.75" stroke-dasharray="1,0.8"/>
<line x1="61.3" y1="518.6" x2="99.2" y2="549" stroke="#ff0000" stroke-width="0.75" stroke-dasharray="1,0.8"/>
<line x1="131.4" y1="549" x2="170" y2="492.5" stroke="#0000ff" stroke-width="0.75" stroke-dasharray="1,0.8"/>
<line x1="131.4" y1="549" x2="170" y2="482" stroke="#ff0000" stroke-width="0.75" stroke-dasharray="1,0.8"/>
<line x1="202.2" y1="492.5" x2="253.1" y2="512.2" stroke="#0000ff" stroke-width="0.75" stroke-dasharray="1,0.8"/>
<line x1="202.2" y1="482" x2="253.1" y2="495.9" stroke="#ff0000" stroke-width="0.75" stroke-dasharray="1,0.8"/>
<line x1="284.6" y1="512.2" x2="334.7" y2="497" stroke="#0000ff" stroke-width="0.75" stroke-dasharray="1,0.8"/>
<line x1="284.6" y1="495.9" x2="334.7" y2="469.3" stroke="#ff0000" stroke-width="0.75" stroke-dasharray="1,0.8"/>
<line x1="367" y1="497" x2="408.7" y2="521.3" stroke="#0000ff" stroke-width="0.75" stroke-dasharray="1,0.8"/>
<line x1="367" y1="469.3" x2="408.7" y2="472" stroke="#ff0000" stroke-width="0.75" stroke-dasharray="1,0.8"/>
<line x1="441.7" y1="521.3" x2="495.2" y2="484" stroke="#0000ff" stroke-width="0.75" stroke-dasharray="1,0.8"/>
<line x1="441.7" y1="472" x2="495.2" y2="466.2" stroke="#ff0000" stroke-width="0.75" stroke-dasharray="1,0.8"/>
<line x1="526.8" y1="484" x2="569.6" y2="507.5" stroke="#0000ff" stroke-width="0.75" stroke-dasharray="1,0.8"/>
<line x1="526.8" y1="466.2" x2="569.6" y2="569.7" stroke="#ff0000" stroke-width="0.75" stroke-dasharray="1,0.8"/>
<line x1="602" y1="507.5" x2="643" y2="518.3" stroke="#0000ff" stroke-width="0.75" stroke-dasharray="1,0.8"/>
<line x1="602" y1="569.7" x2="643" y2="550.3" stroke="#ff0000" stroke-width="0.75" stroke-dasharray="1,0.8"/>
<line x1="29.8" y1="520" x2="61.3" y2="520" stroke="#0000ff" stroke-width="2" />
<line x1="99.2" y1="549" x2="131.4" y2="549" stroke="#0000ff" stroke-width="2" />
<line x1="170" y1="492.5" x2="202.2" y2="492.5" stroke="#0000ff" stroke-width="2" />
<line x1="253.1" y1="512.2" x2="284.6" y2="512.2" stroke="#0000ff" stroke-width="2" />
<line x1="334.7" y1="497" x2="367" y2="497" stroke="#0000ff" stroke-width="2" />
<line x1="408.7" y1="521.3" x2="441.7" y2="521.3" stroke="#0000ff" stroke-width="2" />
<line x1="495.2" y1="484" x2="526.8" y2="484" stroke="#0000ff" stroke-width="2" />
<line x1="569.6" y1="507.5" x2="602" y2="507.5" stroke="#0000ff" stroke-width="2" />
<line x1="643" y1="518.3" x2="675" y2="518.3" stroke="#0000ff" stroke-width="2" />
<line x1="29.8" y1="518.6" x2="61.3" y2="518.6" stroke="#ff0000" stroke-width="2" />
<line x1="99.2" y1="549" x2="131.4" y2="549" stroke="#ff0000" stroke-width="2" />
<line x1="170" y1="482" x2="202.2" y2="482" stroke="#ff0000" stroke-width="2" />
<line x1="253.1" y1="495.9" x2="284.6" y2="495.9" stroke="#ff0000" stroke-width="2" />
<line x1="334.7" y1="469.3" x2="367" y2="469.3" stroke="#ff0000" stroke-width="2" />
<line x1="408.7" y1="472" x2="441.7" y2="472" stroke="#ff0000" stroke-width="2" />
<line x1="495.2" y1="466.2" x2="526.8" y2="466.2" stroke="#ff0000" stroke-width="2" />
<line x1="569.6" y1="569.7" x2="602" y2="569.7" stroke="#ff0000" stroke-width="2" />
<line x1="643" y1="550.3" x2="675" y2="550.3" stroke="#ff0000" stroke-width="2" />
<text x="184" y="475.73" font-size="8.7" text-anchor="middle" fill="#222" font-weight="normal" >TS-1</text>
<text x="349.5" y="462.93" font-size="8.7" text-anchor="middle" fill="#222" font-weight="normal" >TS-2</text>
<text x="509.2" y="460.33" font-size="8.7" text-anchor="middle" fill="#222" font-weight="normal" >TS-3</text>
<text x="43.8" y="531.03" font-size="8.7" text-anchor="middle" fill="#222" font-weight="normal" >I</text>
<text x="115.6" y="559.73" font-size="8.7" text-anchor="middle" fill="#222" font-weight="normal" >II</text>
<text x="270.2" y="524.83" font-size="8.7" text-anchor="middle" fill="#222" font-weight="normal" >III</text>
<text x="426.8" y="535.13" font-size="8.7" text-anchor="middle" fill="#222" font-weight="normal" >IV</text>
<text x="586.4" y="582.43" font-size="8.7" text-anchor="middle" fill="#222" font-weight="normal" >V</text>
<text x="61" y="511.98" font-size="9.4" text-anchor="middle" fill="#222" font-weight="normal" >Cat.+DMC+BDO</text>
<text x="141.5" y="511.91" font-size="9.2" text-anchor="middle" fill="#ff2020" font-weight="normal" >2.25</text>
<text x="308.2" y="479.11" font-size="9.2" text-anchor="middle" fill="#ff2020" font-weight="normal" >0.87</text>
<text x="466.1" y="466.11" font-size="9.2" text-anchor="middle" fill="#ff2020" font-weight="normal" >0.19</text>
<text x="622.1" y="553.61" font-size="9.2" text-anchor="middle" fill="#ff2020" font-weight="normal" >0.64</text>
<text x="161.2" y="534.31" font-size="9.2" text-anchor="middle" fill="#2020ff" font-weight="normal" >1.91</text>
<text x="316.1" y="515.51" font-size="9.2" text-anchor="middle" fill="#2020ff" font-weight="normal" >0.51</text>
<text x="474.2" y="515.31" font-size="9.2" text-anchor="middle" fill="#2020ff" font-weight="normal" >1.54</text>
<text x="625.8" y="510.81" font-size="9.2" text-anchor="middle" fill="#2020ff" font-weight="normal" >-0.09</text>
<line x1="30.9" y1="440.9" x2="63.1" y2="440.9" stroke="#0000ff" stroke-width="1.7" />
<text x="68.3" y="443.95" font-size="8.2" text-anchor="start" fill="#222" font-weight="normal" >Bi<tspan font-size="5.5" dy="2">1</tspan><tspan dy="-2">-CeO</tspan><tspan font-size="5.5" dy="2">2</tspan></text>
<line x1="30.9" y1="456.6" x2="63.1" y2="456.6" stroke="#ff0000" stroke-width="1.7" />
<text x="66.8" y="459.55" font-size="8.2" text-anchor="start" fill="#222" font-weight="normal" >CeO<tspan font-size="5.5" dy="2">2</tspan></text>
<ellipse cx="550.2" cy="442.8" rx="6.5" ry="5.1" fill="#4472C4" stroke="none" stroke-width="1" />
<text x="562.5" y="447.52" font-size="12" text-anchor="start" fill="#4472C4" font-weight="bold" >Ce</text>
<circle cx="598" cy="442.8" r="5.8" fill="url(#gBiL)" stroke="none" stroke-width="1" />
<text x="611.1" y="447.59" font-size="12.2" text-anchor="start" fill="#dd33dd" font-weight="bold" >Bi</text>
<circle cx="643.5" cy="443.9" r="4.4" fill="#92D050" stroke="none" stroke-width="1" />
<text x="656.1" y="447.38" font-size="11.6" text-anchor="start" fill="#92D050" font-weight="bold" >O</text>
<rect x="10.5" y="647.6" width="154.5" height="16.9" fill="#FFC000" stroke="none" stroke-width="1" />
<circle cx="67" cy="647.9" r="2.9" fill="#fff" stroke="none" stroke-width="1" />
<circle cx="157.6" cy="647.9" r="2.9" fill="#fff" stroke="none" stroke-width="1" />
<line x1="19.7" y1="637.3" x2="12.6" y2="647.6" stroke="#d040d0" stroke-width="0.8" />
<line x1="19.7" y1="637.3" x2="27" y2="647.6" stroke="#d040d0" stroke-width="0.8" />
<line x1="131.4" y1="637.3" x2="125.6" y2="647.6" stroke="#d040d0" stroke-width="0.8" />
<line x1="131.4" y1="637.3" x2="138.7" y2="647.6" stroke="#d040d0" stroke-width="0.8" />
<circle cx="12.6" cy="647.6" r="2.9" fill="#92D050" stroke="none" stroke-width="1" />
<circle cx="27" cy="647.6" r="2.9" fill="#92D050" stroke="none" stroke-width="1" />
<ellipse cx="37.6" cy="647.6" rx="4.3" ry="3.7" fill="#4472C4" stroke="none" stroke-width="1" />
<circle cx="47.8" cy="647.6" r="2.9" fill="#92D050" stroke="none" stroke-width="1" />
<ellipse cx="58.3" cy="647.6" rx="4.3" ry="3.7" fill="#4472C4" stroke="none" stroke-width="1" />
<ellipse cx="76.2" cy="647.6" rx="4.3" ry="3.7" fill="#4472C4" stroke="none" stroke-width="1" />
<circle cx="86.2" cy="647.6" r="2.9" fill="#92D050" stroke="none" stroke-width="1" />
<ellipse cx="95.9" cy="647.6" rx="4.3" ry="3.7" fill="#4472C4" stroke="none" stroke-width="1" />
<circle cx="103.8" cy="647.1" r="2.3" fill="#fff" stroke="#111" stroke-width="0.8" />
<ellipse cx="115.6" cy="647.6" rx="4.3" ry="3.7" fill="#4472C4" stroke="none" stroke-width="1" />
<circle cx="125.6" cy="647.6" r="2.9" fill="#92D050" stroke="none" stroke-width="1" />
<circle cx="138.7" cy="647.6" r="2.9" fill="#92D050" stroke="none" stroke-width="1" />
<ellipse cx="147.9" cy="647.6" rx="4.3" ry="3.7" fill="#4472C4" stroke="none" stroke-width="1" />
<circle cx="19.7" cy="637.3" r="5.3" fill="url(#gBi2)" stroke="none" stroke-width="1" />
<text x="19.7" y="639.17" font-size="5.2" text-anchor="middle" fill="#fff" font-weight="normal" >Bi</text>
<circle cx="131.4" cy="637.3" r="5.3" fill="url(#gBi2)" stroke="none" stroke-width="1" />
<text x="131.4" y="639.17" font-size="5.2" text-anchor="middle" fill="#fff" font-weight="normal" >Bi</text>
<rect x="189.9" y="647.6" width="148.6" height="16.9" fill="#FFC000" stroke="none" stroke-width="1" />
<circle cx="244.4" cy="647.9" r="2.9" fill="#fff" stroke="none" stroke-width="1" />
<circle cx="333.3" cy="647.9" r="2.9" fill="#fff" stroke="none" stroke-width="1" />
<line x1="199" y1="637.3" x2="192.9" y2="647.6" stroke="#d040d0" stroke-width="0.8" />
<line x1="199" y1="637.3" x2="206.1" y2="647.6" stroke="#d040d0" stroke-width="0.8" />
<line x1="307" y1="637.3" x2="301.1" y2="647.6" stroke="#d040d0" stroke-width="0.8" />
<line x1="307" y1="637.3" x2="314" y2="647.6" stroke="#d040d0" stroke-width="0.8" />
<circle cx="192.9" cy="647.6" r="2.9" fill="#92D050" stroke="none" stroke-width="1" />
<circle cx="206.1" cy="647.6" r="2.9" fill="#92D050" stroke="none" stroke-width="1" />
<ellipse cx="215.9" cy="647.6" rx="4.3" ry="3.7" fill="#4472C4" stroke="none" stroke-width="1" />
<circle cx="226" cy="647.6" r="2.9" fill="#92D050" stroke="none" stroke-width="1" />
<ellipse cx="236.8" cy="647.6" rx="4.3" ry="3.7" fill="#4472C4" stroke="none" stroke-width="1" />
<ellipse cx="253.6" cy="647.6" rx="4.3" ry="3.7" fill="#4472C4" stroke="none" stroke-width="1" />
<circle cx="263.4" cy="647.6" r="2.9" fill="#92D050" stroke="none" stroke-width="1" />
<ellipse cx="272" cy="647.6" rx="4.3" ry="3.7" fill="#4472C4" stroke="none" stroke-width="1" />
<circle cx="281.2" cy="647.1" r="2.3" fill="#fff" stroke="#111" stroke-width="0.8" />
<ellipse cx="291.6" cy="647.6" rx="4.3" ry="3.7" fill="#4472C4" stroke="none" stroke-width="1" />
<circle cx="301.1" cy="647.6" r="2.9" fill="#92D050" stroke="none" stroke-width="1" />
<circle cx="314" cy="647.6" r="2.9" fill="#92D050" stroke="none" stroke-width="1" />
<ellipse cx="323.2" cy="647.6" rx="4.3" ry="3.7" fill="#4472C4" stroke="none" stroke-width="1" />
<circle cx="199" cy="637.3" r="5.3" fill="url(#gBi2)" stroke="none" stroke-width="1" />
<text x="199" y="639.17" font-size="5.2" text-anchor="middle" fill="#fff" font-weight="normal" >Bi</text>
<circle cx="307" cy="637.3" r="5.3" fill="url(#gBi2)" stroke="none" stroke-width="1" />
<text x="307" y="639.17" font-size="5.2" text-anchor="middle" fill="#fff" font-weight="normal" >Bi</text>
<rect x="362.8" y="647.6" width="148" height="16.9" fill="#FFC000" stroke="none" stroke-width="1" />
<circle cx="416.7" cy="647.9" r="2.9" fill="#fff" stroke="none" stroke-width="1" />
<circle cx="504.7" cy="647.9" r="2.9" fill="#fff" stroke="none" stroke-width="1" />
<line x1="371.5" y1="637.3" x2="365.5" y2="647.6" stroke="#d040d0" stroke-width="0.8" />
<line x1="371.5" y1="637.3" x2="378.6" y2="647.6" stroke="#d040d0" stroke-width="0.8" />
<line x1="479.2" y1="637.3" x2="473.2" y2="647.6" stroke="#d040d0" stroke-width="0.8" />
<line x1="479.2" y1="637.3" x2="486.3" y2="647.6" stroke="#d040d0" stroke-width="0.8" />
<circle cx="365.5" cy="647.6" r="2.9" fill="#92D050" stroke="none" stroke-width="1" />
<circle cx="378.6" cy="647.6" r="2.9" fill="#92D050" stroke="none" stroke-width="1" />
<ellipse cx="389.1" cy="647.6" rx="4.3" ry="3.7" fill="#4472C4" stroke="none" stroke-width="1" />
<circle cx="398.8" cy="647.6" r="2.9" fill="#92D050" stroke="none" stroke-width="1" />
<ellipse cx="408.3" cy="647.6" rx="4.3" ry="3.7" fill="#4472C4" stroke="none" stroke-width="1" />
<ellipse cx="425.1" cy="647.6" rx="4.3" ry="3.7" fill="#4472C4" stroke="none" stroke-width="1" />
<circle cx="435.1" cy="647.6" r="2.9" fill="#92D050" stroke="none" stroke-width="1" />
<ellipse cx="444.3" cy="647.6" rx="4.3" ry="3.7" fill="#4472C4" stroke="none" stroke-width="1" />
<circle cx="452.2" cy="647.1" r="2.3" fill="#fff" stroke="#111" stroke-width="0.8" />
<ellipse cx="464" cy="647.6" rx="4.3" ry="3.7" fill="#4472C4" stroke="none" stroke-width="1" />
<circle cx="473.2" cy="647.6" r="2.9" fill="#92D050" stroke="none" stroke-width="1" />
<circle cx="486.3" cy="647.6" r="2.9" fill="#92D050" stroke="none" stroke-width="1" />
<ellipse cx="495" cy="647.6" rx="4.3" ry="3.7" fill="#4472C4" stroke="none" stroke-width="1" />
<circle cx="371.5" cy="637.3" r="5.3" fill="url(#gBi2)" stroke="none" stroke-width="1" />
<text x="371.5" y="639.17" font-size="5.2" text-anchor="middle" fill="#fff" font-weight="normal" >Bi</text>
<circle cx="479.2" cy="637.3" r="5.3" fill="url(#gBi2)" stroke="none" stroke-width="1" />
<text x="479.2" y="639.17" font-size="5.2" text-anchor="middle" fill="#fff" font-weight="normal" >Bi</text>
<rect x="529.7" y="647.6" width="151.8" height="16.9" fill="#FFC000" stroke="none" stroke-width="1" />
<circle cx="585.1" cy="647.9" r="2.9" fill="#fff" stroke="none" stroke-width="1" />
<circle cx="674.2" cy="647.9" r="2.9" fill="#fff" stroke="none" stroke-width="1" />
<line x1="539.7" y1="637.3" x2="546.4" y2="647.6" stroke="#d040d0" stroke-width="0.8" />
<line x1="539.7" y1="637.3" x2="532.9" y2="647.6" stroke="#d040d0" stroke-width="0.8" />
<line x1="648.5" y1="637.3" x2="642.6" y2="647.6" stroke="#d040d0" stroke-width="0.8" />
<line x1="648.5" y1="637.3" x2="656.1" y2="647.6" stroke="#d040d0" stroke-width="0.8" />
<circle cx="532.9" cy="647.6" r="2.9" fill="#92D050" stroke="none" stroke-width="1" />
<circle cx="546.4" cy="647.6" r="2.9" fill="#92D050" stroke="none" stroke-width="1" />
<ellipse cx="556.7" cy="647.6" rx="4.3" ry="3.7" fill="#4472C4" stroke="none" stroke-width="1" />
<circle cx="566.2" cy="647.6" r="2.9" fill="#92D050" stroke="none" stroke-width="1" />
<ellipse cx="577" cy="647.6" rx="4.3" ry="3.7" fill="#4472C4" stroke="none" stroke-width="1" />
<ellipse cx="594" cy="647.6" rx="4.3" ry="3.7" fill="#4472C4" stroke="none" stroke-width="1" />
<circle cx="604" cy="647.6" r="2.9" fill="#92D050" stroke="none" stroke-width="1" />
<ellipse cx="613.4" cy="647.6" rx="4.3" ry="3.7" fill="#4472C4" stroke="none" stroke-width="1" />
<circle cx="621.5" cy="647.1" r="2.3" fill="#fff" stroke="#111" stroke-width="0.8" />
<ellipse cx="632.9" cy="647.6" rx="4.3" ry="3.7" fill="#4472C4" stroke="none" stroke-width="1" />
<circle cx="642.6" cy="647.6" r="2.9" fill="#92D050" stroke="none" stroke-width="1" />
<circle cx="656.1" cy="647.6" r="2.9" fill="#92D050" stroke="none" stroke-width="1" />
<ellipse cx="664.7" cy="647.6" rx="4.3" ry="3.7" fill="#4472C4" stroke="none" stroke-width="1" />
<circle cx="539.7" cy="637.3" r="5.3" fill="url(#gBi2)" stroke="none" stroke-width="1" />
<text x="539.7" y="639.17" font-size="5.2" text-anchor="middle" fill="#fff" font-weight="normal" >Bi</text>
<circle cx="648.5" cy="637.3" r="5.3" fill="url(#gBi2)" stroke="none" stroke-width="1" />
<text x="648.5" y="639.17" font-size="5.2" text-anchor="middle" fill="#fff" font-weight="normal" >Bi</text>
<rect x="10.2" y="715.9" width="155.3" height="16.5" fill="#FFC000" stroke="none" stroke-width="1" />
<circle cx="67.5" cy="716.2" r="2.9" fill="#fff" stroke="none" stroke-width="1" />
<circle cx="103.8" cy="716.2" r="2.9" fill="#fff" stroke="none" stroke-width="1" />
<circle cx="157.6" cy="716.2" r="2.9" fill="#fff" stroke="none" stroke-width="1" />
<line x1="19.7" y1="705.3" x2="12.6" y2="715.9" stroke="#d040d0" stroke-width="0.8" />
<line x1="19.7" y1="705.3" x2="27" y2="715.9" stroke="#d040d0" stroke-width="0.8" />
<line x1="131.4" y1="705.3" x2="125.6" y2="715.9" stroke="#d040d0" stroke-width="0.8" />
<line x1="131.4" y1="705.3" x2="137.9" y2="715.9" stroke="#d040d0" stroke-width="0.8" />
<circle cx="12.6" cy="715.9" r="2.9" fill="#92D050" stroke="none" stroke-width="1" />
<circle cx="27" cy="715.9" r="2.9" fill="#92D050" stroke="none" stroke-width="1" />
<ellipse cx="38.1" cy="715.9" rx="4.3" ry="3.7" fill="#4472C4" stroke="none" stroke-width="1" />
<circle cx="47.8" cy="715.9" r="2.9" fill="#92D050" stroke="none" stroke-width="1" />
<ellipse cx="58.3" cy="715.9" rx="4.3" ry="3.7" fill="#4472C4" stroke="none" stroke-width="1" />
<ellipse cx="76.2" cy="715.9" rx="4.3" ry="3.7" fill="#4472C4" stroke="none" stroke-width="1" />
<circle cx="86.7" cy="715.9" r="2.9" fill="#92D050" stroke="none" stroke-width="1" />
<ellipse cx="95.9" cy="715.9" rx="4.3" ry="3.7" fill="#4472C4" stroke="none" stroke-width="1" />
<ellipse cx="115.6" cy="715.9" rx="4.3" ry="3.7" fill="#4472C4" stroke="none" stroke-width="1" />
<circle cx="125.6" cy="715.9" r="2.9" fill="#92D050" stroke="none" stroke-width="1" />
<circle cx="137.9" cy="715.9" r="2.9" fill="#92D050" stroke="none" stroke-width="1" />
<ellipse cx="148.4" cy="715.9" rx="4.3" ry="3.7" fill="#4472C4" stroke="none" stroke-width="1" />
<circle cx="19.7" cy="705.3" r="5.3" fill="url(#gBi2)" stroke="none" stroke-width="1" />
<text x="19.7" y="707.17" font-size="5.2" text-anchor="middle" fill="#fff" font-weight="normal" >Bi</text>
<circle cx="131.4" cy="705.3" r="5.3" fill="url(#gBi2)" stroke="none" stroke-width="1" />
<text x="131.4" y="707.17" font-size="5.2" text-anchor="middle" fill="#fff" font-weight="normal" >Bi</text>
<rect x="189.9" y="715.9" width="148.6" height="16.5" fill="#FFC000" stroke="none" stroke-width="1" />
<circle cx="245" cy="716.2" r="2.9" fill="#fff" stroke="none" stroke-width="1" />
<circle cx="334" cy="716.2" r="2.9" fill="#fff" stroke="none" stroke-width="1" />
<line x1="198.4" y1="705.3" x2="192.9" y2="715.9" stroke="#d040d0" stroke-width="0.8" />
<line x1="198.4" y1="705.3" x2="206.1" y2="715.9" stroke="#d040d0" stroke-width="0.8" />
<line x1="306.3" y1="705.3" x2="301.1" y2="715.9" stroke="#d040d0" stroke-width="0.8" />
<line x1="306.3" y1="705.3" x2="314" y2="715.9" stroke="#d040d0" stroke-width="0.8" />
<circle cx="192.9" cy="715.9" r="2.9" fill="#92D050" stroke="none" stroke-width="1" />
<circle cx="206.1" cy="715.9" r="2.9" fill="#92D050" stroke="none" stroke-width="1" />
<ellipse cx="215.3" cy="715.9" rx="4.3" ry="3.7" fill="#4472C4" stroke="none" stroke-width="1" />
<circle cx="226" cy="715.9" r="2.9" fill="#92D050" stroke="none" stroke-width="1" />
<ellipse cx="236.5" cy="715.9" rx="4.3" ry="3.7" fill="#4472C4" stroke="none" stroke-width="1" />
<ellipse cx="253.6" cy="715.9" rx="4.3" ry="3.7" fill="#4472C4" stroke="none" stroke-width="1" />
<circle cx="263.4" cy="715.9" r="2.9" fill="#92D050" stroke="none" stroke-width="1" />
<ellipse cx="272" cy="715.9" rx="4.3" ry="3.7" fill="#4472C4" stroke="none" stroke-width="1" />
<circle cx="280.3" cy="715.4" r="2.3" fill="#fff" stroke="#111" stroke-width="0.8" />
<ellipse cx="291.6" cy="715.9" rx="4.3" ry="3.7" fill="#4472C4" stroke="none" stroke-width="1" />
<circle cx="301.1" cy="715.9" r="2.9" fill="#92D050" stroke="none" stroke-width="1" />
<circle cx="314" cy="715.9" r="2.9" fill="#92D050" stroke="none" stroke-width="1" />
<ellipse cx="323.2" cy="715.9" rx="4.3" ry="3.7" fill="#4472C4" stroke="none" stroke-width="1" />
<circle cx="198.4" cy="705.3" r="5.3" fill="url(#gBi2)" stroke="none" stroke-width="1" />
<text x="198.4" y="707.17" font-size="5.2" text-anchor="middle" fill="#fff" font-weight="normal" >Bi</text>
<circle cx="306.3" cy="705.3" r="5.3" fill="url(#gBi2)" stroke="none" stroke-width="1" />
<text x="306.3" y="707.17" font-size="5.2" text-anchor="middle" fill="#fff" font-weight="normal" >Bi</text>
<rect x="365.5" y="715.9" width="148.1" height="16.5" fill="#FFC000" stroke="none" stroke-width="1" />
<circle cx="419.3" cy="716.2" r="2.9" fill="#fff" stroke="none" stroke-width="1" />
<circle cx="507.5" cy="716.2" r="2.9" fill="#fff" stroke="none" stroke-width="1" />
<line x1="373.8" y1="705.3" x2="368.8" y2="715.9" stroke="#d040d0" stroke-width="0.8" />
<line x1="373.8" y1="705.3" x2="381.3" y2="715.9" stroke="#d040d0" stroke-width="0.8" />
<line x1="481.2" y1="705.3" x2="475.6" y2="715.9" stroke="#d040d0" stroke-width="0.8" />
<line x1="481.2" y1="705.3" x2="488.7" y2="715.9" stroke="#d040d0" stroke-width="0.8" />
<circle cx="368.8" cy="715.9" r="2.9" fill="#92D050" stroke="none" stroke-width="1" />
<circle cx="381.3" cy="715.9" r="2.9" fill="#92D050" stroke="none" stroke-width="1" />
<ellipse cx="391.6" cy="715.9" rx="4.3" ry="3.7" fill="#4472C4" stroke="none" stroke-width="1" />
<circle cx="401.6" cy="715.9" r="2.9" fill="#92D050" stroke="none" stroke-width="1" />
<ellipse cx="411" cy="715.9" rx="4.3" ry="3.7" fill="#4472C4" stroke="none" stroke-width="1" />
<ellipse cx="428.5" cy="715.9" rx="4.3" ry="3.7" fill="#4472C4" stroke="none" stroke-width="1" />
<circle cx="438.2" cy="715.9" r="2.9" fill="#92D050" stroke="none" stroke-width="1" />
<ellipse cx="447.1" cy="715.9" rx="4.3" ry="3.7" fill="#4472C4" stroke="none" stroke-width="1" />
<circle cx="454.8" cy="715.4" r="2.3" fill="#fff" stroke="#111" stroke-width="0.8" />
<ellipse cx="466.5" cy="715.9" rx="4.3" ry="3.7" fill="#4472C4" stroke="none" stroke-width="1" />
<circle cx="475.6" cy="715.9" r="2.9" fill="#92D050" stroke="none" stroke-width="1" />
<circle cx="488.7" cy="715.9" r="2.9" fill="#92D050" stroke="none" stroke-width="1" />
<ellipse cx="497" cy="715.9" rx="4.3" ry="3.7" fill="#4472C4" stroke="none" stroke-width="1" />
<circle cx="373.8" cy="705.3" r="5.3" fill="url(#gBi2)" stroke="none" stroke-width="1" />
<text x="373.8" y="707.17" font-size="5.2" text-anchor="middle" fill="#fff" font-weight="normal" >Bi</text>
<circle cx="481.2" cy="705.3" r="5.3" fill="url(#gBi2)" stroke="none" stroke-width="1" />
<text x="481.2" y="707.17" font-size="5.2" text-anchor="middle" fill="#fff" font-weight="normal" >Bi</text>
<rect x="530.8" y="715.9" width="150.1" height="16.5" fill="#FFC000" stroke="none" stroke-width="1" />
<circle cx="585.5" cy="716.2" r="2.9" fill="#fff" stroke="none" stroke-width="1" />
<circle cx="623.6" cy="716.2" r="2.9" fill="#fff" stroke="none" stroke-width="1" />
<circle cx="675.3" cy="716.2" r="2.9" fill="#fff" stroke="none" stroke-width="1" />
<line x1="540.5" y1="705.3" x2="534.5" y2="715.9" stroke="#d040d0" stroke-width="0.8" />
<line x1="540.5" y1="705.3" x2="547.7" y2="715.9" stroke="#d040d0" stroke-width="0.8" />
<line x1="649.3" y1="705.3" x2="649.6" y2="715.9" stroke="#d040d0" stroke-width="0.8" />
<line x1="649.3" y1="705.3" x2="643.3" y2="715.9" stroke="#d040d0" stroke-width="0.8" />
<circle cx="534.5" cy="715.9" r="2.9" fill="#92D050" stroke="none" stroke-width="1" />
<circle cx="547.7" cy="715.9" r="2.9" fill="#92D050" stroke="none" stroke-width="1" />
<ellipse cx="558" cy="715.9" rx="4.3" ry="3.7" fill="#4472C4" stroke="none" stroke-width="1" />
<circle cx="567.7" cy="715.9" r="2.9" fill="#92D050" stroke="none" stroke-width="1" />
<ellipse cx="577.8" cy="715.9" rx="4.3" ry="3.7" fill="#4472C4" stroke="none" stroke-width="1" />
<ellipse cx="595.1" cy="715.9" rx="4.3" ry="3.7" fill="#4472C4" stroke="none" stroke-width="1" />
<circle cx="604.8" cy="715.9" r="2.9" fill="#92D050" stroke="none" stroke-width="1" />
<ellipse cx="613.9" cy="715.9" rx="4.3" ry="3.7" fill="#4472C4" stroke="none" stroke-width="1" />
<ellipse cx="633.7" cy="715.9" rx="4.3" ry="3.7" fill="#4472C4" stroke="none" stroke-width="1" />
<circle cx="643.3" cy="715.9" r="2.9" fill="#92D050" stroke="none" stroke-width="1" />
<circle cx="649.6" cy="715.9" r="2.9" fill="#92D050" stroke="none" stroke-width="1" />
<circle cx="656.1" cy="715.9" r="2.9" fill="#92D050" stroke="none" stroke-width="1" />
<ellipse cx="664.5" cy="715.9" rx="4.3" ry="3.7" fill="#4472C4" stroke="none" stroke-width="1" />
<circle cx="540.5" cy="705.3" r="5.3" fill="url(#gBi2)" stroke="none" stroke-width="1" />
<text x="540.5" y="707.17" font-size="5.2" text-anchor="middle" fill="#fff" font-weight="normal" >Bi</text>
<circle cx="649.3" cy="705.3" r="5.3" fill="url(#gBi2)" stroke="none" stroke-width="1" />
<text x="649.3" y="707.17" font-size="5.2" text-anchor="middle" fill="#fff" font-weight="normal" >Bi</text>
<text x="81.5" y="662.99" font-size="10.8" text-anchor="middle" fill="#1414f0" font-weight="bold" >II</text>
<text x="254.2" y="662.79" font-size="10.8" text-anchor="middle" fill="#1414f0" font-weight="bold" >TS-1</text>
<text x="430.4" y="662.49" font-size="10.8" text-anchor="middle" fill="#1414f0" font-weight="bold" >III-1</text>
<text x="607.5" y="662.79" font-size="10.8" text-anchor="middle" fill="#1414f0" font-weight="bold" >III-2</text>
<text x="78.2" y="731.59" font-size="10.8" text-anchor="middle" fill="#1414f0" font-weight="bold" >TS-2</text>
<text x="257.9" y="731.69" font-size="10.8" text-anchor="middle" fill="#1414f0" font-weight="bold" >IV</text>
<text x="434.9" y="731.29" font-size="10.8" text-anchor="middle" fill="#1414f0" font-weight="bold" >TS-3</text>
<text x="609.1" y="731.29" font-size="10.8" text-anchor="middle" fill="#1414f0" font-weight="bold" >V</text>
<path d="M128.3,626.9 A47.61,47.61 0 0,1 208.5,623.36" stroke="#1e90ff" stroke-width="1.3" fill="none" />
<path d="M210.4,626.3 L205.01,622.53 L209.64,619.76 Z" fill="#1e90ff"/>
<path d="M299.5,626 A47.45,47.45 0 0,1 380.12,622.05" stroke="#1e90ff" stroke-width="1.3" fill="none" />
<path d="M382,625 L376.64,621.18 L381.3,618.46 Z" fill="#1e90ff"/>
<path d="M484,626.5 A48.22,48.22 0 0,1 564.25,623.1" stroke="#1e90ff" stroke-width="1.3" fill="none" />
<path d="M566.2,626 L560.74,622.33 L565.32,619.48 Z" fill="#1e90ff"/>
<path d="M125.8,692.7 A46.67,46.67 0 0,1 205.77,688.92" stroke="#1e90ff" stroke-width="1.3" fill="none" />
<path d="M207.6,691.9 L202.31,687.99 L207.01,685.35 Z" fill="#1e90ff"/>
<path d="M300.8,692.7 A47.08,47.08 0 0,1 380.45,690.03" stroke="#1e90ff" stroke-width="1.3" fill="none" />
<path d="M382.3,693 L376.97,689.14 L381.66,686.45 Z" fill="#1e90ff"/>
<path d="M482.2,692.5 A47.78,47.78 0 0,1 562.59,689.06" stroke="#1e90ff" stroke-width="1.3" fill="none" />
<path d="M564.5,692 L559.1,688.24 L563.74,685.46 Z" fill="#1e90ff"/>
<text x="140.6" y="630.77" font-size="8.8" text-anchor="start" fill="#1414f0" font-weight="bold" >DMC activation</text>
<text x="298.7" y="632.87" font-size="8.8" text-anchor="start" fill="#1414f0" font-weight="bold" >Methanol formation</text>
<text x="504.2" y="631.07" font-size="8.8" text-anchor="start" fill="#1414f0" font-weight="bold" >-CH<tspan font-size="6" dy="2">3</tspan><tspan dy="-2">OH</tspan></text>
<text x="126.6" y="700.17" font-size="8.8" text-anchor="start" fill="#1414f0" font-weight="bold" >Methanol formation</text>
<text x="324.1" y="700.27" font-size="8.8" text-anchor="start" fill="#1414f0" font-weight="bold" >-CH<tspan font-size="6" dy="2">3</tspan><tspan dy="-2">OH</tspan></text>
<text x="486.5" y="698.97" font-size="8.8" text-anchor="start" fill="#1414f0" font-weight="bold" >1,2-BC formation</text>
<text x="508" y="729.67" font-size="8.8" text-anchor="start" fill="#1414f0" font-weight="bold" >isomerisation</text>
<path d="M481.5,719 L481.5,741.5 L649.4,741.5 L649.4,725.5" stroke="#d01818" stroke-width="1.1" fill="none" stroke-dasharray="3,2"/>
<path d="M649.4,719.2 L652.32,725.7 L646.48,725.7 Z" fill="#d01818"/>
<path d="M46.1,636 L51.5,626.1" stroke="#111" stroke-width="1.05" fill="none" />
<text x="53.1" y="626.53" font-size="6.2" text-anchor="middle" fill="#000" font-weight="bold" style="font-family:Liberation Serif,serif">O</text>
<path d="M55.1,624.3 L65.2,624.3" stroke="#111" stroke-width="1.05" fill="none" />
<path d="M67,624.3 L72.2,614.9" stroke="#111" stroke-width="1.05" fill="none" />
<text x="73.6" y="615.13" font-size="6.2" text-anchor="middle" fill="#000" font-weight="bold" style="font-family:Liberation Serif,serif">O</text>
<path d="M75.7,612.7 L87.4,612.6" stroke="#111" stroke-width="1.05" fill="none" />
<line x1="66.33" y1="624.73" x2="72.63" y2="634.53" stroke="#111" stroke-width="0.9" />
<line x1="67.67" y1="623.87" x2="73.97" y2="633.67" stroke="#111" stroke-width="0.9" />
<text x="74.3" y="638.32" font-size="5.6" text-anchor="middle" fill="#000" font-weight="bold" style="font-family:Liberation Serif,serif">O</text>
<path d="M75.2,638.2 L76.7,644.1" stroke="#111" stroke-width="1.05" fill="none" />
<text x="81.6" y="635.32" font-size="5.6" text-anchor="middle" fill="#000" font-weight="bold" style="font-family:Liberation Serif,serif">H</text>
<path d="M82.5,635.4 L85.9,644.6" stroke="#111" stroke-width="1.05" fill="none" />
<path d="M86.2,629.4 Q90.2,619.6 82.7,616.4" stroke="#111" stroke-width="1.05" fill="none" />
<path d="M78.2,614.9 L83.67,614.5 L82.13,618.72 Z" fill="#111"/>
<text x="97.8" y="625.69" font-size="5.8" text-anchor="middle" fill="#000" font-weight="bold" style="font-family:Liberation Serif,serif">HO</text>
<path d="M101.3,623.6 L110.3,627.9 L118.8,622.1 L114.3,611.1" stroke="#111" stroke-width="1.05" fill="none" />
<path d="M110.3,627.9 L112.3,638.1 L105.3,645.1" stroke="#111" stroke-width="1.05" fill="none" />
<path d="M222.5,638.1 L227,628.1" stroke="#111" stroke-width="1.05" fill="none" />
<text x="228" y="628.43" font-size="6.2" text-anchor="middle" fill="#000" font-weight="bold" style="font-family:Liberation Serif,serif">O</text>
<path d="M230.1,625.9 L239.6,624.6" stroke="#111" stroke-width="1.05" fill="none" />
<path d="M241.1,624.5 L245.6,613.9" stroke="#111" stroke-width="1.05" fill="none" />
<text x="246.6" y="614.03" font-size="6.2" text-anchor="middle" fill="#000" font-weight="bold" style="font-family:Liberation Serif,serif">O</text>
<path d="M248.6,611.6 L260.8,610.7" stroke="#111" stroke-width="1.05" fill="none" />
<text x="241.1" y="607.92" font-size="5.6" text-anchor="middle" fill="#000" font-weight="bold" style="font-family:Liberation Serif,serif">H</text>
<path d="M242.6,607.6 L245.1,610.1" stroke="#111" stroke-width="1.05" fill="none" />
<line x1="240.48" y1="625.01" x2="248.28" y2="634.41" stroke="#111" stroke-width="0.9" />
<line x1="241.72" y1="623.99" x2="249.52" y2="633.39" stroke="#111" stroke-width="0.9" />
<text x="249.9" y="637.92" font-size="5.6" text-anchor="middle" fill="#000" font-weight="bold" style="font-family:Liberation Serif,serif">O</text>
<path d="M251.1,637.9 L253.4,644.1" stroke="#111" stroke-width="1.05" fill="none" />
<text x="275.2" y="625.69" font-size="5.8" text-anchor="middle" fill="#000" font-weight="bold" style="font-family:Liberation Serif,serif">HO</text>
<path d="M278.7,623.6 L287.7,627.9 L296.2,622.1 L291.7,611.1" stroke="#111" stroke-width="1.05" fill="none" />
<path d="M287.7,627.9 L289.7,638.1 L282.7,645.1" stroke="#111" stroke-width="1.05" fill="none" />
<text x="388.1" y="635.62" font-size="5.6" text-anchor="middle" fill="#000" font-weight="bold" style="font-family:Liberation Serif,serif">H<tspan font-size="4.2" dy="1.5">3</tspan><tspan dy="-1.5">C</tspan></text>
<path d="M393.1,633.1 L398.1,634.1" stroke="#111" stroke-width="1.05" fill="none" />
<text x="400.5" y="636.63" font-size="6.2" text-anchor="middle" fill="#000" font-weight="bold" style="font-family:Liberation Serif,serif">O</text>
<text x="406.7" y="629.34" font-size="5.4" text-anchor="middle" fill="#000" font-weight="bold" style="font-family:Liberation Serif,serif">H</text>
<path d="M402.1,632.4 L405.1,629.1" stroke="#111" stroke-width="1.05" fill="none" />
<path d="M402.1,636.6 L406.6,644.1" stroke="#111" stroke-width="1.05" fill="none" />
<text x="422.1" y="635.62" font-size="5.6" text-anchor="middle" fill="#000" font-weight="bold" style="font-family:Liberation Serif,serif">O</text>
<path d="M422.9,635.6 L424.6,644.1" stroke="#111" stroke-width="1.05" fill="none" />
<line x1="422.89" y1="631.48" x2="421.19" y2="619.88" stroke="#111" stroke-width="0.9" />
<line x1="421.31" y1="631.72" x2="419.61" y2="620.12" stroke="#111" stroke-width="0.9" />
<path d="M420.4,620 L427.1,611" stroke="#111" stroke-width="1.05" fill="none" />
<text x="429.1" y="612.23" font-size="6.2" text-anchor="middle" fill="#000" font-weight="bold" style="font-family:Liberation Serif,serif">O</text>
<path d="M431.1,610.2 L441.5,613.8" stroke="#111" stroke-width="1.05" fill="none" />
<text x="446.2" y="625.69" font-size="5.8" text-anchor="middle" fill="#000" font-weight="bold" style="font-family:Liberation Serif,serif">HO</text>
<path d="M449.7,623.6 L458.7,627.9 L467.2,622.1 L462.7,611.1" stroke="#111" stroke-width="1.05" fill="none" />
<path d="M458.7,627.9 L460.7,638.1 L453.7,645.1" stroke="#111" stroke-width="1.05" fill="none" />
<text x="590.4" y="634.82" font-size="5.6" text-anchor="middle" fill="#000" font-weight="bold" style="font-family:Liberation Serif,serif">O</text>
<path d="M591.1,634.8 L592.8,644.1" stroke="#111" stroke-width="1.05" fill="none" />
<line x1="590.88" y1="630.64" x2="588.48" y2="619.14" stroke="#111" stroke-width="0.9" />
<line x1="589.32" y1="630.96" x2="586.92" y2="619.46" stroke="#111" stroke-width="0.9" />
<path d="M587.7,619.3 L594.8,610.4" stroke="#111" stroke-width="1.05" fill="none" />
<text x="597.2" y="611.63" font-size="6.2" text-anchor="middle" fill="#000" font-weight="bold" style="font-family:Liberation Serif,serif">O</text>
<path d="M599.3,609.6 L610.7,612.9" stroke="#111" stroke-width="1.05" fill="none" />
<text x="615.5" y="625.69" font-size="5.8" text-anchor="middle" fill="#000" font-weight="bold" style="font-family:Liberation Serif,serif">HO</text>
<path d="M619,623.6 L628,627.9 L636.5,622.1 L632,611.1" stroke="#111" stroke-width="1.05" fill="none" />
<path d="M628,627.9 L630,638.1 L623,645.1" stroke="#111" stroke-width="1.05" fill="none" />
<text x="67" y="682.92" font-size="5.6" text-anchor="middle" fill="#000" font-weight="bold" style="font-family:Liberation Serif,serif">H<tspan font-size="4.2" dy="1.5">3</tspan><tspan dy="-1.5">C</tspan></text>
<path d="M71.5,682.2 L76.5,685.5" stroke="#111" stroke-width="1.05" fill="none" />
<text x="78.8" y="688.22" font-size="5.6" text-anchor="middle" fill="#000" font-weight="bold" style="font-family:Liberation Serif,serif">O</text>
<path d="M76.5,687.3 L66,691.8" stroke="#111" stroke-width="1.05" fill="none" />
<text x="63.8" y="694.52" font-size="5.6" text-anchor="middle" fill="#000" font-weight="bold" style="font-family:Liberation Serif,serif">C</text>
<line x1="61.98" y1="693.89" x2="54.98" y2="699.89" stroke="#111" stroke-width="0.9" />
<line x1="63.02" y1="695.11" x2="56.02" y2="701.11" stroke="#111" stroke-width="0.9" />
<text x="53.9" y="704.52" font-size="5.6" text-anchor="middle" fill="#000" font-weight="bold" style="font-family:Liberation Serif,serif">O</text>
<path d="M54.5,704.5 L57.5,711.5" stroke="#111" stroke-width="1.05" fill="none" />
<path d="M78.8,688.5 L78.8,696" stroke="#111" stroke-width="1.05" fill="none" />
<text x="78.8" y="700.44" font-size="5.4" text-anchor="middle" fill="#000" font-weight="bold" style="font-family:Liberation Serif,serif">H</text>
<path d="M80.5,699.8 L86.5,702.8" stroke="#111" stroke-width="1.05" fill="none" />
<text x="88.8" y="705.82" font-size="5.6" text-anchor="middle" fill="#000" font-weight="bold" style="font-family:Liberation Serif,serif">O</text>
<path d="M89.5,706 L94.5,712" stroke="#111" stroke-width="1.05" fill="none" />
<path d="M90.8,702.8 L99.8,697.7 L97.7,686.7 L92.5,678.8" stroke="#111" stroke-width="1.05" fill="none" />
<path d="M99.8,697.7 L107.7,705.1 L105.5,711.5" stroke="#111" stroke-width="1.05" fill="none" />
<circle cx="103.8" cy="714.5" r="2.1" fill="#fff" stroke="#111" stroke-width="0.8" />
<text x="222.2" y="693.12" font-size="5.6" text-anchor="middle" fill="#000" font-weight="bold" style="font-family:Liberation Serif,serif">H<tspan font-size="4.2" dy="1.5">3</tspan><tspan dy="-1.5">C</tspan></text>
<path d="M227,691.5 L235,696" stroke="#111" stroke-width="1.05" fill="none" />
<text x="240.6" y="698.52" font-size="5.6" text-anchor="middle" fill="#000" font-weight="bold" style="font-family:Liberation Serif,serif">OH</text>
<path d="M270,713.5 L261,705" stroke="#111" stroke-width="1.05" fill="none" />
<text x="260" y="705.22" font-size="5.6" text-anchor="middle" fill="#000" font-weight="bold" style="font-family:Liberation Serif,serif">O</text>
<path d="M260.5,701 L264,691.5" stroke="#111" stroke-width="1.05" fill="none" />
<text x="264.9" y="691.22" font-size="5.6" text-anchor="middle" fill="#000" font-weight="bold" style="font-family:Liberation Serif,serif">C</text>
<path d="M267,688.5 L277.5,686" stroke="#111" stroke-width="1.05" fill="none" />
<text x="279.5" y="687.72" font-size="5.6" text-anchor="middle" fill="#000" font-weight="bold" style="font-family:Liberation Serif,serif">O</text>
<path d="M281.5,687 L289.7,694.6 L297.8,691.1 L295.7,678.9" stroke="#111" stroke-width="1.05" fill="none" />
<path d="M289.7,694.6 L288.4,708.1 L281.5,713" stroke="#111" stroke-width="1.05" fill="none" />
<path d="M453.3,714 L444.6,709.1 L445.5,696.3 L435.9,693.4 L436.7,682.3" stroke="#111" stroke-width="1.05" fill="none" />
<path d="M445.5,696.3 L453.8,691" stroke="#111" stroke-width="1.05" fill="none" />
<text x="455.4" y="692.42" font-size="5.6" text-anchor="middle" fill="#000" font-weight="bold" style="font-family:Liberation Serif,serif">O</text>
<path d="M457.3,691 L465.8,693.3" stroke="#111" stroke-width="1.05" fill="none" />
<text x="468" y="695.92" font-size="5.6" text-anchor="middle" fill="#000" font-weight="bold" style="font-family:Liberation Serif,serif">C</text>
<line x1="468.02" y1="696.18" x2="470.32" y2="706.18" stroke="#111" stroke-width="0.9" />
<line x1="469.58" y1="695.82" x2="471.88" y2="705.82" stroke="#111" stroke-width="0.9" />
<text x="471.8" y="710.02" font-size="5.6" text-anchor="middle" fill="#000" font-weight="bold" style="font-family:Liberation Serif,serif">O</text>
<path d="M574.3,676.5 L573.7,687 L584.2,692.1 L591.2,688.5" stroke="#111" stroke-width="1.05" fill="none" />
<text x="593.2" y="689.92" font-size="5.6" text-anchor="middle" fill="#000" font-weight="bold" style="font-family:Liberation Serif,serif">O</text>
<path d="M595,689.5 L600.5,695.5" stroke="#111" stroke-width="1.05" fill="none" />
<text x="602.2" y="699.52" font-size="5.6" text-anchor="middle" fill="#000" font-weight="bold" style="font-family:Liberation Serif,serif">C</text>
<path d="M600.5,699.5 L594,704" stroke="#111" stroke-width="1.05" fill="none" />
<text x="592.3" y="706.92" font-size="5.6" text-anchor="middle" fill="#000" font-weight="bold" style="font-family:Liberation Serif,serif">O</text>
<path d="M590.3,704.5 L584.2,703.4 L584.2,692.1" stroke="#111" stroke-width="1.05" fill="none" />
<line x1="603.85" y1="698.79" x2="610.65" y2="700.09" stroke="#111" stroke-width="0.9" />
<line x1="604.15" y1="697.21" x2="610.95" y2="698.51" stroke="#111" stroke-width="0.9" />
<text x="612.7" y="701.82" font-size="5.6" text-anchor="middle" fill="#000" font-weight="bold" style="font-family:Liberation Serif,serif">O</text>
<path d="M613.2,701.8 L615,712" stroke="#111" stroke-width="1.05" fill="none" />
<text x="1.8" y="753.6" font-size="19.5" text-anchor="start" fill="#111" font-weight="normal" >i</text>
<clipPath id="clipI"><rect x="18.1" y="751.1" width="166.0" height="92.39999999999998"/></clipPath>
<g clip-path="url(#clipI)">
<line x1="101.7" y1="751.1" x2="101.7" y2="843.5" stroke="#e8e8e8" stroke-width="0.5" />
<path d="M18.1,797.1 C23.92,797.1 45.18,797.53 53,797.1 C60.82,796.67 60.5,795.18 65,794.5 C69.5,793.82 75.83,792.75 80,793 C84.17,793.25 86.67,795.33 90,796 C93.33,796.67 95.83,796.92 100,797 C104.17,797.08 110,796.83 115,796.5 C120,796.17 124.17,795.17 130,795 C135.83,794.83 143.33,795.33 150,795.5 C156.67,795.67 164.33,795.75 170,796 C175.67,796.25 181.67,796.83 184,797" stroke="#c4c4c4" stroke-width="0.9" fill="none" />
<path d="M18.1,797.1 C23.92,797.1 45.18,796.78 53,797.1 C60.82,797.42 60.5,798.43 65,799 C69.5,799.57 75.83,800.67 80,800.5 C84.17,800.33 86.67,798.5 90,798 C93.33,797.5 95.83,797.33 100,797.5 C104.17,797.67 110,798.58 115,799 C120,799.42 124.17,799.92 130,800 C135.83,800.08 143.33,799.75 150,799.5 C156.67,799.25 164.33,798.92 170,798.5 C175.67,798.08 181.67,797.25 184,797" stroke="#f4d440" stroke-width="0.9" fill="none" />
<path d="M18.1,797.1 C23.92,797.1 45.68,796.62 53,797.1 C60.32,797.58 58.83,798.52 62,800 C65.17,801.48 68.92,803.42 72,806 C75.08,808.58 78.33,815.17 80.5,815.5 C82.67,815.83 83.53,810.98 85,808 C86.47,805.02 87.63,799.33 89.3,797.6 C90.97,795.87 93.3,797.53 95,797.6 C96.7,797.67 98.75,797.93 99.5,798 Q101.5,799 102,815 L102.4,850" stroke="#c8721e" stroke-width="1.1" fill="none" />
<path d="M102.7,850 L103.2,815 Q104,799 106,798.2 L111.5,798.2 Q113.3,799 113.8,815 L114.3,850" stroke="#c8721e" stroke-width="1.1" fill="none" />
<path d="M114.6,850 C114.7,844.17 114.88,823.25 115.2,815 C115.52,806.75 114.87,802.83 116.5,800.5 C118.13,798.17 121.08,801.08 125,801 C128.92,800.92 134.17,800.33 140,800 C145.83,799.67 152.67,799.42 160,799 C167.33,798.58 180,797.75 184,797.5" stroke="#c8721e" stroke-width="1" fill="none" />
<path d="M18.1,797.1 C23.92,797.1 45.18,797.95 53,797.1 C60.82,796.25 60.23,793.2 65,792 C69.77,790.8 77.43,789.23 81.6,789.9 C85.77,790.57 86.93,794.82 90,796 C93.07,797.18 98.33,796.83 100,797" stroke="#7fd8dc" stroke-width="0.8" fill="none" />
<path d="M18.1,797.1 C23.92,797.1 46.35,795.78 53,797.1 C59.65,798.42 56.5,801.85 58,805 C59.5,808.15 60.62,812.87 62,816 C63.38,819.13 64.8,823.63 66.3,823.8 C67.8,823.97 69.22,819.13 71,817 C72.78,814.87 75.23,812.42 77,811 C78.77,809.58 80.18,810.17 81.6,808.5 C83.02,806.83 84.22,802.87 85.5,801 C86.78,799.13 86.88,797.92 89.3,797.3 C91.72,796.68 97.55,796.85 100,797.3 C102.45,797.75 102.5,798.13 104,800 C105.5,801.87 107.5,808.5 109,808.5 C110.5,808.5 111.73,801.87 113,800 C114.27,798.13 115.1,797.3 116.6,797.3 C118.1,797.3 120.35,797.55 122,800 C123.65,802.45 125.2,803.67 126.5,812 C127.8,820.33 129.25,843.67 129.8,850" stroke="#2a9a2a" stroke-width="1" fill="none" />
<path d="M131,850 C131.53,848.2 133.03,840.53 134.2,839.2 C135.37,837.87 136.7,842.53 138,842 C139.3,841.47 139.9,838.67 142,836 C144.1,833.33 148.43,827 150.6,826 C152.77,825 153.37,829.7 155,830 C156.63,830.3 158.73,827.8 160.4,827.8 C162.07,827.8 163.53,830.12 165,830 C166.47,829.88 167.53,829.6 169.2,827.1 C170.87,824.6 173.2,818.85 175,815 C176.8,811.15 178.5,806.92 180,804 C181.5,801.08 183.33,798.58 184,797.5" stroke="#2a9a2a" stroke-width="1" fill="none" />
<path d="M18.1,797.1 C23.92,797.1 46.35,798.45 53,797.1 C59.65,795.75 56.5,792.52 58,789 C59.5,785.48 60.7,779.03 62,776 C63.3,772.97 64.63,770.8 65.8,770.8 C66.97,770.8 67.83,773.37 69,776 C70.17,778.63 71.47,785.6 72.8,786.6 C74.13,787.6 75.53,783.38 77,782 C78.47,780.62 80.1,777.3 81.6,778.3 C83.1,779.3 84.53,784.95 86,788 C87.47,791.05 88.73,795.17 90.4,796.6 C92.07,798.03 94.4,796.65 96,796.6 C97.6,796.55 99.33,796.35 100,796.3 Q102,795.5 102.4,780 L102.8,745" stroke="#2ec8d0" stroke-width="1.1" fill="none" />
<path d="M103.4,745 L103.9,780 Q104.5,794 106,793 Q108,786 109.5,786.5 Q111.5,788 112.5,794 Q113.5,795 113.8,780 L114.2,745" stroke="#2ec8d0" stroke-width="1.1" fill="none" />
<path d="M114.6,745 C114.73,751.67 115,776.42 115.4,785 C115.8,793.58 115.9,794.83 117,796.5 C118.1,798.17 120.42,797.75 122,795 C123.58,792.25 125.2,788.33 126.5,780 C127.8,771.67 129.25,750.83 129.8,745" stroke="#2ec8d0" stroke-width="1" fill="none" />
<path d="M131,745 C131.53,746.47 133.32,752.63 134.2,753.8 C135.08,754.97 135.33,751.63 136.3,752 C137.27,752.37 138.55,756 140,756 C141.45,756 143.67,752 145,752 C146.33,752 146.88,753.7 148,756 C149.12,758.3 150.53,764.53 151.7,765.8 C152.87,767.07 153.95,763.4 155,763.6 C156.05,763.8 156.73,766.82 158,767 C159.27,767.18 161.1,764.53 162.6,764.7 C164.1,764.87 165.53,766.9 167,768 C168.47,769.1 169.9,769.13 171.4,771.3 C172.9,773.47 174.57,777.72 176,781 C177.43,784.28 178.67,788.42 180,791 C181.33,793.58 183.33,795.58 184,796.5" stroke="#2ec8d0" stroke-width="1" fill="none" />
</g>
<rect x="18.1" y="751.1" width="166" height="92.4" fill="none" stroke="#999" stroke-width="0.8" />
<line x1="18.1" y1="843.5" x2="18.1" y2="842" stroke="#666" stroke-width="0.5" />
<text x="18.1" y="848.7" font-size="3.6" text-anchor="middle" fill="#333" font-weight="bold" >-10</text>
<line x1="34.7" y1="843.5" x2="34.7" y2="842" stroke="#666" stroke-width="0.5" />
<text x="34.7" y="848.7" font-size="3.6" text-anchor="middle" fill="#333" font-weight="bold" >-8</text>
<line x1="51.3" y1="843.5" x2="51.3" y2="842" stroke="#666" stroke-width="0.5" />
<text x="51.3" y="848.7" font-size="3.6" text-anchor="middle" fill="#333" font-weight="bold" >-6</text>
<line x1="67.9" y1="843.5" x2="67.9" y2="842" stroke="#666" stroke-width="0.5" />
<text x="67.9" y="848.7" font-size="3.6" text-anchor="middle" fill="#333" font-weight="bold" >-4</text>
<line x1="84.5" y1="843.5" x2="84.5" y2="842" stroke="#666" stroke-width="0.5" />
<text x="84.5" y="848.7" font-size="3.6" text-anchor="middle" fill="#333" font-weight="bold" >-2</text>
<line x1="101.1" y1="843.5" x2="101.1" y2="842" stroke="#666" stroke-width="0.5" />
<text x="101.1" y="848.7" font-size="3.6" text-anchor="middle" fill="#333" font-weight="bold" >0</text>
<line x1="117.7" y1="843.5" x2="117.7" y2="842" stroke="#666" stroke-width="0.5" />
<text x="117.7" y="848.7" font-size="3.6" text-anchor="middle" fill="#333" font-weight="bold" >2</text>
<line x1="134.3" y1="843.5" x2="134.3" y2="842" stroke="#666" stroke-width="0.5" />
<text x="134.3" y="848.7" font-size="3.6" text-anchor="middle" fill="#333" font-weight="bold" >4</text>
<line x1="150.9" y1="843.5" x2="150.9" y2="842" stroke="#666" stroke-width="0.5" />
<text x="150.9" y="848.7" font-size="3.6" text-anchor="middle" fill="#333" font-weight="bold" >6</text>
<line x1="167.5" y1="843.5" x2="167.5" y2="842" stroke="#666" stroke-width="0.5" />
<text x="167.5" y="848.7" font-size="3.6" text-anchor="middle" fill="#333" font-weight="bold" >8</text>
<line x1="184.1" y1="843.5" x2="184.1" y2="842" stroke="#666" stroke-width="0.5" />
<text x="184.1" y="848.7" font-size="3.6" text-anchor="middle" fill="#333" font-weight="bold" >10</text>
<line x1="18.1" y1="751.1" x2="19.6" y2="751.1" stroke="#666" stroke-width="0.5" />
<text x="12.6" y="752.4" font-size="3.6" text-anchor="middle" fill="#333" font-weight="bold" >0.5</text>
<line x1="18.1" y1="760.34" x2="19.6" y2="760.34" stroke="#666" stroke-width="0.5" />
<text x="12.6" y="761.64" font-size="3.6" text-anchor="middle" fill="#333" font-weight="bold" >0.4</text>
<line x1="18.1" y1="769.58" x2="19.6" y2="769.58" stroke="#666" stroke-width="0.5" />
<text x="12.6" y="770.88" font-size="3.6" text-anchor="middle" fill="#333" font-weight="bold" >0.3</text>
<line x1="18.1" y1="778.82" x2="19.6" y2="778.82" stroke="#666" stroke-width="0.5" />
<text x="12.6" y="780.12" font-size="3.6" text-anchor="middle" fill="#333" font-weight="bold" >0.2</text>
<line x1="18.1" y1="788.06" x2="19.6" y2="788.06" stroke="#666" stroke-width="0.5" />
<text x="12.6" y="789.36" font-size="3.6" text-anchor="middle" fill="#333" font-weight="bold" >0.1</text>
<line x1="18.1" y1="797.3" x2="19.6" y2="797.3" stroke="#666" stroke-width="0.5" />
<text x="12.6" y="798.6" font-size="3.6" text-anchor="middle" fill="#333" font-weight="bold" >0.0</text>
<line x1="18.1" y1="806.54" x2="19.6" y2="806.54" stroke="#666" stroke-width="0.5" />
<text x="12.6" y="807.84" font-size="3.6" text-anchor="middle" fill="#333" font-weight="bold" >-0.1</text>
<line x1="18.1" y1="815.78" x2="19.6" y2="815.78" stroke="#666" stroke-width="0.5" />
<text x="12.6" y="817.08" font-size="3.6" text-anchor="middle" fill="#333" font-weight="bold" >-0.2</text>
<line x1="18.1" y1="825.02" x2="19.6" y2="825.02" stroke="#666" stroke-width="0.5" />
<text x="12.6" y="826.32" font-size="3.6" text-anchor="middle" fill="#333" font-weight="bold" >-0.3</text>
<line x1="18.1" y1="834.26" x2="19.6" y2="834.26" stroke="#666" stroke-width="0.5" />
<text x="12.6" y="835.56" font-size="3.6" text-anchor="middle" fill="#333" font-weight="bold" >-0.4</text>
<line x1="18.1" y1="843.5" x2="19.6" y2="843.5" stroke="#666" stroke-width="0.5" />
<text x="12.6" y="844.8" font-size="3.6" text-anchor="middle" fill="#333" font-weight="bold" >-0.5</text>
<text x="100.7" y="856.84" font-size="6.5" text-anchor="middle" fill="#333" font-weight="normal" >Energy (eV)</text>
<text transform="translate(4.2,797) rotate(-90)" x="0" y="2.3" font-size="6.4" text-anchor="middle" fill="#333" font-weight="normal">Dnesity of state  (a.u.)</text>
<line x1="19.7" y1="755.1" x2="28.9" y2="755.1" stroke="#2ec8d0" stroke-width="1.2" />
<text x="30.2" y="756.47" font-size="3.8" text-anchor="start" fill="#555" font-weight="normal" >s-up</text>
<line x1="19.7" y1="760.34" x2="28.9" y2="760.34" stroke="#e8a050" stroke-width="1.2" />
<text x="30.2" y="761.71" font-size="3.8" text-anchor="start" fill="#555" font-weight="normal" >s-down</text>
<line x1="19.7" y1="765.58" x2="28.9" y2="765.58" stroke="#c4c4c4" stroke-width="1.2" />
<text x="30.2" y="766.95" font-size="3.8" text-anchor="start" fill="#555" font-weight="normal" >p-up</text>
<line x1="19.7" y1="770.82" x2="28.9" y2="770.82" stroke="#f4d440" stroke-width="1.2" />
<text x="30.2" y="772.19" font-size="3.8" text-anchor="start" fill="#555" font-weight="normal" >p-down</text>
<line x1="19.7" y1="776.06" x2="28.9" y2="776.06" stroke="#2ec8d0" stroke-width="1.2" />
<text x="30.2" y="777.43" font-size="3.8" text-anchor="start" fill="#555" font-weight="normal" >d-up</text>
<line x1="19.7" y1="781.3" x2="28.9" y2="781.3" stroke="#2a9a2a" stroke-width="1.2" />
<text x="30.2" y="782.67" font-size="3.8" text-anchor="start" fill="#555" font-weight="normal" >d-down</text>
<line x1="19.7" y1="786.54" x2="28.9" y2="786.54" stroke="#50d0d0" stroke-width="1.2" />
<text x="30.2" y="787.91" font-size="3.8" text-anchor="start" fill="#555" font-weight="normal" >f-up</text>
<line x1="19.7" y1="791.78" x2="28.9" y2="791.78" stroke="#c8721e" stroke-width="1.2" />
<text x="30.2" y="793.15" font-size="3.8" text-anchor="start" fill="#555" font-weight="normal" >f-down</text>
<rect x="85.5" y="780.7" width="43.2" height="34.8" fill="none" stroke="#1a1aff" stroke-width="1.3" stroke-dasharray="3.5,2.2"/>
<line x1="128.7" y1="780.7" x2="206.3" y2="748.1" stroke="#1a1aff" stroke-width="1.3" />
<line x1="128.7" y1="815.5" x2="206.3" y2="849.5" stroke="#1a1aff" stroke-width="1.3" />
<clipPath id="clipBI"><rect x="206.3" y="748.1" width="145.39999999999998" height="101.39999999999998"/></clipPath>
<g clip-path="url(#clipBI)">
<line x1="206.3" y1="794.9" x2="351.7" y2="794.9" stroke="#e6e6e6" stroke-width="0.5" />
<line x1="250.5" y1="748.1" x2="250.5" y2="849.5" stroke="#e6e6e6" stroke-width="0.5" />
<path d="M206.3,789 C210.25,789.58 222.72,791.67 230,792.5 C237.28,793.33 244.17,794.17 250,794 C255.83,793.83 260.6,792.33 265,791.5 C269.4,790.67 272.23,788.83 276.4,789 C280.57,789.17 286.07,791.75 290,792.5 C293.93,793.25 295,793.92 300,793.5 C305,793.08 313.33,791.08 320,790 C326.67,788.92 334.72,787.58 340,787 C345.28,786.42 349.75,786.58 351.7,786.5" stroke="#c4c4c4" stroke-width="1.3" fill="none" />
<path d="M206.3,800 C210.25,799.5 222.72,797.58 230,797 C237.28,796.42 244.17,796.33 250,796.5 C255.83,796.67 260.6,797.55 265,798 C269.4,798.45 272.23,799.28 276.4,799.2 C280.57,799.12 286.07,797.95 290,797.5 C293.93,797.05 295,796.17 300,796.5 C305,796.83 313.33,798.75 320,799.5 C326.67,800.25 334.72,800.65 340,801 C345.28,801.35 349.75,801.5 351.7,801.6" stroke="#f4d440" stroke-width="1.3" fill="none" />
<path d="M206.3,788 C207.75,789.33 207.72,794.75 215,796 C222.28,797.25 239.83,795.33 250,795.5 C260.17,795.67 267.67,796.83 276,797 C284.33,797.17 292.67,796.75 300,796.5 C307.33,796.25 311.38,795.67 320,795.5 C328.62,795.33 346.42,795.5 351.7,795.5" stroke="#f0a040" stroke-width="1.3" fill="none" />
<path d="M206.3,829.9 C207.25,826.58 209.57,815.73 212,810 C214.43,804.27 217.07,798 220.9,795.5 C224.73,793 230.82,794.92 235,795 C239.18,795.08 243.58,794.17 246,796 C248.42,797.83 248.58,800.33 249.5,806 C250.42,811.67 250.92,821 251.5,830 C252.08,839 252.75,855 253,860" stroke="#c8721e" stroke-width="1.6" fill="none" />
<path d="M293,860 C293.25,855 293.92,839.67 294.5,830 C295.08,820.33 295.63,807.75 296.5,802 C297.37,796.25 298.12,796 299.7,795.5 C301.28,795 302.6,796.92 306,799 C309.4,801.08 316.1,806.83 320.1,808 C324.1,809.17 326.68,806.42 330,806 C333.32,805.58 336.38,805.42 340,805.5 C343.62,805.58 349.75,806.33 351.7,806.5" stroke="#c8721e" stroke-width="1.6" fill="none" />
<path d="M206.3,800 C207.75,799.5 210.22,797.75 215,797 C219.78,796.25 229.17,795.5 235,795.5 C240.83,795.5 246.17,795.42 250,797 C253.83,798.58 255.33,800.67 258,805 C260.67,809.33 263.33,818.22 266,823 C268.67,827.78 271.33,833.37 274,833.7 C276.67,834.03 279.33,829.78 282,825 C284.67,820.22 287.53,809.92 290,805 C292.47,800.08 294.3,796.67 296.8,795.5 C299.3,794.33 301.97,795.58 305,798 C308.03,800.42 311.67,804.33 315,810 C318.33,815.67 322.43,823.67 325,832 C327.57,840.33 329.5,855.33 330.4,860" stroke="#2a9a2a" stroke-width="1.6" fill="none" />
<path d="M206.3,758 C207.25,761 210.05,770.5 212,776 C213.95,781.5 216.03,787.83 218,791 C219.97,794.17 220.13,794.33 223.8,795 C227.47,795.67 236.3,795.83 240,795 C243.7,794.17 244.5,794.17 246,790 C247.5,785.83 248.08,778.33 249,770 C249.92,761.67 251.08,745 251.5,740" stroke="#2ec8d0" stroke-width="1.6" fill="none" />
<path d="M248,740 C248.33,745 249.17,761.67 250,770 C250.83,778.33 251.67,785.83 253,790 C254.33,794.17 256.17,795.83 258,795 C259.83,794.17 262.33,789.5 264,785 C265.67,780.5 266.33,772.83 268,768 C269.67,763.17 272,756 274,756 C276,756 277.83,762.5 280,768 C282.17,773.5 285,784.5 287,789 C289,793.5 290.5,794.83 292,795 C293.5,795.17 295.17,794.17 296,790 C296.83,785.83 296.83,773.33 297,770" stroke="#2ec8d0" stroke-width="1.6" fill="none" />
<path d="M294.5,740 C294.67,745.83 294.92,766.17 295.5,775 C296.08,783.83 296.92,789.67 298,793 C299.08,796.33 300,795.5 302,795 C304,794.5 307,794.17 310,790 C313,785.83 316.6,778.33 320,770 C323.4,761.67 328.67,745 330.4,740" stroke="#2ec8d0" stroke-width="1.6" fill="none" />
<path d="M300,795 C302.5,794.17 310.83,791.67 315,790 C319.17,788.33 321.67,786.62 325,785 C328.33,783.38 331.67,780.97 335,780.3 C338.33,779.63 342.22,781.05 345,781 C347.78,780.95 350.58,780.17 351.7,780" stroke="#3cc8c8" stroke-width="1.4" fill="none" />
</g>
<rect x="206.3" y="748.1" width="145.4" height="101.4" fill="none" stroke="#1a1aff" stroke-width="1.8" />
<ellipse cx="250.1" cy="795.7" rx="17.5" ry="24.8" fill="none" stroke="#f03030" stroke-width="1.4" stroke-dasharray="3.5,2.5"/>
<text x="1.8" y="864.4" font-size="19.5" text-anchor="start" fill="#111" font-weight="normal" >j</text>
<clipPath id="clipJ"><rect x="18.1" y="862.2" width="167.6" height="91.89999999999998"/></clipPath>
<g clip-path="url(#clipJ)">
<line x1="102.4" y1="862.2" x2="102.4" y2="954.1" stroke="#e8e8e8" stroke-width="0.5" />
<path d="M18.1,908.1 C18.75,908 20.02,907.85 22,907.5 C23.98,907.15 25.33,906.58 30,906 C34.67,905.42 43.98,904.62 50,904 C56.02,903.38 61.93,902.13 66.1,902.3 C70.27,902.47 72.35,904.03 75,905 C77.65,905.97 76.17,907.77 82,908.1 C87.83,908.43 102,907.27 110,907 C118,906.73 121.67,906.58 130,906.5 C138.33,906.42 150.72,906.5 160,906.5 C169.28,906.5 181.42,906.5 185.7,906.5" stroke="#c4c4c4" stroke-width="0.9" fill="none" />
<path d="M18.1,908.1 C18.75,908.18 20.02,908.28 22,908.6 C23.98,908.92 25.33,909.43 30,910 C34.67,910.57 43.98,911.37 50,912 C56.02,912.63 61.93,913.97 66.1,913.8 C70.27,913.63 72.35,911.95 75,911 C77.65,910.05 76.17,908.35 82,908.1 C87.83,907.85 102,909.27 110,909.5 C118,909.73 121.67,909.5 130,909.5 C138.33,909.5 150.72,909.58 160,909.5 C169.28,909.42 181.42,909.08 185.7,909" stroke="#f4d440" stroke-width="0.9" fill="none" />
<path d="M18.1,908.1 C18.75,908.22 20.02,908.4 22,908.8 C23.98,909.2 27,909.8 30,910.5 C33,911.2 36.12,912.03 40,913 C43.88,913.97 49.97,915.13 53.3,916.3 C56.63,917.47 57.65,918.72 60,920 C62.35,921.28 65.07,924.67 67.4,924 C69.73,923.33 71.57,918.65 74,916 C76.43,913.35 79.33,909.27 82,908.1 C84.67,906.93 87.53,907.63 90,909 C92.47,910.37 95.03,915.5 96.8,916.3 C98.57,917.1 99.6,912.35 100.6,913.8 C101.6,915.25 102.17,917.3 102.8,925 C103.43,932.7 104.13,954.17 104.4,960" stroke="#c8721e" stroke-width="1" fill="none" />
<path d="M123.3,960 C123.58,955 124.22,937.67 125,930 C125.78,922.33 126.67,917.58 128,914 C129.33,910.42 130.17,909.08 133,908.5 C135.83,907.92 139.12,909.97 145,910.5 C150.88,911.03 161.52,911.7 168.3,911.7 C175.08,911.7 182.8,910.7 185.7,910.5" stroke="#c8721e" stroke-width="1" fill="none" />
<path d="M18.1,908.1 C18.58,908.42 20.02,908.93 21,910 C21.98,911.07 22.83,912.5 24,914.5 C25.17,916.5 26.5,919.58 28,922 C29.5,924.42 31.33,927.48 33,929 C34.67,930.52 36,931.27 38,931.1 C40,930.93 42.45,929.4 45,928 C47.55,926.6 49.78,924.22 53.3,922.7 C56.82,921.18 62.65,920.52 66.1,918.9 C69.55,917.28 71.45,914.8 74,913 C76.55,911.2 77.9,908.68 81.4,908.1 C84.9,907.52 91.07,908.85 95,909.5 C98.93,910.15 101.73,910.22 105,912 C108.27,913.78 111.93,920.03 114.6,920.2 C117.27,920.37 118.87,914.8 121,913 C123.13,911.2 125.57,909.73 127.4,909.4 C129.23,909.07 130.72,910.07 132,911 C133.28,911.93 132.93,911 135.1,915 C137.27,919 141.82,927.83 145,935 C148.18,942.17 152.67,954.17 154.2,958" stroke="#2a9a2a" stroke-width="1" fill="none" />
<path d="M176,958 C176.67,956.67 178.38,953.53 180,950 C181.62,946.47 184.75,939 185.7,936.8" stroke="#2a9a2a" stroke-width="1" fill="none" />
<path d="M18.1,908.1 C18.58,907.75 20.02,907.1 21,906 C21.98,904.9 22.83,903.5 24,901.5 C25.17,899.5 26.5,896.42 28,894 C29.5,891.58 31.33,888.48 33,887 C34.67,885.52 36,884.93 38,885.1 C40,885.27 42.45,886.42 45,888 C47.55,889.58 49.78,892.87 53.3,894.6 C56.82,896.33 62.65,897 66.1,898.4 C69.55,899.8 71.45,901.38 74,903 C76.55,904.62 77.9,907.27 81.4,908.1 C84.9,908.93 91.58,908.12 95,908 C98.42,907.88 99.9,908.23 101.9,907.4 C103.9,906.57 105.08,904.92 107,903 C108.92,901.08 111.4,896.4 113.4,895.9 C115.4,895.4 117.08,898.52 119,900 C120.92,901.48 122.22,904 124.9,904.8 C127.58,905.6 129.25,904.6 135.1,904.8 C140.95,905 151.57,905.78 160,906 C168.43,906.22 181.42,906.08 185.7,906.1" stroke="#1aa0a0" stroke-width="1" fill="none" />
<path d="M18.1,908.1 C18.75,907.97 19.18,907.98 22,907.3 C24.82,906.62 29.78,905.13 35,904 C40.22,902.87 48.8,902 53.3,900.5 C57.8,899 59.43,896.42 62,895 C64.57,893.58 66.53,891.17 68.7,892 C70.87,892.83 72.78,897.32 75,900 C77.22,902.68 79.5,907.27 82,908.1 C84.5,908.93 87.45,906.82 90,905 C92.55,903.18 95.47,897.7 97.3,897.2 C99.13,896.7 99.98,904.87 101,902 C102.02,899.13 102.8,887.83 103.4,880 C104,872.17 104.4,859.17 104.6,855" stroke="#2ec8d0" stroke-width="1" fill="none" />
<path d="M123,855 C123.25,860 123.83,877.83 124.5,885 C125.17,892.17 125.45,894.92 127,898 C128.55,901.08 131.97,903.5 133.8,903.5 C135.63,903.5 136.52,900.55 138,898 C139.48,895.45 141.2,892.53 142.7,888.2 C144.2,883.87 145.72,877.53 147,872 C148.28,866.47 149.83,857.83 150.4,855" stroke="#2ec8d0" stroke-width="1" fill="none" />
<path d="M178,855 C178.5,856.83 179.72,862.6 181,866 C182.28,869.4 184.92,873.83 185.7,875.4" stroke="#2ec8d0" stroke-width="1" fill="none" />
</g>
<rect x="18.1" y="862.2" width="167.6" height="91.9" fill="none" stroke="#999" stroke-width="0.8" />
<line x1="18.1" y1="954.1" x2="18.1" y2="952.6" stroke="#666" stroke-width="0.5" />
<text x="18.1" y="959.7" font-size="3.6" text-anchor="middle" fill="#333" font-weight="bold" >-6</text>
<line x1="46.04" y1="954.1" x2="46.04" y2="952.6" stroke="#666" stroke-width="0.5" />
<text x="46.04" y="959.7" font-size="3.6" text-anchor="middle" fill="#333" font-weight="bold" >-4</text>
<line x1="73.98" y1="954.1" x2="73.98" y2="952.6" stroke="#666" stroke-width="0.5" />
<text x="73.98" y="959.7" font-size="3.6" text-anchor="middle" fill="#333" font-weight="bold" >-2</text>
<line x1="101.92" y1="954.1" x2="101.92" y2="952.6" stroke="#666" stroke-width="0.5" />
<text x="101.92" y="959.7" font-size="3.6" text-anchor="middle" fill="#333" font-weight="bold" >0</text>
<line x1="129.86" y1="954.1" x2="129.86" y2="952.6" stroke="#666" stroke-width="0.5" />
<text x="129.86" y="959.7" font-size="3.6" text-anchor="middle" fill="#333" font-weight="bold" >2</text>
<line x1="157.8" y1="954.1" x2="157.8" y2="952.6" stroke="#666" stroke-width="0.5" />
<text x="157.8" y="959.7" font-size="3.6" text-anchor="middle" fill="#333" font-weight="bold" >4</text>
<line x1="185.74" y1="954.1" x2="185.74" y2="952.6" stroke="#666" stroke-width="0.5" />
<text x="185.74" y="959.7" font-size="3.6" text-anchor="middle" fill="#333" font-weight="bold" >6</text>
<line x1="18.1" y1="862.2" x2="19.6" y2="862.2" stroke="#666" stroke-width="0.5" />
<text x="12.6" y="863.5" font-size="3.6" text-anchor="middle" fill="#333" font-weight="bold" >0.5</text>
<line x1="18.1" y1="871.39" x2="19.6" y2="871.39" stroke="#666" stroke-width="0.5" />
<text x="12.6" y="872.69" font-size="3.6" text-anchor="middle" fill="#333" font-weight="bold" >0.4</text>
<line x1="18.1" y1="880.58" x2="19.6" y2="880.58" stroke="#666" stroke-width="0.5" />
<text x="12.6" y="881.88" font-size="3.6" text-anchor="middle" fill="#333" font-weight="bold" >0.3</text>
<line x1="18.1" y1="889.77" x2="19.6" y2="889.77" stroke="#666" stroke-width="0.5" />
<text x="12.6" y="891.07" font-size="3.6" text-anchor="middle" fill="#333" font-weight="bold" >0.2</text>
<line x1="18.1" y1="898.96" x2="19.6" y2="898.96" stroke="#666" stroke-width="0.5" />
<text x="12.6" y="900.26" font-size="3.6" text-anchor="middle" fill="#333" font-weight="bold" >0.1</text>
<line x1="18.1" y1="908.15" x2="19.6" y2="908.15" stroke="#666" stroke-width="0.5" />
<text x="12.6" y="909.45" font-size="3.6" text-anchor="middle" fill="#333" font-weight="bold" >0.0</text>
<line x1="18.1" y1="917.34" x2="19.6" y2="917.34" stroke="#666" stroke-width="0.5" />
<text x="12.6" y="918.64" font-size="3.6" text-anchor="middle" fill="#333" font-weight="bold" >-0.1</text>
<line x1="18.1" y1="926.53" x2="19.6" y2="926.53" stroke="#666" stroke-width="0.5" />
<text x="12.6" y="927.83" font-size="3.6" text-anchor="middle" fill="#333" font-weight="bold" >-0.2</text>
<line x1="18.1" y1="935.72" x2="19.6" y2="935.72" stroke="#666" stroke-width="0.5" />
<text x="12.6" y="937.02" font-size="3.6" text-anchor="middle" fill="#333" font-weight="bold" >-0.3</text>
<line x1="18.1" y1="944.91" x2="19.6" y2="944.91" stroke="#666" stroke-width="0.5" />
<text x="12.6" y="946.21" font-size="3.6" text-anchor="middle" fill="#333" font-weight="bold" >-0.4</text>
<line x1="18.1" y1="954.1" x2="19.6" y2="954.1" stroke="#666" stroke-width="0.5" />
<text x="12.6" y="955.4" font-size="3.6" text-anchor="middle" fill="#333" font-weight="bold" >-0.5</text>
<text x="100.7" y="967.14" font-size="6.5" text-anchor="middle" fill="#333" font-weight="normal" >Energy (eV)</text>
<text transform="translate(4.2,908) rotate(-90)" x="0" y="2.3" font-size="6.4" text-anchor="middle" fill="#333" font-weight="normal">Dnesity of state  (a.u.)</text>
<line x1="154.2" y1="865.3" x2="163.7" y2="865.3" stroke="#1aa0a0" stroke-width="1" />
<text x="165.2" y="866.6" font-size="3.6" text-anchor="start" fill="#333" font-weight="normal" >s-up</text>
<line x1="154.2" y1="870.57" x2="163.7" y2="870.57" stroke="#f5c28a" stroke-width="1" />
<text x="165.2" y="871.87" font-size="3.6" text-anchor="start" fill="#333" font-weight="normal" >s-down</text>
<line x1="154.2" y1="875.84" x2="163.7" y2="875.84" stroke="#c4c4c4" stroke-width="1" />
<text x="165.2" y="877.14" font-size="3.6" text-anchor="start" fill="#333" font-weight="normal" >p-up</text>
<line x1="154.2" y1="881.11" x2="163.7" y2="881.11" stroke="#f4d440" stroke-width="1" />
<text x="165.2" y="882.41" font-size="3.6" text-anchor="start" fill="#333" font-weight="normal" >p-down</text>
<line x1="154.2" y1="886.38" x2="163.7" y2="886.38" stroke="#1aa0a0" stroke-width="1" />
<text x="165.2" y="887.68" font-size="3.6" text-anchor="start" fill="#333" font-weight="normal" >d-up</text>
<line x1="154.2" y1="891.65" x2="163.7" y2="891.65" stroke="#2a9a2a" stroke-width="1" />
<text x="165.2" y="892.95" font-size="3.6" text-anchor="start" fill="#333" font-weight="normal" >d-down</text>
<line x1="154.2" y1="896.92" x2="163.7" y2="896.92" stroke="#2ec8d0" stroke-width="1" />
<text x="165.2" y="898.22" font-size="3.6" text-anchor="start" fill="#333" font-weight="normal" >f-up</text>
<line x1="154.2" y1="902.19" x2="163.7" y2="902.19" stroke="#c8721e" stroke-width="1" />
<text x="165.2" y="903.49" font-size="3.6" text-anchor="start" fill="#333" font-weight="normal" >f-down</text>
<rect x="86" y="892" width="49.6" height="30" fill="none" stroke="#1a1aff" stroke-width="1.3" stroke-dasharray="3.5,2.2"/>
<line x1="135.6" y1="892" x2="206.3" y2="857.3" stroke="#1a1aff" stroke-width="1.3" />
<line x1="135.6" y1="922" x2="206.3" y2="959.7" stroke="#1a1aff" stroke-width="1.3" />
<clipPath id="clipBJ"><rect x="206.3" y="857.3" width="146.0" height="102.40000000000009"/></clipPath>
<g clip-path="url(#clipBJ)">
<line x1="276.4" y1="857.3" x2="276.4" y2="959.7" stroke="#e6e6e6" stroke-width="0.6" />
<path d="M206.3,904 C208.58,904.42 214.65,905.8 220,906.5 C225.35,907.2 231.73,908.12 238.4,908.2 C245.07,908.28 253.07,907.12 260,907 C266.93,906.88 271.68,907.85 280,907.5 C288.32,907.15 301.57,905.07 309.9,904.9 C318.23,904.73 322.93,906.23 330,906.5 C337.07,906.77 348.58,906.5 352.3,906.5" stroke="#c4c4c4" stroke-width="1.4" fill="none" />
<path d="M206.3,913 C208.58,912.58 214.65,911.2 220,910.5 C225.35,909.8 231.73,908.88 238.4,908.8 C245.07,908.72 253.07,909.72 260,910 C266.93,910.28 271.68,910.05 280,910.5 C288.32,910.95 301.57,912.62 309.9,912.7 C318.23,912.78 322.93,911.28 330,911 C337.07,910.72 348.58,911 352.3,911" stroke="#f4d440" stroke-width="1.4" fill="none" />
<path d="M206.3,883 C207.75,885 211.72,891.33 215,895 C218.28,898.67 222.1,902.78 226,905 C229.9,907.22 234.07,909.13 238.4,908.3 C242.73,907.47 248.73,903.88 252,900 C255.27,896.12 255.88,890.77 258,885 C260.12,879.23 262.7,867.9 264.7,865.4 C266.7,862.9 268.65,868.63 270,870 C271.35,871.37 271.88,874.43 272.8,873.6 C273.72,872.77 274.72,868.93 275.5,865 C276.28,861.07 277.17,852.5 277.5,850" stroke="#2ec8d0" stroke-width="1.6" fill="none" />
<path d="M340,850 C340.33,851.33 341,854.67 342,858 C343,861.33 344.28,865.83 346,870 C347.72,874.17 351.25,880.83 352.3,883" stroke="#2ec8d0" stroke-width="1.6" fill="none" />
<path d="M206.3,899 C208.92,900 216.65,903.43 222,905 C227.35,906.57 233.73,908.4 238.4,908.4 C243.07,908.4 245.62,905.83 250,905 C254.38,904.17 259.82,903.18 264.7,903.4 C269.58,903.62 274.75,908.53 279.3,906.3 C283.85,904.07 288.55,896.05 292,890 C295.45,883.95 297.02,874.48 300,870 C302.98,865.52 306.57,862.77 309.9,863.1 C313.23,863.43 316.65,867.02 320,872 C323.35,876.98 327.05,888 330,893 C332.95,898 333.98,900.75 337.7,902 C341.42,903.25 349.87,900.75 352.3,900.5" stroke="#1aa0a0" stroke-width="1.6" fill="none" />
<path d="M206.3,918 C208.92,916.92 216.65,913.07 222,911.5 C227.35,909.93 232.07,908.93 238.4,908.6 C244.73,908.27 253.18,909.15 260,909.5 C266.82,909.85 273.97,907.28 279.3,910.7 C284.63,914.12 288.55,923.78 292,930 C295.45,936.22 297.02,943.92 300,948 C302.98,952.08 306.57,955 309.9,954.5 C313.23,954 316.65,950.42 320,945 C323.35,939.58 327.05,927 330,922 C332.95,917 333.98,916.17 337.7,915 C341.42,913.83 349.87,915 352.3,915" stroke="#2a9a2a" stroke-width="1.6" fill="none" />
<path d="M206.3,935.5 C207.75,932.92 211.72,924.08 215,920 C218.28,915.92 222.33,912.92 226,911 C229.67,909.08 233.33,907.83 237,908.5 C240.67,909.17 244.83,911.42 248,915 C251.17,918.58 253.47,925.37 256,930 C258.53,934.63 261.2,941.63 263.2,942.8 C265.2,943.97 266.4,938.95 268,937 C269.6,935.05 271.47,929.77 272.8,931.1 C274.13,932.43 275.17,939.35 276,945 C276.83,950.65 277.5,961.67 277.8,965" stroke="#c8721e" stroke-width="1.6" fill="none" />
<path d="M342,965 C342.5,962.5 344,954.17 345,950 C346,945.83 346.78,942.67 348,940 C349.22,937.33 351.58,935 352.3,934" stroke="#c8721e" stroke-width="1.6" fill="none" />
</g>
<rect x="206.3" y="857.3" width="146" height="102.4" fill="none" stroke="#1a1aff" stroke-width="1.8" />
<ellipse cx="263.2" cy="908.6" rx="23.4" ry="46.1" fill="none" stroke="#f03030" stroke-width="1.4" stroke-dasharray="3.5,2.5"/>
<text x="372" y="764" font-size="17" text-anchor="start" fill="#111" font-weight="normal" >k</text>
<rect x="397" y="865.7" width="280.6" height="86.6" fill="#fff2a5" stroke="none" stroke-width="1" />
<path d="M545.5,798.5 L555.5,810.5 L555.2,829.5 L541.5,833.5" stroke="#222" stroke-width="1.1" fill="none" />
<path d="M555.2,829.5 L565,845 L563.5,853" stroke="#222" stroke-width="1.1" fill="none" />
<text x="530.8" y="838.42" font-size="10.6" text-anchor="middle" fill="#222" font-weight="normal" >HO</text>
<text x="591.6" y="828.42" font-size="10.6" text-anchor="middle" fill="#222" font-weight="normal" >H<tspan font-size="7.5" dy="2.8">3</tspan><tspan dy="-2.8">C</tspan></text>
<text x="609.3" y="813.62" font-size="10.6" text-anchor="middle" fill="#222" font-weight="normal" >O</text>
<text x="640" y="801.52" font-size="10.6" text-anchor="middle" fill="#222" font-weight="normal" >O</text>
<text x="664" y="805.82" font-size="10.6" text-anchor="middle" fill="#222" font-weight="normal" >CH<tspan font-size="7.5" dy="2.8">3</tspan></text>
<text x="634.4" y="833.72" font-size="10.6" text-anchor="middle" fill="#222" font-weight="normal" >O</text>
<path d="M599.5,820.5 L606,813.5" stroke="#222" stroke-width="1.1" fill="none" />
<path d="M613.5,810.5 L628.8,812.5 L636,801.5" stroke="#222" stroke-width="1.1" fill="none" />
<path d="M645,798.5 L654.5,799.5" stroke="#222" stroke-width="1.1" fill="none" />
<path d="M627.3,813 L632.8,824 M630.3,811.8 L635.8,822.8" stroke="#222" stroke-width="1" fill="none" />
<path d="M636.5,835 L643.5,846" stroke="#333" stroke-width="1.3" fill="none" stroke-dasharray="1,1.3"/>
<text x="592" y="847.02" font-size="10.6" text-anchor="middle" fill="#222" font-weight="normal" >H</text>
<path d="M597,847 L607.5,857" stroke="#333" stroke-width="1.3" fill="none" stroke-dasharray="1,1.3"/>
<circle cx="469.4" cy="823.9" r="24.7" fill="#7030a0" stroke="none" stroke-width="1" />
<text x="469.6" y="829.84" font-size="16.5" text-anchor="middle" fill="#f4eaf8" font-weight="normal" >Bi</text>
<path d="M460.7,848 L456.3,859.6 M477.7,848 L482.6,859.6" stroke="#555" stroke-width="0.8" fill="none" />
<path d="M466.79,853.79 A30,30 0 0,0 493.04,842.37" stroke="#1f2fe6" stroke-width="1.6" fill="none" stroke-dasharray="4,2.6"/>
<path d="M466.31,859.26 A35.5,35.5 0 0,0 497.37,845.76" stroke="#1f2fe6" stroke-width="1.6" fill="none" stroke-dasharray="4,2.6"/>
<path d="M465.83,864.74 A41,41 0 0,0 501.71,849.14" stroke="#1f2fe6" stroke-width="1.6" fill="none" stroke-dasharray="4,2.6"/>
<path d="M465.35,870.22 A46.5,46.5 0 0,0 506.04,852.53" stroke="#1f2fe6" stroke-width="1.6" fill="none" stroke-dasharray="4,2.6"/>
<circle cx="416.8" cy="864.6" r="19.5" fill="#ffbf00" stroke="none" stroke-width="1" />
<text x="416.8" y="870.84" font-size="16.5" text-anchor="middle" fill="#111" font-weight="normal" >Ce</text>
<circle cx="521.5" cy="864.6" r="19.5" fill="#ffbf00" stroke="none" stroke-width="1" />
<text x="521.5" y="870.84" font-size="16.5" text-anchor="middle" fill="#111" font-weight="normal" >Ce</text>
<circle cx="649.7" cy="864.6" r="19.5" fill="#ffbf00" stroke="none" stroke-width="1" />
<text x="649.7" y="870.84" font-size="16.5" text-anchor="middle" fill="#111" font-weight="normal" >Ce</text>
<circle cx="449.6" cy="867.4" r="10" fill="#ff0000" stroke="#a80000" stroke-width="1.2" />
<text x="449.6" y="873.76" font-size="16" text-anchor="middle" fill="#111" font-weight="normal" >O</text>
<circle cx="488.8" cy="867.4" r="10" fill="#ff0000" stroke="#a80000" stroke-width="1.2" />
<text x="488.8" y="873.76" font-size="16" text-anchor="middle" fill="#111" font-weight="normal" >O</text>
<circle cx="612.5" cy="865.9" r="10" fill="#ff0000" stroke="#a80000" stroke-width="1.2" />
<text x="612.5" y="872.26" font-size="16" text-anchor="middle" fill="#111" font-weight="normal" >O</text>
<circle cx="560.2" cy="865.7" r="11.5" fill="#fff" stroke="#e8d0c8" stroke-width="0.8" stroke-dasharray="1,1"/>
<text x="560.2" y="869.82" font-size="10.6" text-anchor="middle" fill="#222" font-weight="normal" >O</text>
<path d="M456.4,890.2 Q492,888 511.2,857.5" stroke="#a4a8cc" stroke-width="1.3" fill="none" stroke-dasharray="4,2.6"/>
<path d="M463.4,882 Q494,879 508,860" stroke="#a4a8cc" stroke-width="1.3" fill="none" stroke-dasharray="4,2.6"/>
<path d="M531.36,883.14 A21,21 0 0,1 511.64,883.14" stroke="#1f2fe6" stroke-width="1.6" fill="none" stroke-dasharray="4,2.6"/>
<path d="M537.56,887.54 A28,28 0 0,1 505.44,887.54" stroke="#8c98d8" stroke-width="1.3" fill="none" stroke-dasharray="4,2.6"/>
<path d="M541,892.45 A34,34 0 0,1 502,892.45" stroke="#8c98d8" stroke-width="1.3" fill="none" stroke-dasharray="4,2.6"/>
<path d="M544.44,897.37 A40,40 0 0,1 498.56,897.37" stroke="#8c98d8" stroke-width="1.3" fill="none" stroke-dasharray="4,2.6"/>
<circle cx="417.8" cy="933.9" r="19.5" fill="#ffbf00" stroke="none" stroke-width="1" />
<text x="417.8" y="940.14" font-size="16.5" text-anchor="middle" fill="#111" font-weight="normal" >Ce</text>
<circle cx="450.8" cy="933.9" r="10" fill="#ff0000" stroke="#a80000" stroke-width="1.2" />
<text x="450.8" y="940.26" font-size="16" text-anchor="middle" fill="#111" font-weight="normal" >O</text>
<circle cx="494.2" cy="935.1" r="10" fill="#ff0000" stroke="#a80000" stroke-width="1.2" />
<text x="494.2" y="941.46" font-size="16" text-anchor="middle" fill="#111" font-weight="normal" >O</text>
<circle cx="527.8" cy="932.3" r="19.4" fill="#ffbf00" stroke="#ffe800" stroke-width="1.3" />
<text x="527.8" y="938.54" font-size="16.5" text-anchor="middle" fill="#111" font-weight="normal" >Ce</text>
<circle cx="577.8" cy="932.9" r="10" fill="#ff0000" stroke="#6a2aa8" stroke-width="1.7" />
<text x="577.8" y="939.26" font-size="16" text-anchor="middle" fill="#111" font-weight="normal" >O</text>
<circle cx="619.2" cy="932.5" r="10" fill="#ff0000" stroke="#a80000" stroke-width="1.2" />
<text x="619.2" y="938.86" font-size="16" text-anchor="middle" fill="#111" font-weight="normal" >O</text>
<circle cx="651.5" cy="931.6" r="19.5" fill="#ffbf00" stroke="none" stroke-width="1" />
<text x="651.5" y="937.84" font-size="16.5" text-anchor="middle" fill="#111" font-weight="normal" >Ce</text>
<text x="493.7" y="897.78" font-size="15.5" text-anchor="middle" fill="#111" font-weight="normal" >e</text>
<text x="546.3" y="896.68" font-size="15.5" text-anchor="middle" fill="#111" font-weight="normal" >e</text>
<text x="486.7" y="914.18" font-size="15.5" text-anchor="middle" fill="#111" font-weight="normal" >e</text>
<text x="549.8" y="921.18" font-size="15.5" text-anchor="middle" fill="#111" font-weight="normal" >e</text>
<text x="618.6" y="905.88" font-size="15.5" text-anchor="middle" fill="#111" font-weight="normal" >e</text>
<path d="M497.2,914.7 Q503,915 506,919" stroke="#4a7ac8" stroke-width="1.3" fill="none" />
<path d="M508.5,921.5 L503.58,919.63 L506.63,916.58 Z" fill="#4a7ac8"/>
<path d="M506.6,905 Q511,907 513,910" stroke="#4a7ac8" stroke-width="1.3" fill="none" />
<path d="M515,913 L510.73,909.92 L514.47,907.76 Z" fill="#4a7ac8"/>
<path d="M526.9,899.6 L526.9,907.5" stroke="#4a7ac8" stroke-width="1.3" fill="none" />
<path d="M526.9,911 L524.74,906.2 L529.06,906.2 Z" fill="#4a7ac8"/>
<path d="M544,900.7 Q543,906 540.5,909" stroke="#4a7ac8" stroke-width="1.3" fill="none" />
<path d="M538.5,912.4 L539.03,907.16 L542.77,909.32 Z" fill="#4a7ac8"/>
<path d="M548.6,933 L562,933" stroke="#4a7ac8" stroke-width="1.3" fill="none" />
<path d="M566.5,933 L561.5,935.25 L561.5,930.75 Z" fill="#4a7ac8"/>
<path d="M586,923.2 Q605,921 609,906 Q614,889 629,887.5" stroke="#4a7ac8" stroke-width="1.4" fill="none" />
<path d="M633.5,887 L628.4,890.22 L627.71,885.31 Z" fill="#4a7ac8"/>
<text x="530.5" y="950.34" font-size="7.9" text-anchor="middle" fill="#111" font-weight="bold" >electron transfer</text>
</svg></body></html>
